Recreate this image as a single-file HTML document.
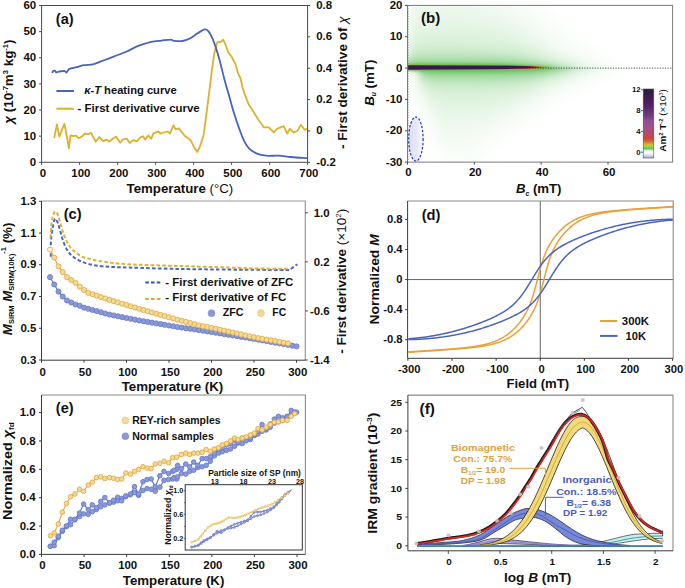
<!DOCTYPE html>
<html><head><meta charset="utf-8"><style>
html,body{margin:0;padding:0;background:#fff;overflow:hidden;}
svg{display:block;font-family:"Liberation Sans", sans-serif;}
</style></head><body>
<svg width="685" height="588" viewBox="0 0 685 588">
<rect width="685" height="588" fill="#fff"/>
<path d="M54.20,138.20 L56.90,124.30 L59.30,136.60 L64.40,123.90 L66.50,134.50 L68.90,148.40 L70.50,135.50 L73.60,136.20 L75.70,135.50 L78.70,138.20 L81.80,136.60 L84.90,133.50 L87.90,134.10 L91.00,132.90 L93.00,136.60 L95.70,141.70 L99.20,137.00 L103.20,141.10 L106.30,139.60 L109.40,141.70 L112.40,139.00 L116.10,136.60 L120.20,142.70 L122.70,139.60 L126.70,138.60 L129.80,143.10 L132.90,140.20 L137.00,141.30 L140.00,137.60 L143.10,136.20 L145.10,139.60 L148.20,135.50 L151.30,138.60 L153.30,133.50 L156.40,132.10 L158.40,131.50 L160.50,133.50 L163.50,132.50 L167.60,131.50 L170.10,133.50 L173.30,125.30 L175.80,129.40 L178.90,128.40 L184.90,136.00 L188.60,138.50 L191.00,140.90 L194.70,148.30 L197.20,152.00 L199.70,147.10 L203.40,136.00 L205.80,118.70 L209.60,89.10 L212.00,69.40 L214.50,52.10 L217.40,42.20 L220.70,42.20 L223.10,39.70 L225.60,44.70 L228.10,52.10 L231.80,57.00 L235.50,64.40 L238.00,73.10 L240.40,78.00 L242.90,89.10 L246.60,99.00 L249.00,105.10 L254.00,112.50 L257.70,118.70 L261.40,123.70 L263.80,127.40 L268.80,127.40 L273.70,132.30 L277.40,128.60 L283.60,126.10 L287.30,133.50 L289.80,128.60 L293.50,132.30 L297.20,131.10 L300.90,124.90 L304.60,129.80 L307.60,128.60" fill="none" stroke="#ddb02e" stroke-width="1.8" stroke-linejoin="round"/>
<path d="M52.20,72.90 L53.20,70.90 L54.80,70.50 L56.20,72.50 L59.30,71.50 L64.40,70.90 L66.50,72.50 L69.10,68.80 L69.10,68.80 C70.20,68.57 73.25,68.00 75.70,67.40 C78.15,66.80 80.92,65.72 83.80,65.20 C86.68,64.68 90.27,64.88 93.00,64.30 C95.73,63.72 97.63,62.65 100.20,61.70 C102.77,60.75 105.68,59.63 108.40,58.60 C111.12,57.57 113.45,56.68 116.50,55.50 C119.55,54.32 123.63,52.85 126.70,51.50 C129.77,50.15 132.50,48.50 134.90,47.40 C137.30,46.30 138.37,45.82 141.10,44.90 C143.83,43.98 147.90,42.62 151.30,41.90 C154.70,41.18 158.27,40.98 161.50,40.60 C164.73,40.22 168.65,39.57 170.70,39.60 C172.75,39.63 171.85,40.57 173.80,40.80 C175.75,41.03 179.73,41.38 182.40,41.00 C185.07,40.62 187.33,39.73 189.80,38.50 C192.27,37.27 194.73,35.12 197.20,33.60 C199.67,32.08 202.75,29.82 204.60,29.40 C206.45,28.98 207.07,29.78 208.30,31.10 C209.53,32.42 210.77,34.63 212.00,37.30 C213.23,39.97 214.47,43.40 215.70,47.10 C216.93,50.80 217.95,54.15 219.40,59.50 C220.85,64.85 222.75,73.03 224.40,79.20 C226.05,85.37 227.67,90.73 229.30,96.50 C230.93,102.27 232.55,108.45 234.20,113.80 C235.85,119.15 237.55,124.08 239.20,128.60 C240.85,133.12 242.47,137.62 244.10,140.90 C245.73,144.18 246.95,146.23 249.00,148.30 C251.05,150.37 253.52,152.07 256.40,153.30 C259.28,154.53 262.58,155.30 266.30,155.70 C270.02,156.10 274.58,155.48 278.70,155.70 C282.82,155.92 286.28,156.58 291.00,157.00 C295.72,157.42 304.33,158.00 307.00,158.20" fill="none" stroke="#4863bb" stroke-width="1.8" stroke-linejoin="round"/>
<rect x="41.6" y="5.5" width="266.00" height="156.80" fill="none" stroke="#4a4a4a" stroke-width="1.0"/>
<line x1="41.60" y1="162.3" x2="41.60" y2="164.8" stroke="#4a4a4a" stroke-width="1"/>
<text transform="translate(42.90,176.90) scale(1.1000,1)" x="0" y="0" font-size="10.4" text-anchor="middle" font-weight="bold" fill="#111">0</text>
<line x1="79.60" y1="162.3" x2="79.60" y2="164.8" stroke="#4a4a4a" stroke-width="1"/>
<text transform="translate(80.90,176.90) scale(1.1000,1)" x="0" y="0" font-size="10.4" text-anchor="middle" font-weight="bold" fill="#111">100</text>
<line x1="117.60" y1="162.3" x2="117.60" y2="164.8" stroke="#4a4a4a" stroke-width="1"/>
<text transform="translate(118.90,176.90) scale(1.1000,1)" x="0" y="0" font-size="10.4" text-anchor="middle" font-weight="bold" fill="#111">200</text>
<line x1="155.60" y1="162.3" x2="155.60" y2="164.8" stroke="#4a4a4a" stroke-width="1"/>
<text transform="translate(156.90,176.90) scale(1.1000,1)" x="0" y="0" font-size="10.4" text-anchor="middle" font-weight="bold" fill="#111">300</text>
<line x1="193.60" y1="162.3" x2="193.60" y2="164.8" stroke="#4a4a4a" stroke-width="1"/>
<text transform="translate(194.90,176.90) scale(1.1000,1)" x="0" y="0" font-size="10.4" text-anchor="middle" font-weight="bold" fill="#111">400</text>
<line x1="231.60" y1="162.3" x2="231.60" y2="164.8" stroke="#4a4a4a" stroke-width="1"/>
<text transform="translate(232.90,176.90) scale(1.1000,1)" x="0" y="0" font-size="10.4" text-anchor="middle" font-weight="bold" fill="#111">500</text>
<line x1="269.60" y1="162.3" x2="269.60" y2="164.8" stroke="#4a4a4a" stroke-width="1"/>
<text transform="translate(270.90,176.90) scale(1.1000,1)" x="0" y="0" font-size="10.4" text-anchor="middle" font-weight="bold" fill="#111">600</text>
<line x1="307.60" y1="162.3" x2="307.60" y2="164.8" stroke="#4a4a4a" stroke-width="1"/>
<text transform="translate(308.90,176.90) scale(1.1000,1)" x="0" y="0" font-size="10.4" text-anchor="middle" font-weight="bold" fill="#111">700</text>
<line x1="41.6" y1="162.30" x2="39.1" y2="162.30" stroke="#4a4a4a" stroke-width="1"/>
<text transform="translate(36.20,165.90) scale(1.1000,1)" x="0" y="0" font-size="10.4" text-anchor="end" font-weight="bold" fill="#111">0</text>
<line x1="41.6" y1="136.17" x2="39.1" y2="136.17" stroke="#4a4a4a" stroke-width="1"/>
<text transform="translate(36.20,139.77) scale(1.1000,1)" x="0" y="0" font-size="10.4" text-anchor="end" font-weight="bold" fill="#111">10</text>
<line x1="41.6" y1="110.03" x2="39.1" y2="110.03" stroke="#4a4a4a" stroke-width="1"/>
<text transform="translate(36.20,113.63) scale(1.1000,1)" x="0" y="0" font-size="10.4" text-anchor="end" font-weight="bold" fill="#111">20</text>
<line x1="41.6" y1="83.90" x2="39.1" y2="83.90" stroke="#4a4a4a" stroke-width="1"/>
<text transform="translate(36.20,87.50) scale(1.1000,1)" x="0" y="0" font-size="10.4" text-anchor="end" font-weight="bold" fill="#111">30</text>
<line x1="41.6" y1="57.77" x2="39.1" y2="57.77" stroke="#4a4a4a" stroke-width="1"/>
<text transform="translate(36.20,61.37) scale(1.1000,1)" x="0" y="0" font-size="10.4" text-anchor="end" font-weight="bold" fill="#111">40</text>
<line x1="41.6" y1="31.63" x2="39.1" y2="31.63" stroke="#4a4a4a" stroke-width="1"/>
<text transform="translate(36.20,35.23) scale(1.1000,1)" x="0" y="0" font-size="10.4" text-anchor="end" font-weight="bold" fill="#111">50</text>
<line x1="41.6" y1="5.50" x2="39.1" y2="5.50" stroke="#4a4a4a" stroke-width="1"/>
<text transform="translate(36.20,9.10) scale(1.1000,1)" x="0" y="0" font-size="10.4" text-anchor="end" font-weight="bold" fill="#111">60</text>
<line x1="307.6" y1="162.30" x2="310.1" y2="162.30" stroke="#4a4a4a" stroke-width="1"/>
<text transform="translate(316.20,165.70) scale(1.1000,1)" x="0" y="0" font-size="10.4" text-anchor="start" font-weight="bold" fill="#111">-0.2</text>
<line x1="307.6" y1="130.94" x2="310.1" y2="130.94" stroke="#4a4a4a" stroke-width="1"/>
<text transform="translate(316.20,134.34) scale(1.1000,1)" x="0" y="0" font-size="10.4" text-anchor="start" font-weight="bold" fill="#111">0</text>
<line x1="307.6" y1="99.58" x2="310.1" y2="99.58" stroke="#4a4a4a" stroke-width="1"/>
<text transform="translate(316.20,102.98) scale(1.1000,1)" x="0" y="0" font-size="10.4" text-anchor="start" font-weight="bold" fill="#111">0.2</text>
<line x1="307.6" y1="68.22" x2="310.1" y2="68.22" stroke="#4a4a4a" stroke-width="1"/>
<text transform="translate(316.20,71.62) scale(1.1000,1)" x="0" y="0" font-size="10.4" text-anchor="start" font-weight="bold" fill="#111">0.4</text>
<line x1="307.6" y1="36.86" x2="310.1" y2="36.86" stroke="#4a4a4a" stroke-width="1"/>
<text transform="translate(316.20,40.26) scale(1.1000,1)" x="0" y="0" font-size="10.4" text-anchor="start" font-weight="bold" fill="#111">0.6</text>
<line x1="307.6" y1="5.50" x2="310.1" y2="5.50" stroke="#4a4a4a" stroke-width="1"/>
<text transform="translate(316.20,8.90) scale(1.1000,1)" x="0" y="0" font-size="10.4" text-anchor="start" font-weight="bold" fill="#111">0.8</text>
<text transform="translate(126.70,193.10) scale(1.0783,1)" x="-0.12" y="0" font-size="12.3" font-weight="bold" fill="#111">Temperature <tspan font-weight="normal">(°C)</tspan></text>
<text transform="translate(56.50,24.00) scale(1.0267,1)" x="-0.64" y="0" font-size="14.2" font-weight="bold" fill="#111">(a)</text>
<line x1="56.4" y1="91" x2="73.9" y2="91" stroke="#4863bb" stroke-width="2"/>
<line x1="56.4" y1="108.7" x2="73.9" y2="108.7" stroke="#ddb02e" stroke-width="2"/>
<text transform="translate(84.90,94.10) scale(1.0443,1)" x="-0.70" y="0" font-size="10.7" font-weight="bold" fill="#111"><tspan font-style="italic">κ-T</tspan> heating curve</text>
<text transform="translate(77.90,111.80) scale(1.0619,1)" x="-0.38" y="0" font-size="10.8" font-weight="bold" fill="#111">- First derivative curve</text>
<text transform="translate(13.20,123.60) rotate(-90) scale(1.0879,1)" x="-0.06" y="0" font-size="12.3" font-weight="bold" fill="#111"><tspan font-style="italic">χ</tspan> (10<tspan font-size="7" dy="-5.2">-7</tspan><tspan dy="5.2">m</tspan><tspan font-size="7" dy="-5.2">3</tspan><tspan dy="5.2"> kg</tspan><tspan font-size="7" dy="-5.2">-1</tspan><tspan dy="5.2">)</tspan></text>
<text transform="translate(346.80,148.60) rotate(-90) scale(1.0314,1)" x="-0.46" y="0" font-size="13.2" font-weight="bold" fill="#111">- First derivative of <tspan font-style="italic" font-weight="normal">χ</tspan></text>
<defs><clipPath id="cb"><rect x="407.5" y="5.4" width="265.1" height="156.7"/></clipPath>
<filter id="bl1" x="-50%" y="-50%" width="200%" height="200%"><feGaussianBlur stdDeviation="1"/></filter>
<filter id="bl2" x="-50%" y="-50%" width="200%" height="200%"><feGaussianBlur stdDeviation="2"/></filter>
<filter id="bl3" x="-50%" y="-50%" width="200%" height="200%"><feGaussianBlur stdDeviation="3"/></filter>
<filter id="bl5" x="-50%" y="-50%" width="200%" height="200%"><feGaussianBlur stdDeviation="5"/></filter>
<filter id="bl8" x="-50%" y="-50%" width="200%" height="200%"><feGaussianBlur stdDeviation="8"/></filter>
</defs><g clip-path="url(#cb)">
<defs><linearGradient id="h0" gradientUnits="userSpaceOnUse" x1="407.5" y1="0" x2="672.6" y2="0"><stop offset="0.000" stop-color="#f6fcf6"/><stop offset="0.030" stop-color="#eff9ef"/><stop offset="0.060" stop-color="#eef8ee"/><stop offset="0.091" stop-color="#edf8ed"/><stop offset="0.121" stop-color="#edf8ed"/><stop offset="0.151" stop-color="#eef8ee"/><stop offset="0.181" stop-color="#eef8ee"/><stop offset="0.211" stop-color="#eef8ee"/><stop offset="0.241" stop-color="#eff8ef"/><stop offset="0.272" stop-color="#eff9ef"/><stop offset="0.302" stop-color="#f0f9f0"/><stop offset="0.332" stop-color="#f1faf1"/><stop offset="0.362" stop-color="#f3faf3"/><stop offset="0.392" stop-color="#f5fbf5"/><stop offset="0.422" stop-color="#f7fcf7"/><stop offset="0.453" stop-color="#f9fcf9"/><stop offset="0.483" stop-color="#fafdfa"/><stop offset="0.513" stop-color="#fcfefc"/><stop offset="0.543" stop-color="#fdfefd"/><stop offset="0.544" stop-color="#ffffff"/></linearGradient><linearGradient id="h1" gradientUnits="userSpaceOnUse" x1="407.5" y1="0" x2="672.6" y2="0"><stop offset="0.000" stop-color="#f6fbf6"/><stop offset="0.030" stop-color="#eef8ee"/><stop offset="0.060" stop-color="#edf8ed"/><stop offset="0.091" stop-color="#edf8ed"/><stop offset="0.121" stop-color="#edf8ed"/><stop offset="0.151" stop-color="#edf8ed"/><stop offset="0.181" stop-color="#edf8ed"/><stop offset="0.211" stop-color="#edf8ed"/><stop offset="0.241" stop-color="#eef8ee"/><stop offset="0.272" stop-color="#eff8ef"/><stop offset="0.302" stop-color="#f0f9f0"/><stop offset="0.332" stop-color="#f1f9f1"/><stop offset="0.362" stop-color="#f2faf2"/><stop offset="0.392" stop-color="#f4fbf4"/><stop offset="0.422" stop-color="#f6fcf6"/><stop offset="0.453" stop-color="#f8fcf8"/><stop offset="0.483" stop-color="#fafdfa"/><stop offset="0.513" stop-color="#fcfefc"/><stop offset="0.543" stop-color="#fdfefd"/><stop offset="0.544" stop-color="#ffffff"/></linearGradient><linearGradient id="h2" gradientUnits="userSpaceOnUse" x1="407.5" y1="0" x2="672.6" y2="0"><stop offset="0.000" stop-color="#f6fbf6"/><stop offset="0.030" stop-color="#eef8ee"/><stop offset="0.060" stop-color="#ecf8ec"/><stop offset="0.091" stop-color="#ecf8ec"/><stop offset="0.121" stop-color="#ecf8ec"/><stop offset="0.151" stop-color="#ecf8ec"/><stop offset="0.181" stop-color="#edf8ed"/><stop offset="0.211" stop-color="#edf8ed"/><stop offset="0.241" stop-color="#edf8ed"/><stop offset="0.272" stop-color="#eef8ee"/><stop offset="0.302" stop-color="#eff9ef"/><stop offset="0.332" stop-color="#f0f9f0"/><stop offset="0.362" stop-color="#f2faf2"/><stop offset="0.392" stop-color="#f4faf4"/><stop offset="0.422" stop-color="#f6fbf6"/><stop offset="0.453" stop-color="#f8fcf8"/><stop offset="0.483" stop-color="#fafdfa"/><stop offset="0.513" stop-color="#fbfefb"/><stop offset="0.543" stop-color="#fdfefd"/><stop offset="0.544" stop-color="#ffffff"/></linearGradient><linearGradient id="h3" gradientUnits="userSpaceOnUse" x1="407.5" y1="0" x2="672.6" y2="0"><stop offset="0.000" stop-color="#f6fbf6"/><stop offset="0.030" stop-color="#edf8ed"/><stop offset="0.060" stop-color="#ecf7ec"/><stop offset="0.091" stop-color="#ecf7ec"/><stop offset="0.121" stop-color="#ecf7ec"/><stop offset="0.151" stop-color="#ecf7ec"/><stop offset="0.181" stop-color="#ecf7ec"/><stop offset="0.211" stop-color="#ecf7ec"/><stop offset="0.241" stop-color="#edf8ed"/><stop offset="0.272" stop-color="#edf8ed"/><stop offset="0.302" stop-color="#eef8ee"/><stop offset="0.332" stop-color="#f0f9f0"/><stop offset="0.362" stop-color="#f1f9f1"/><stop offset="0.392" stop-color="#f3faf3"/><stop offset="0.422" stop-color="#f5fbf5"/><stop offset="0.453" stop-color="#f7fcf7"/><stop offset="0.483" stop-color="#fafdfa"/><stop offset="0.513" stop-color="#fbfdfb"/><stop offset="0.543" stop-color="#fcfefc"/><stop offset="0.573" stop-color="#fdfefd"/><stop offset="0.574" stop-color="#ffffff"/></linearGradient><linearGradient id="h4" gradientUnits="userSpaceOnUse" x1="407.5" y1="0" x2="672.6" y2="0"><stop offset="0.000" stop-color="#f5fbf5"/><stop offset="0.030" stop-color="#ecf8ec"/><stop offset="0.060" stop-color="#ebf7eb"/><stop offset="0.091" stop-color="#ebf7eb"/><stop offset="0.121" stop-color="#ebf7eb"/><stop offset="0.151" stop-color="#ebf7eb"/><stop offset="0.181" stop-color="#ebf7eb"/><stop offset="0.211" stop-color="#ebf7eb"/><stop offset="0.241" stop-color="#ecf7ec"/><stop offset="0.272" stop-color="#ecf8ec"/><stop offset="0.302" stop-color="#edf8ed"/><stop offset="0.332" stop-color="#eff9ef"/><stop offset="0.362" stop-color="#f1f9f1"/><stop offset="0.392" stop-color="#f3faf3"/><stop offset="0.422" stop-color="#f5fbf5"/><stop offset="0.453" stop-color="#f7fcf7"/><stop offset="0.483" stop-color="#f9fdf9"/><stop offset="0.513" stop-color="#fbfdfb"/><stop offset="0.543" stop-color="#fcfefc"/><stop offset="0.573" stop-color="#fdfefd"/><stop offset="0.574" stop-color="#ffffff"/></linearGradient><linearGradient id="h5" gradientUnits="userSpaceOnUse" x1="407.5" y1="0" x2="672.6" y2="0"><stop offset="0.000" stop-color="#f5fbf5"/><stop offset="0.030" stop-color="#ecf7ec"/><stop offset="0.060" stop-color="#eaf7ea"/><stop offset="0.091" stop-color="#eaf7ea"/><stop offset="0.121" stop-color="#eaf7ea"/><stop offset="0.151" stop-color="#eaf7ea"/><stop offset="0.181" stop-color="#eaf7ea"/><stop offset="0.211" stop-color="#ebf7eb"/><stop offset="0.241" stop-color="#ebf7eb"/><stop offset="0.272" stop-color="#ecf7ec"/><stop offset="0.302" stop-color="#edf8ed"/><stop offset="0.332" stop-color="#eef8ee"/><stop offset="0.362" stop-color="#f0f9f0"/><stop offset="0.392" stop-color="#f2faf2"/><stop offset="0.422" stop-color="#f4fbf4"/><stop offset="0.453" stop-color="#f7fcf7"/><stop offset="0.483" stop-color="#f9fcf9"/><stop offset="0.513" stop-color="#fbfdfb"/><stop offset="0.543" stop-color="#fcfefc"/><stop offset="0.573" stop-color="#fdfefd"/><stop offset="0.574" stop-color="#ffffff"/></linearGradient><linearGradient id="h6" gradientUnits="userSpaceOnUse" x1="407.5" y1="0" x2="672.6" y2="0"><stop offset="0.000" stop-color="#f5fbf5"/><stop offset="0.030" stop-color="#ebf7eb"/><stop offset="0.060" stop-color="#eaf6ea"/><stop offset="0.091" stop-color="#e9f6e9"/><stop offset="0.121" stop-color="#e9f6e9"/><stop offset="0.151" stop-color="#eaf6ea"/><stop offset="0.181" stop-color="#eaf7ea"/><stop offset="0.211" stop-color="#eaf7ea"/><stop offset="0.241" stop-color="#eaf7ea"/><stop offset="0.272" stop-color="#ebf7eb"/><stop offset="0.302" stop-color="#ecf7ec"/><stop offset="0.332" stop-color="#edf8ed"/><stop offset="0.362" stop-color="#eff9ef"/><stop offset="0.392" stop-color="#f1faf1"/><stop offset="0.422" stop-color="#f4faf4"/><stop offset="0.453" stop-color="#f6fbf6"/><stop offset="0.483" stop-color="#f8fcf8"/><stop offset="0.513" stop-color="#fafdfa"/><stop offset="0.543" stop-color="#fcfefc"/><stop offset="0.573" stop-color="#fdfefd"/><stop offset="0.574" stop-color="#ffffff"/></linearGradient><linearGradient id="h7" gradientUnits="userSpaceOnUse" x1="407.5" y1="0" x2="672.6" y2="0"><stop offset="0.000" stop-color="#f5fbf5"/><stop offset="0.030" stop-color="#eaf7ea"/><stop offset="0.060" stop-color="#e9f6e9"/><stop offset="0.091" stop-color="#e9f6e9"/><stop offset="0.121" stop-color="#e9f6e9"/><stop offset="0.151" stop-color="#e9f6e9"/><stop offset="0.181" stop-color="#e9f6e9"/><stop offset="0.211" stop-color="#e9f6e9"/><stop offset="0.241" stop-color="#eaf7ea"/><stop offset="0.272" stop-color="#eaf7ea"/><stop offset="0.302" stop-color="#ebf7eb"/><stop offset="0.332" stop-color="#edf8ed"/><stop offset="0.362" stop-color="#eef8ee"/><stop offset="0.392" stop-color="#f1f9f1"/><stop offset="0.422" stop-color="#f3faf3"/><stop offset="0.453" stop-color="#f5fbf5"/><stop offset="0.483" stop-color="#f8fcf8"/><stop offset="0.513" stop-color="#fafdfa"/><stop offset="0.543" stop-color="#fcfefc"/><stop offset="0.573" stop-color="#fdfefd"/><stop offset="0.574" stop-color="#ffffff"/></linearGradient><linearGradient id="h8" gradientUnits="userSpaceOnUse" x1="407.5" y1="0" x2="672.6" y2="0"><stop offset="0.000" stop-color="#f4fbf4"/><stop offset="0.030" stop-color="#eaf7ea"/><stop offset="0.060" stop-color="#e8f6e8"/><stop offset="0.091" stop-color="#e8f6e8"/><stop offset="0.121" stop-color="#e8f6e8"/><stop offset="0.151" stop-color="#e8f6e8"/><stop offset="0.181" stop-color="#e8f6e8"/><stop offset="0.211" stop-color="#e8f6e8"/><stop offset="0.241" stop-color="#e9f6e9"/><stop offset="0.272" stop-color="#e9f6e9"/><stop offset="0.302" stop-color="#eaf7ea"/><stop offset="0.332" stop-color="#ecf7ec"/><stop offset="0.362" stop-color="#eef8ee"/><stop offset="0.392" stop-color="#f0f9f0"/><stop offset="0.422" stop-color="#f2faf2"/><stop offset="0.453" stop-color="#f5fbf5"/><stop offset="0.483" stop-color="#f7fcf7"/><stop offset="0.513" stop-color="#fafdfa"/><stop offset="0.543" stop-color="#fbfefb"/><stop offset="0.573" stop-color="#fdfefd"/><stop offset="0.574" stop-color="#ffffff"/></linearGradient><linearGradient id="h9" gradientUnits="userSpaceOnUse" x1="407.5" y1="0" x2="672.6" y2="0"><stop offset="0.000" stop-color="#f4fbf4"/><stop offset="0.030" stop-color="#e9f6e9"/><stop offset="0.060" stop-color="#e7f6e7"/><stop offset="0.091" stop-color="#e7f6e7"/><stop offset="0.121" stop-color="#e7f6e7"/><stop offset="0.151" stop-color="#e7f6e7"/><stop offset="0.181" stop-color="#e7f6e7"/><stop offset="0.211" stop-color="#e8f6e8"/><stop offset="0.241" stop-color="#e8f6e8"/><stop offset="0.272" stop-color="#e9f6e9"/><stop offset="0.302" stop-color="#eaf6ea"/><stop offset="0.332" stop-color="#ebf7eb"/><stop offset="0.362" stop-color="#edf8ed"/><stop offset="0.392" stop-color="#eff9ef"/><stop offset="0.422" stop-color="#f2faf2"/><stop offset="0.453" stop-color="#f4fbf4"/><stop offset="0.483" stop-color="#f7fcf7"/><stop offset="0.513" stop-color="#f9fdf9"/><stop offset="0.543" stop-color="#fbfdfb"/><stop offset="0.573" stop-color="#fcfefc"/><stop offset="0.604" stop-color="#fdfefd"/><stop offset="0.605" stop-color="#ffffff"/></linearGradient><linearGradient id="h10" gradientUnits="userSpaceOnUse" x1="407.5" y1="0" x2="672.6" y2="0"><stop offset="0.000" stop-color="#f4faf4"/><stop offset="0.030" stop-color="#e8f6e8"/><stop offset="0.060" stop-color="#e7f5e7"/><stop offset="0.091" stop-color="#e6f5e6"/><stop offset="0.121" stop-color="#e6f5e6"/><stop offset="0.151" stop-color="#e7f5e7"/><stop offset="0.181" stop-color="#e7f5e7"/><stop offset="0.211" stop-color="#e7f5e7"/><stop offset="0.241" stop-color="#e7f6e7"/><stop offset="0.272" stop-color="#e8f6e8"/><stop offset="0.302" stop-color="#e9f6e9"/><stop offset="0.332" stop-color="#eaf7ea"/><stop offset="0.362" stop-color="#ecf7ec"/><stop offset="0.392" stop-color="#eef8ee"/><stop offset="0.422" stop-color="#f1f9f1"/><stop offset="0.453" stop-color="#f4faf4"/><stop offset="0.483" stop-color="#f6fcf6"/><stop offset="0.513" stop-color="#f9fdf9"/><stop offset="0.543" stop-color="#fbfdfb"/><stop offset="0.573" stop-color="#fcfefc"/><stop offset="0.604" stop-color="#fdfefd"/><stop offset="0.605" stop-color="#ffffff"/></linearGradient><linearGradient id="h11" gradientUnits="userSpaceOnUse" x1="407.5" y1="0" x2="672.6" y2="0"><stop offset="0.000" stop-color="#f3faf3"/><stop offset="0.030" stop-color="#e7f6e7"/><stop offset="0.060" stop-color="#e6f5e6"/><stop offset="0.091" stop-color="#e6f5e6"/><stop offset="0.121" stop-color="#e6f5e6"/><stop offset="0.151" stop-color="#e6f5e6"/><stop offset="0.181" stop-color="#e6f5e6"/><stop offset="0.211" stop-color="#e6f5e6"/><stop offset="0.241" stop-color="#e6f5e6"/><stop offset="0.272" stop-color="#e7f5e7"/><stop offset="0.302" stop-color="#e8f6e8"/><stop offset="0.332" stop-color="#e9f6e9"/><stop offset="0.362" stop-color="#ebf7eb"/><stop offset="0.392" stop-color="#edf8ed"/><stop offset="0.422" stop-color="#f0f9f0"/><stop offset="0.453" stop-color="#f3faf3"/><stop offset="0.483" stop-color="#f6fbf6"/><stop offset="0.513" stop-color="#f8fcf8"/><stop offset="0.543" stop-color="#fafdfa"/><stop offset="0.573" stop-color="#fcfefc"/><stop offset="0.604" stop-color="#fdfefd"/><stop offset="0.605" stop-color="#ffffff"/></linearGradient><linearGradient id="h12" gradientUnits="userSpaceOnUse" x1="407.5" y1="0" x2="672.6" y2="0"><stop offset="0.000" stop-color="#f3faf3"/><stop offset="0.030" stop-color="#e7f5e7"/><stop offset="0.060" stop-color="#e5f5e5"/><stop offset="0.091" stop-color="#e5f5e5"/><stop offset="0.121" stop-color="#e5f5e5"/><stop offset="0.151" stop-color="#e5f5e5"/><stop offset="0.181" stop-color="#e5f5e5"/><stop offset="0.211" stop-color="#e5f5e5"/><stop offset="0.241" stop-color="#e6f5e6"/><stop offset="0.272" stop-color="#e6f5e6"/><stop offset="0.302" stop-color="#e7f5e7"/><stop offset="0.332" stop-color="#e8f6e8"/><stop offset="0.362" stop-color="#eaf7ea"/><stop offset="0.392" stop-color="#ecf8ec"/><stop offset="0.422" stop-color="#f0f9f0"/><stop offset="0.453" stop-color="#f2faf2"/><stop offset="0.483" stop-color="#f5fbf5"/><stop offset="0.513" stop-color="#f8fcf8"/><stop offset="0.543" stop-color="#fafdfa"/><stop offset="0.573" stop-color="#fcfefc"/><stop offset="0.604" stop-color="#fdfefd"/><stop offset="0.605" stop-color="#ffffff"/></linearGradient><linearGradient id="h13" gradientUnits="userSpaceOnUse" x1="407.5" y1="0" x2="672.6" y2="0"><stop offset="0.000" stop-color="#f3faf3"/><stop offset="0.030" stop-color="#e6f5e6"/><stop offset="0.060" stop-color="#e4f4e4"/><stop offset="0.091" stop-color="#e4f4e4"/><stop offset="0.121" stop-color="#e4f4e4"/><stop offset="0.151" stop-color="#e4f4e4"/><stop offset="0.181" stop-color="#e4f4e4"/><stop offset="0.211" stop-color="#e4f4e4"/><stop offset="0.241" stop-color="#e5f5e5"/><stop offset="0.272" stop-color="#e5f5e5"/><stop offset="0.302" stop-color="#e6f5e6"/><stop offset="0.332" stop-color="#e7f6e7"/><stop offset="0.362" stop-color="#e9f6e9"/><stop offset="0.392" stop-color="#ebf7eb"/><stop offset="0.422" stop-color="#eff8ef"/><stop offset="0.453" stop-color="#f2faf2"/><stop offset="0.483" stop-color="#f5fbf5"/><stop offset="0.513" stop-color="#f7fcf7"/><stop offset="0.543" stop-color="#fafdfa"/><stop offset="0.573" stop-color="#fbfefb"/><stop offset="0.604" stop-color="#fdfefd"/><stop offset="0.605" stop-color="#ffffff"/></linearGradient><linearGradient id="h14" gradientUnits="userSpaceOnUse" x1="407.5" y1="0" x2="672.6" y2="0"><stop offset="0.000" stop-color="#f2faf2"/><stop offset="0.030" stop-color="#e5f5e5"/><stop offset="0.060" stop-color="#e3f4e3"/><stop offset="0.091" stop-color="#e3f4e3"/><stop offset="0.121" stop-color="#e3f4e3"/><stop offset="0.151" stop-color="#e3f4e3"/><stop offset="0.181" stop-color="#e3f4e3"/><stop offset="0.211" stop-color="#e3f4e3"/><stop offset="0.241" stop-color="#e4f4e4"/><stop offset="0.272" stop-color="#e4f4e4"/><stop offset="0.302" stop-color="#e5f5e5"/><stop offset="0.332" stop-color="#e6f5e6"/><stop offset="0.362" stop-color="#e8f6e8"/><stop offset="0.392" stop-color="#eaf7ea"/><stop offset="0.422" stop-color="#eef8ee"/><stop offset="0.453" stop-color="#f1f9f1"/><stop offset="0.483" stop-color="#f4fbf4"/><stop offset="0.513" stop-color="#f7fcf7"/><stop offset="0.543" stop-color="#f9fdf9"/><stop offset="0.573" stop-color="#fbfdfb"/><stop offset="0.604" stop-color="#fcfefc"/><stop offset="0.634" stop-color="#fdfefd"/><stop offset="0.635" stop-color="#ffffff"/></linearGradient><linearGradient id="h15" gradientUnits="userSpaceOnUse" x1="407.5" y1="0" x2="672.6" y2="0"><stop offset="0.000" stop-color="#f2faf2"/><stop offset="0.030" stop-color="#e4f4e4"/><stop offset="0.060" stop-color="#e2f4e2"/><stop offset="0.091" stop-color="#e2f3e2"/><stop offset="0.121" stop-color="#e2f3e2"/><stop offset="0.151" stop-color="#e2f4e2"/><stop offset="0.181" stop-color="#e2f4e2"/><stop offset="0.211" stop-color="#e2f4e2"/><stop offset="0.241" stop-color="#e3f4e3"/><stop offset="0.272" stop-color="#e3f4e3"/><stop offset="0.302" stop-color="#e4f4e4"/><stop offset="0.332" stop-color="#e5f5e5"/><stop offset="0.362" stop-color="#e7f5e7"/><stop offset="0.392" stop-color="#e9f6e9"/><stop offset="0.422" stop-color="#edf8ed"/><stop offset="0.453" stop-color="#f0f9f0"/><stop offset="0.483" stop-color="#f3faf3"/><stop offset="0.513" stop-color="#f6fcf6"/><stop offset="0.543" stop-color="#f9fdf9"/><stop offset="0.573" stop-color="#fbfdfb"/><stop offset="0.604" stop-color="#fcfefc"/><stop offset="0.634" stop-color="#fdfefd"/><stop offset="0.635" stop-color="#ffffff"/></linearGradient><linearGradient id="h16" gradientUnits="userSpaceOnUse" x1="407.5" y1="0" x2="672.6" y2="0"><stop offset="0.000" stop-color="#f1faf1"/><stop offset="0.030" stop-color="#e3f4e3"/><stop offset="0.060" stop-color="#e1f3e1"/><stop offset="0.091" stop-color="#e1f3e1"/><stop offset="0.121" stop-color="#e1f3e1"/><stop offset="0.151" stop-color="#e1f3e1"/><stop offset="0.181" stop-color="#e1f3e1"/><stop offset="0.211" stop-color="#e1f3e1"/><stop offset="0.241" stop-color="#e2f3e2"/><stop offset="0.272" stop-color="#e2f4e2"/><stop offset="0.302" stop-color="#e3f4e3"/><stop offset="0.332" stop-color="#e4f4e4"/><stop offset="0.362" stop-color="#e6f5e6"/><stop offset="0.392" stop-color="#e8f6e8"/><stop offset="0.422" stop-color="#ecf7ec"/><stop offset="0.453" stop-color="#eff9ef"/><stop offset="0.483" stop-color="#f3faf3"/><stop offset="0.513" stop-color="#f6fbf6"/><stop offset="0.543" stop-color="#f8fcf8"/><stop offset="0.573" stop-color="#fafdfa"/><stop offset="0.604" stop-color="#fcfefc"/><stop offset="0.634" stop-color="#fdfefd"/><stop offset="0.635" stop-color="#ffffff"/></linearGradient><linearGradient id="h17" gradientUnits="userSpaceOnUse" x1="407.5" y1="0" x2="672.6" y2="0"><stop offset="0.000" stop-color="#f1f9f1"/><stop offset="0.030" stop-color="#e2f4e2"/><stop offset="0.060" stop-color="#e0f3e0"/><stop offset="0.091" stop-color="#e0f3e0"/><stop offset="0.121" stop-color="#e0f3e0"/><stop offset="0.151" stop-color="#e0f3e0"/><stop offset="0.181" stop-color="#e0f3e0"/><stop offset="0.211" stop-color="#e0f3e0"/><stop offset="0.241" stop-color="#e1f3e1"/><stop offset="0.272" stop-color="#e1f3e1"/><stop offset="0.302" stop-color="#e2f3e2"/><stop offset="0.332" stop-color="#e3f4e3"/><stop offset="0.362" stop-color="#e5f5e5"/><stop offset="0.392" stop-color="#e7f6e7"/><stop offset="0.422" stop-color="#eaf7ea"/><stop offset="0.453" stop-color="#eef8ee"/><stop offset="0.483" stop-color="#f2faf2"/><stop offset="0.513" stop-color="#f5fbf5"/><stop offset="0.543" stop-color="#f8fcf8"/><stop offset="0.573" stop-color="#fafdfa"/><stop offset="0.604" stop-color="#fcfefc"/><stop offset="0.634" stop-color="#fdfefd"/><stop offset="0.635" stop-color="#ffffff"/></linearGradient><linearGradient id="h18" gradientUnits="userSpaceOnUse" x1="407.5" y1="0" x2="672.6" y2="0"><stop offset="0.000" stop-color="#f1f9f1"/><stop offset="0.030" stop-color="#e1f3e1"/><stop offset="0.060" stop-color="#dff2df"/><stop offset="0.091" stop-color="#dff2df"/><stop offset="0.121" stop-color="#dff2df"/><stop offset="0.151" stop-color="#dff2df"/><stop offset="0.181" stop-color="#dff2df"/><stop offset="0.211" stop-color="#dff2df"/><stop offset="0.241" stop-color="#e0f3e0"/><stop offset="0.272" stop-color="#e0f3e0"/><stop offset="0.302" stop-color="#e1f3e1"/><stop offset="0.332" stop-color="#e2f3e2"/><stop offset="0.362" stop-color="#e4f4e4"/><stop offset="0.392" stop-color="#e6f5e6"/><stop offset="0.422" stop-color="#e9f6e9"/><stop offset="0.453" stop-color="#edf8ed"/><stop offset="0.483" stop-color="#f1f9f1"/><stop offset="0.513" stop-color="#f4fbf4"/><stop offset="0.543" stop-color="#f7fcf7"/><stop offset="0.573" stop-color="#fafdfa"/><stop offset="0.604" stop-color="#fbfefb"/><stop offset="0.634" stop-color="#fdfefd"/><stop offset="0.635" stop-color="#ffffff"/></linearGradient><linearGradient id="h19" gradientUnits="userSpaceOnUse" x1="407.5" y1="0" x2="672.6" y2="0"><stop offset="0.000" stop-color="#f0f9f0"/><stop offset="0.030" stop-color="#e0f3e0"/><stop offset="0.060" stop-color="#def2de"/><stop offset="0.091" stop-color="#def2de"/><stop offset="0.121" stop-color="#def2de"/><stop offset="0.151" stop-color="#def2de"/><stop offset="0.181" stop-color="#def2de"/><stop offset="0.211" stop-color="#def2de"/><stop offset="0.241" stop-color="#def2de"/><stop offset="0.272" stop-color="#dff2df"/><stop offset="0.302" stop-color="#e0f3e0"/><stop offset="0.332" stop-color="#e1f3e1"/><stop offset="0.362" stop-color="#e2f4e2"/><stop offset="0.392" stop-color="#e5f5e5"/><stop offset="0.422" stop-color="#e8f6e8"/><stop offset="0.453" stop-color="#ecf7ec"/><stop offset="0.483" stop-color="#f0f9f0"/><stop offset="0.513" stop-color="#f4faf4"/><stop offset="0.543" stop-color="#f7fcf7"/><stop offset="0.573" stop-color="#f9fdf9"/><stop offset="0.604" stop-color="#fbfdfb"/><stop offset="0.634" stop-color="#fcfefc"/><stop offset="0.664" stop-color="#fdfefd"/><stop offset="0.665" stop-color="#ffffff"/></linearGradient><linearGradient id="h20" gradientUnits="userSpaceOnUse" x1="407.5" y1="0" x2="672.6" y2="0"><stop offset="0.000" stop-color="#f0f9f0"/><stop offset="0.030" stop-color="#dff2df"/><stop offset="0.060" stop-color="#ddf1dd"/><stop offset="0.091" stop-color="#ddf1dd"/><stop offset="0.121" stop-color="#ddf1dd"/><stop offset="0.151" stop-color="#ddf1dd"/><stop offset="0.181" stop-color="#ddf1dd"/><stop offset="0.211" stop-color="#ddf2dd"/><stop offset="0.241" stop-color="#ddf2dd"/><stop offset="0.272" stop-color="#def2de"/><stop offset="0.302" stop-color="#def2de"/><stop offset="0.332" stop-color="#e0f3e0"/><stop offset="0.362" stop-color="#e1f3e1"/><stop offset="0.392" stop-color="#e4f4e4"/><stop offset="0.422" stop-color="#e7f5e7"/><stop offset="0.453" stop-color="#ebf7eb"/><stop offset="0.483" stop-color="#eff9ef"/><stop offset="0.513" stop-color="#f3faf3"/><stop offset="0.543" stop-color="#f6fbf6"/><stop offset="0.573" stop-color="#f9fcf9"/><stop offset="0.604" stop-color="#fbfdfb"/><stop offset="0.634" stop-color="#fcfefc"/><stop offset="0.664" stop-color="#fdfefd"/><stop offset="0.665" stop-color="#ffffff"/></linearGradient><linearGradient id="h21" gradientUnits="userSpaceOnUse" x1="407.5" y1="0" x2="672.6" y2="0"><stop offset="0.000" stop-color="#eff9ef"/><stop offset="0.030" stop-color="#def2de"/><stop offset="0.060" stop-color="#dcf1dc"/><stop offset="0.091" stop-color="#dbf1db"/><stop offset="0.121" stop-color="#dbf1db"/><stop offset="0.151" stop-color="#dbf1db"/><stop offset="0.181" stop-color="#dcf1dc"/><stop offset="0.211" stop-color="#dcf1dc"/><stop offset="0.241" stop-color="#dcf1dc"/><stop offset="0.272" stop-color="#dcf1dc"/><stop offset="0.302" stop-color="#ddf2dd"/><stop offset="0.332" stop-color="#def2de"/><stop offset="0.362" stop-color="#e0f3e0"/><stop offset="0.392" stop-color="#e2f4e2"/><stop offset="0.422" stop-color="#e5f5e5"/><stop offset="0.453" stop-color="#e9f6e9"/><stop offset="0.483" stop-color="#eef8ee"/><stop offset="0.513" stop-color="#f2faf2"/><stop offset="0.543" stop-color="#f5fbf5"/><stop offset="0.573" stop-color="#f8fcf8"/><stop offset="0.604" stop-color="#fafdfa"/><stop offset="0.634" stop-color="#fcfefc"/><stop offset="0.664" stop-color="#fdfefd"/><stop offset="0.665" stop-color="#ffffff"/></linearGradient><linearGradient id="h22" gradientUnits="userSpaceOnUse" x1="407.5" y1="0" x2="672.6" y2="0"><stop offset="0.000" stop-color="#eef8ee"/><stop offset="0.030" stop-color="#ddf1dd"/><stop offset="0.060" stop-color="#daf1da"/><stop offset="0.091" stop-color="#daf0da"/><stop offset="0.121" stop-color="#daf0da"/><stop offset="0.151" stop-color="#daf0da"/><stop offset="0.181" stop-color="#daf0da"/><stop offset="0.211" stop-color="#daf1da"/><stop offset="0.241" stop-color="#dbf1db"/><stop offset="0.272" stop-color="#dbf1db"/><stop offset="0.302" stop-color="#dcf1dc"/><stop offset="0.332" stop-color="#ddf2dd"/><stop offset="0.362" stop-color="#dff2df"/><stop offset="0.392" stop-color="#e1f3e1"/><stop offset="0.422" stop-color="#e4f4e4"/><stop offset="0.453" stop-color="#e8f6e8"/><stop offset="0.483" stop-color="#edf8ed"/><stop offset="0.513" stop-color="#f1f9f1"/><stop offset="0.543" stop-color="#f5fbf5"/><stop offset="0.573" stop-color="#f8fcf8"/><stop offset="0.604" stop-color="#fafdfa"/><stop offset="0.634" stop-color="#fcfefc"/><stop offset="0.664" stop-color="#fdfefd"/><stop offset="0.665" stop-color="#ffffff"/></linearGradient><linearGradient id="h23" gradientUnits="userSpaceOnUse" x1="407.5" y1="0" x2="672.6" y2="0"><stop offset="0.000" stop-color="#eef8ee"/><stop offset="0.030" stop-color="#dbf1db"/><stop offset="0.060" stop-color="#d9f0d9"/><stop offset="0.091" stop-color="#d9f0d9"/><stop offset="0.121" stop-color="#d9f0d9"/><stop offset="0.151" stop-color="#d9f0d9"/><stop offset="0.181" stop-color="#d9f0d9"/><stop offset="0.211" stop-color="#d9f0d9"/><stop offset="0.241" stop-color="#d9f0d9"/><stop offset="0.272" stop-color="#daf0da"/><stop offset="0.302" stop-color="#daf1da"/><stop offset="0.332" stop-color="#dbf1db"/><stop offset="0.362" stop-color="#ddf2dd"/><stop offset="0.392" stop-color="#dff2df"/><stop offset="0.422" stop-color="#e3f4e3"/><stop offset="0.453" stop-color="#e7f5e7"/><stop offset="0.483" stop-color="#ebf7eb"/><stop offset="0.513" stop-color="#f0f9f0"/><stop offset="0.543" stop-color="#f4fbf4"/><stop offset="0.573" stop-color="#f7fcf7"/><stop offset="0.604" stop-color="#f9fdf9"/><stop offset="0.634" stop-color="#fbfdfb"/><stop offset="0.664" stop-color="#fcfefc"/><stop offset="0.694" stop-color="#fdfefd"/><stop offset="0.695" stop-color="#ffffff"/></linearGradient><linearGradient id="h24" gradientUnits="userSpaceOnUse" x1="407.5" y1="0" x2="672.6" y2="0"><stop offset="0.000" stop-color="#edf8ed"/><stop offset="0.030" stop-color="#daf0da"/><stop offset="0.060" stop-color="#d8efd8"/><stop offset="0.091" stop-color="#d7efd7"/><stop offset="0.121" stop-color="#d7efd7"/><stop offset="0.151" stop-color="#d7efd7"/><stop offset="0.181" stop-color="#d7efd7"/><stop offset="0.211" stop-color="#d8efd8"/><stop offset="0.241" stop-color="#d8f0d8"/><stop offset="0.272" stop-color="#d8f0d8"/><stop offset="0.302" stop-color="#d9f0d9"/><stop offset="0.332" stop-color="#daf0da"/><stop offset="0.362" stop-color="#dcf1dc"/><stop offset="0.392" stop-color="#def2de"/><stop offset="0.422" stop-color="#e1f3e1"/><stop offset="0.453" stop-color="#e5f5e5"/><stop offset="0.483" stop-color="#eaf7ea"/><stop offset="0.513" stop-color="#eff9ef"/><stop offset="0.543" stop-color="#f3faf3"/><stop offset="0.573" stop-color="#f6fbf6"/><stop offset="0.604" stop-color="#f9fdf9"/><stop offset="0.634" stop-color="#fbfdfb"/><stop offset="0.664" stop-color="#fcfefc"/><stop offset="0.694" stop-color="#fdfefd"/><stop offset="0.695" stop-color="#ffffff"/></linearGradient><linearGradient id="h25" gradientUnits="userSpaceOnUse" x1="407.5" y1="0" x2="672.6" y2="0"><stop offset="0.000" stop-color="#ecf7ec"/><stop offset="0.030" stop-color="#d9f0d9"/><stop offset="0.060" stop-color="#d6efd6"/><stop offset="0.091" stop-color="#d6efd6"/><stop offset="0.121" stop-color="#d6efd6"/><stop offset="0.151" stop-color="#d6efd6"/><stop offset="0.181" stop-color="#d6efd6"/><stop offset="0.211" stop-color="#d6efd6"/><stop offset="0.241" stop-color="#d6efd6"/><stop offset="0.272" stop-color="#d7efd7"/><stop offset="0.302" stop-color="#d7efd7"/><stop offset="0.332" stop-color="#d8f0d8"/><stop offset="0.362" stop-color="#daf0da"/><stop offset="0.392" stop-color="#dcf1dc"/><stop offset="0.422" stop-color="#dff2df"/><stop offset="0.453" stop-color="#e3f4e3"/><stop offset="0.483" stop-color="#e8f6e8"/><stop offset="0.513" stop-color="#edf8ed"/><stop offset="0.543" stop-color="#f2faf2"/><stop offset="0.573" stop-color="#f5fbf5"/><stop offset="0.604" stop-color="#f8fcf8"/><stop offset="0.634" stop-color="#fafdfa"/><stop offset="0.664" stop-color="#fcfefc"/><stop offset="0.694" stop-color="#fdfefd"/><stop offset="0.695" stop-color="#ffffff"/></linearGradient><linearGradient id="h26" gradientUnits="userSpaceOnUse" x1="407.5" y1="0" x2="672.6" y2="0"><stop offset="0.000" stop-color="#ebf7eb"/><stop offset="0.030" stop-color="#d7efd7"/><stop offset="0.060" stop-color="#d4eed4"/><stop offset="0.091" stop-color="#d4eed4"/><stop offset="0.121" stop-color="#d4eed4"/><stop offset="0.151" stop-color="#d4eed4"/><stop offset="0.181" stop-color="#d4eed4"/><stop offset="0.211" stop-color="#d4eed4"/><stop offset="0.241" stop-color="#d5eed5"/><stop offset="0.272" stop-color="#d5eed5"/><stop offset="0.302" stop-color="#d6efd6"/><stop offset="0.332" stop-color="#d7efd7"/><stop offset="0.362" stop-color="#d8f0d8"/><stop offset="0.392" stop-color="#daf0da"/><stop offset="0.422" stop-color="#ddf2dd"/><stop offset="0.453" stop-color="#e2f3e2"/><stop offset="0.483" stop-color="#e6f5e6"/><stop offset="0.513" stop-color="#ecf7ec"/><stop offset="0.543" stop-color="#f1f9f1"/><stop offset="0.573" stop-color="#f5fbf5"/><stop offset="0.604" stop-color="#f8fcf8"/><stop offset="0.634" stop-color="#fafdfa"/><stop offset="0.664" stop-color="#fcfefc"/><stop offset="0.694" stop-color="#fdfefd"/><stop offset="0.695" stop-color="#ffffff"/></linearGradient><linearGradient id="h27" gradientUnits="userSpaceOnUse" x1="407.5" y1="0" x2="672.6" y2="0"><stop offset="0.000" stop-color="#eaf7ea"/><stop offset="0.030" stop-color="#d5efd5"/><stop offset="0.060" stop-color="#d2edd2"/><stop offset="0.091" stop-color="#d1edd1"/><stop offset="0.121" stop-color="#d1edd1"/><stop offset="0.151" stop-color="#d1edd1"/><stop offset="0.181" stop-color="#d1edd1"/><stop offset="0.211" stop-color="#d2edd2"/><stop offset="0.241" stop-color="#d2edd2"/><stop offset="0.272" stop-color="#d3edd3"/><stop offset="0.302" stop-color="#d4eed4"/><stop offset="0.332" stop-color="#d5eed5"/><stop offset="0.362" stop-color="#d6efd6"/><stop offset="0.392" stop-color="#d8f0d8"/><stop offset="0.422" stop-color="#dcf1dc"/><stop offset="0.453" stop-color="#e0f3e0"/><stop offset="0.483" stop-color="#e5f5e5"/><stop offset="0.513" stop-color="#eaf7ea"/><stop offset="0.543" stop-color="#f0f9f0"/><stop offset="0.573" stop-color="#f4faf4"/><stop offset="0.604" stop-color="#f7fcf7"/><stop offset="0.634" stop-color="#f9fdf9"/><stop offset="0.664" stop-color="#fbfdfb"/><stop offset="0.694" stop-color="#fcfefc"/><stop offset="0.724" stop-color="#fdfefd"/><stop offset="0.725" stop-color="#ffffff"/></linearGradient><linearGradient id="h28" gradientUnits="userSpaceOnUse" x1="407.5" y1="0" x2="672.6" y2="0"><stop offset="0.000" stop-color="#e9f6e9"/><stop offset="0.030" stop-color="#d3eed3"/><stop offset="0.060" stop-color="#cfeccf"/><stop offset="0.091" stop-color="#ceecce"/><stop offset="0.121" stop-color="#ceecce"/><stop offset="0.151" stop-color="#ceecce"/><stop offset="0.181" stop-color="#ceecce"/><stop offset="0.211" stop-color="#cfeccf"/><stop offset="0.241" stop-color="#cfeccf"/><stop offset="0.272" stop-color="#d0ecd0"/><stop offset="0.302" stop-color="#d1edd1"/><stop offset="0.332" stop-color="#d2edd2"/><stop offset="0.362" stop-color="#d4eed4"/><stop offset="0.392" stop-color="#d6efd6"/><stop offset="0.422" stop-color="#d9f0d9"/><stop offset="0.453" stop-color="#ddf2dd"/><stop offset="0.483" stop-color="#e3f4e3"/><stop offset="0.513" stop-color="#e8f6e8"/><stop offset="0.543" stop-color="#eef8ee"/><stop offset="0.573" stop-color="#f2faf2"/><stop offset="0.604" stop-color="#f6fbf6"/><stop offset="0.634" stop-color="#f9fcf9"/><stop offset="0.664" stop-color="#fbfdfb"/><stop offset="0.694" stop-color="#fcfefc"/><stop offset="0.724" stop-color="#fdfefd"/><stop offset="0.725" stop-color="#ffffff"/></linearGradient><linearGradient id="h29" gradientUnits="userSpaceOnUse" x1="407.5" y1="0" x2="672.6" y2="0"><stop offset="0.000" stop-color="#e8f6e8"/><stop offset="0.030" stop-color="#d0ecd0"/><stop offset="0.060" stop-color="#ccebcc"/><stop offset="0.091" stop-color="#cbeacb"/><stop offset="0.121" stop-color="#cbeacb"/><stop offset="0.151" stop-color="#cbeacb"/><stop offset="0.181" stop-color="#cbeacb"/><stop offset="0.211" stop-color="#cbeacb"/><stop offset="0.241" stop-color="#ccebcc"/><stop offset="0.272" stop-color="#ccebcc"/><stop offset="0.302" stop-color="#cdebcd"/><stop offset="0.332" stop-color="#cfeccf"/><stop offset="0.362" stop-color="#d1edd1"/><stop offset="0.392" stop-color="#d4eed4"/><stop offset="0.422" stop-color="#d7efd7"/><stop offset="0.453" stop-color="#dbf1db"/><stop offset="0.483" stop-color="#e0f3e0"/><stop offset="0.513" stop-color="#e6f5e6"/><stop offset="0.543" stop-color="#ecf7ec"/><stop offset="0.573" stop-color="#f1f9f1"/><stop offset="0.604" stop-color="#f5fbf5"/><stop offset="0.634" stop-color="#f8fcf8"/><stop offset="0.664" stop-color="#fafdfa"/><stop offset="0.694" stop-color="#fcfefc"/><stop offset="0.724" stop-color="#fdfefd"/><stop offset="0.725" stop-color="#ffffff"/></linearGradient><linearGradient id="h30" gradientUnits="userSpaceOnUse" x1="407.5" y1="0" x2="672.6" y2="0"><stop offset="0.000" stop-color="#e4f4e4"/><stop offset="0.030" stop-color="#ccebcc"/><stop offset="0.060" stop-color="#c8e9c8"/><stop offset="0.091" stop-color="#c7e9c7"/><stop offset="0.121" stop-color="#c7e9c7"/><stop offset="0.151" stop-color="#c7e9c7"/><stop offset="0.181" stop-color="#c7e9c7"/><stop offset="0.211" stop-color="#c8e9c8"/><stop offset="0.241" stop-color="#c8e9c8"/><stop offset="0.272" stop-color="#c9e9c9"/><stop offset="0.302" stop-color="#c9eac9"/><stop offset="0.332" stop-color="#cbeacb"/><stop offset="0.362" stop-color="#cdebcd"/><stop offset="0.392" stop-color="#d0ecd0"/><stop offset="0.422" stop-color="#d4eed4"/><stop offset="0.453" stop-color="#d9f0d9"/><stop offset="0.483" stop-color="#def2de"/><stop offset="0.513" stop-color="#e4f4e4"/><stop offset="0.543" stop-color="#eaf7ea"/><stop offset="0.573" stop-color="#f0f9f0"/><stop offset="0.604" stop-color="#f4faf4"/><stop offset="0.634" stop-color="#f7fcf7"/><stop offset="0.664" stop-color="#f9fdf9"/><stop offset="0.694" stop-color="#fbfefb"/><stop offset="0.724" stop-color="#fdfefd"/><stop offset="0.725" stop-color="#ffffff"/></linearGradient><linearGradient id="h31" gradientUnits="userSpaceOnUse" x1="407.5" y1="0" x2="672.6" y2="0"><stop offset="0.000" stop-color="#e0f3e0"/><stop offset="0.030" stop-color="#c8e9c8"/><stop offset="0.060" stop-color="#c4e7c4"/><stop offset="0.091" stop-color="#c3e7c3"/><stop offset="0.121" stop-color="#c3e7c3"/><stop offset="0.151" stop-color="#c3e7c3"/><stop offset="0.181" stop-color="#c3e7c3"/><stop offset="0.211" stop-color="#c4e7c4"/><stop offset="0.241" stop-color="#c4e7c4"/><stop offset="0.272" stop-color="#c4e8c4"/><stop offset="0.302" stop-color="#c5e8c5"/><stop offset="0.332" stop-color="#c7e8c7"/><stop offset="0.362" stop-color="#c9e9c9"/><stop offset="0.392" stop-color="#ccebcc"/><stop offset="0.422" stop-color="#d0ecd0"/><stop offset="0.453" stop-color="#d6efd6"/><stop offset="0.483" stop-color="#dbf1db"/><stop offset="0.513" stop-color="#e1f3e1"/><stop offset="0.543" stop-color="#e7f6e7"/><stop offset="0.573" stop-color="#edf8ed"/><stop offset="0.604" stop-color="#f2faf2"/><stop offset="0.634" stop-color="#f6fbf6"/><stop offset="0.664" stop-color="#f9fcf9"/><stop offset="0.694" stop-color="#fbfdfb"/><stop offset="0.724" stop-color="#fcfefc"/><stop offset="0.754" stop-color="#fdfefd"/><stop offset="0.755" stop-color="#ffffff"/></linearGradient><linearGradient id="h32" gradientUnits="userSpaceOnUse" x1="407.5" y1="0" x2="672.6" y2="0"><stop offset="0.000" stop-color="#dcf1dc"/><stop offset="0.030" stop-color="#c3e7c3"/><stop offset="0.060" stop-color="#bfe5bf"/><stop offset="0.091" stop-color="#bee5be"/><stop offset="0.121" stop-color="#bee5be"/><stop offset="0.151" stop-color="#bfe5bf"/><stop offset="0.181" stop-color="#bfe5bf"/><stop offset="0.211" stop-color="#bfe5bf"/><stop offset="0.241" stop-color="#bfe5bf"/><stop offset="0.272" stop-color="#c0e6c0"/><stop offset="0.302" stop-color="#c1e6c1"/><stop offset="0.332" stop-color="#c2e7c2"/><stop offset="0.362" stop-color="#c4e7c4"/><stop offset="0.392" stop-color="#c7e9c7"/><stop offset="0.422" stop-color="#cbeacb"/><stop offset="0.453" stop-color="#d2edd2"/><stop offset="0.483" stop-color="#d8efd8"/><stop offset="0.513" stop-color="#def2de"/><stop offset="0.543" stop-color="#e5f5e5"/><stop offset="0.573" stop-color="#ebf7eb"/><stop offset="0.604" stop-color="#f1f9f1"/><stop offset="0.634" stop-color="#f4fbf4"/><stop offset="0.664" stop-color="#f8fcf8"/><stop offset="0.694" stop-color="#fafdfa"/><stop offset="0.724" stop-color="#fcfefc"/><stop offset="0.754" stop-color="#fdfefd"/><stop offset="0.755" stop-color="#ffffff"/></linearGradient><linearGradient id="h33" gradientUnits="userSpaceOnUse" x1="407.5" y1="0" x2="672.6" y2="0"><stop offset="0.000" stop-color="#d7efd7"/><stop offset="0.030" stop-color="#bde5bd"/><stop offset="0.060" stop-color="#bae3ba"/><stop offset="0.091" stop-color="#b9e3b9"/><stop offset="0.121" stop-color="#b9e3b9"/><stop offset="0.151" stop-color="#b9e3b9"/><stop offset="0.181" stop-color="#b9e3b9"/><stop offset="0.211" stop-color="#bae3ba"/><stop offset="0.241" stop-color="#bae3ba"/><stop offset="0.272" stop-color="#bae3ba"/><stop offset="0.302" stop-color="#bbe4bb"/><stop offset="0.332" stop-color="#bce4bc"/><stop offset="0.362" stop-color="#bee5be"/><stop offset="0.392" stop-color="#c2e6c2"/><stop offset="0.422" stop-color="#c6e8c6"/><stop offset="0.453" stop-color="#ccebcc"/><stop offset="0.483" stop-color="#d4eed4"/><stop offset="0.513" stop-color="#daf1da"/><stop offset="0.543" stop-color="#e1f3e1"/><stop offset="0.573" stop-color="#e8f6e8"/><stop offset="0.604" stop-color="#eef8ee"/><stop offset="0.634" stop-color="#f3faf3"/><stop offset="0.664" stop-color="#f7fcf7"/><stop offset="0.694" stop-color="#f9fdf9"/><stop offset="0.724" stop-color="#fbfefb"/><stop offset="0.754" stop-color="#fdfefd"/><stop offset="0.755" stop-color="#ffffff"/></linearGradient><linearGradient id="h34" gradientUnits="userSpaceOnUse" x1="407.5" y1="0" x2="672.6" y2="0"><stop offset="0.000" stop-color="#d1edd1"/><stop offset="0.030" stop-color="#b7e2b7"/><stop offset="0.060" stop-color="#b3e1b3"/><stop offset="0.091" stop-color="#b3e0b3"/><stop offset="0.121" stop-color="#b3e0b3"/><stop offset="0.151" stop-color="#b3e0b3"/><stop offset="0.181" stop-color="#b3e0b3"/><stop offset="0.211" stop-color="#b3e1b3"/><stop offset="0.241" stop-color="#b4e1b4"/><stop offset="0.272" stop-color="#b4e1b4"/><stop offset="0.302" stop-color="#b5e1b5"/><stop offset="0.332" stop-color="#b6e2b6"/><stop offset="0.362" stop-color="#b8e3b8"/><stop offset="0.392" stop-color="#bbe4bb"/><stop offset="0.422" stop-color="#c0e6c0"/><stop offset="0.453" stop-color="#c6e8c6"/><stop offset="0.483" stop-color="#ceebce"/><stop offset="0.513" stop-color="#d6efd6"/><stop offset="0.543" stop-color="#def2de"/><stop offset="0.573" stop-color="#e5f5e5"/><stop offset="0.604" stop-color="#ecf7ec"/><stop offset="0.634" stop-color="#f1f9f1"/><stop offset="0.664" stop-color="#f5fbf5"/><stop offset="0.694" stop-color="#f8fcf8"/><stop offset="0.724" stop-color="#fbfdfb"/><stop offset="0.754" stop-color="#fcfefc"/><stop offset="0.785" stop-color="#fdfefd"/><stop offset="0.786" stop-color="#ffffff"/></linearGradient><linearGradient id="h35" gradientUnits="userSpaceOnUse" x1="407.5" y1="0" x2="672.6" y2="0"><stop offset="0.000" stop-color="#c7e9c7"/><stop offset="0.030" stop-color="#afdfaf"/><stop offset="0.060" stop-color="#acdeac"/><stop offset="0.091" stop-color="#acddac"/><stop offset="0.121" stop-color="#acddac"/><stop offset="0.151" stop-color="#acddac"/><stop offset="0.181" stop-color="#acddac"/><stop offset="0.211" stop-color="#acdeac"/><stop offset="0.241" stop-color="#acdeac"/><stop offset="0.272" stop-color="#addead"/><stop offset="0.302" stop-color="#aedeae"/><stop offset="0.332" stop-color="#afdfaf"/><stop offset="0.362" stop-color="#b1e0b1"/><stop offset="0.392" stop-color="#b4e1b4"/><stop offset="0.422" stop-color="#b8e3b8"/><stop offset="0.453" stop-color="#bee5be"/><stop offset="0.483" stop-color="#c7e8c7"/><stop offset="0.513" stop-color="#d1edd1"/><stop offset="0.543" stop-color="#d9f0d9"/><stop offset="0.573" stop-color="#e1f3e1"/><stop offset="0.604" stop-color="#e8f6e8"/><stop offset="0.634" stop-color="#eff9ef"/><stop offset="0.664" stop-color="#f4faf4"/><stop offset="0.694" stop-color="#f7fcf7"/><stop offset="0.724" stop-color="#fafdfa"/><stop offset="0.754" stop-color="#fcfefc"/><stop offset="0.785" stop-color="#fdfefd"/><stop offset="0.786" stop-color="#ffffff"/></linearGradient><linearGradient id="h36" gradientUnits="userSpaceOnUse" x1="407.5" y1="0" x2="672.6" y2="0"><stop offset="0.000" stop-color="#bce4bc"/><stop offset="0.030" stop-color="#a7dba7"/><stop offset="0.060" stop-color="#a3daa3"/><stop offset="0.091" stop-color="#a3daa2"/><stop offset="0.121" stop-color="#a3daa2"/><stop offset="0.151" stop-color="#a3daa2"/><stop offset="0.181" stop-color="#a3daa2"/><stop offset="0.211" stop-color="#a3daa3"/><stop offset="0.241" stop-color="#a4daa3"/><stop offset="0.272" stop-color="#a4daa4"/><stop offset="0.302" stop-color="#a5dba5"/><stop offset="0.332" stop-color="#a7dba7"/><stop offset="0.362" stop-color="#a8dca8"/><stop offset="0.392" stop-color="#abddab"/><stop offset="0.422" stop-color="#b0dfb0"/><stop offset="0.453" stop-color="#b6e2b6"/><stop offset="0.483" stop-color="#bee5be"/><stop offset="0.513" stop-color="#c8e9c8"/><stop offset="0.543" stop-color="#d4eed4"/><stop offset="0.573" stop-color="#dcf1dc"/><stop offset="0.604" stop-color="#e4f4e4"/><stop offset="0.634" stop-color="#ecf7ec"/><stop offset="0.664" stop-color="#f2faf2"/><stop offset="0.694" stop-color="#f6fbf6"/><stop offset="0.724" stop-color="#f9fdf9"/><stop offset="0.754" stop-color="#fbfefb"/><stop offset="0.785" stop-color="#fdfefd"/><stop offset="0.786" stop-color="#ffffff"/></linearGradient><linearGradient id="h37" gradientUnits="userSpaceOnUse" x1="407.5" y1="0" x2="672.6" y2="0"><stop offset="0.000" stop-color="#afdfaf"/><stop offset="0.030" stop-color="#9ad698"/><stop offset="0.060" stop-color="#97d594"/><stop offset="0.091" stop-color="#97d594"/><stop offset="0.121" stop-color="#97d594"/><stop offset="0.151" stop-color="#97d594"/><stop offset="0.181" stop-color="#97d594"/><stop offset="0.211" stop-color="#97d594"/><stop offset="0.241" stop-color="#97d595"/><stop offset="0.272" stop-color="#98d595"/><stop offset="0.302" stop-color="#99d696"/><stop offset="0.332" stop-color="#9ad698"/><stop offset="0.362" stop-color="#9dd79b"/><stop offset="0.392" stop-color="#a0d99f"/><stop offset="0.422" stop-color="#a6dba6"/><stop offset="0.453" stop-color="#acddac"/><stop offset="0.483" stop-color="#b4e1b4"/><stop offset="0.513" stop-color="#bfe5bf"/><stop offset="0.543" stop-color="#cbeacb"/><stop offset="0.573" stop-color="#d7efd7"/><stop offset="0.604" stop-color="#dff3df"/><stop offset="0.634" stop-color="#e8f6e8"/><stop offset="0.664" stop-color="#eff9ef"/><stop offset="0.694" stop-color="#f5fbf5"/><stop offset="0.724" stop-color="#f8fcf8"/><stop offset="0.754" stop-color="#fbfdfb"/><stop offset="0.785" stop-color="#fdfefd"/><stop offset="0.786" stop-color="#ffffff"/></linearGradient><linearGradient id="h38" gradientUnits="userSpaceOnUse" x1="407.5" y1="0" x2="672.6" y2="0"><stop offset="0.000" stop-color="#9ed89d"/><stop offset="0.030" stop-color="#8bd086"/><stop offset="0.060" stop-color="#88cf83"/><stop offset="0.091" stop-color="#88cf82"/><stop offset="0.121" stop-color="#88cf82"/><stop offset="0.151" stop-color="#88cf83"/><stop offset="0.181" stop-color="#88cf83"/><stop offset="0.211" stop-color="#88cf83"/><stop offset="0.241" stop-color="#89cf83"/><stop offset="0.272" stop-color="#89d084"/><stop offset="0.302" stop-color="#8ad085"/><stop offset="0.332" stop-color="#8cd187"/><stop offset="0.362" stop-color="#8ed28a"/><stop offset="0.392" stop-color="#92d38e"/><stop offset="0.422" stop-color="#97d594"/><stop offset="0.453" stop-color="#9fd89d"/><stop offset="0.483" stop-color="#a8dca8"/><stop offset="0.513" stop-color="#b3e0b3"/><stop offset="0.543" stop-color="#c0e6c0"/><stop offset="0.573" stop-color="#ceecce"/><stop offset="0.604" stop-color="#daf0da"/><stop offset="0.634" stop-color="#e3f4e3"/><stop offset="0.664" stop-color="#ecf7ec"/><stop offset="0.694" stop-color="#f3faf3"/><stop offset="0.724" stop-color="#f7fcf7"/><stop offset="0.754" stop-color="#fafdfa"/><stop offset="0.785" stop-color="#fcfefc"/><stop offset="0.815" stop-color="#fdfefd"/><stop offset="0.816" stop-color="#ffffff"/></linearGradient><linearGradient id="h39" gradientUnits="userSpaceOnUse" x1="407.5" y1="0" x2="672.6" y2="0"><stop offset="0.000" stop-color="#88cf82"/><stop offset="0.030" stop-color="#79c970"/><stop offset="0.060" stop-color="#77c86e"/><stop offset="0.091" stop-color="#76c86e"/><stop offset="0.121" stop-color="#77c86e"/><stop offset="0.151" stop-color="#77c86e"/><stop offset="0.181" stop-color="#77c86e"/><stop offset="0.211" stop-color="#77c86e"/><stop offset="0.241" stop-color="#77c96f"/><stop offset="0.272" stop-color="#78c96f"/><stop offset="0.302" stop-color="#79c970"/><stop offset="0.332" stop-color="#7aca72"/><stop offset="0.362" stop-color="#7ccb75"/><stop offset="0.392" stop-color="#80cc79"/><stop offset="0.422" stop-color="#85ce7f"/><stop offset="0.453" stop-color="#8dd188"/><stop offset="0.483" stop-color="#98d595"/><stop offset="0.513" stop-color="#a6dba5"/><stop offset="0.543" stop-color="#b3e0b3"/><stop offset="0.573" stop-color="#c2e7c2"/><stop offset="0.604" stop-color="#d2edd2"/><stop offset="0.634" stop-color="#def2de"/><stop offset="0.664" stop-color="#e8f6e8"/><stop offset="0.694" stop-color="#f0f9f0"/><stop offset="0.724" stop-color="#f6fbf6"/><stop offset="0.754" stop-color="#f9fdf9"/><stop offset="0.785" stop-color="#fcfefc"/><stop offset="0.815" stop-color="#fdfefd"/><stop offset="0.816" stop-color="#ffffff"/></linearGradient><linearGradient id="h40" gradientUnits="userSpaceOnUse" x1="407.5" y1="0" x2="672.6" y2="0"><stop offset="0.000" stop-color="#6cc462"/><stop offset="0.030" stop-color="#63c157"/><stop offset="0.060" stop-color="#62c055"/><stop offset="0.091" stop-color="#61c055"/><stop offset="0.121" stop-color="#62c055"/><stop offset="0.151" stop-color="#62c055"/><stop offset="0.181" stop-color="#62c055"/><stop offset="0.211" stop-color="#62c055"/><stop offset="0.241" stop-color="#62c056"/><stop offset="0.272" stop-color="#63c157"/><stop offset="0.302" stop-color="#64c158"/><stop offset="0.332" stop-color="#65c159"/><stop offset="0.362" stop-color="#67c25c"/><stop offset="0.392" stop-color="#6bc460"/><stop offset="0.422" stop-color="#70c666"/><stop offset="0.453" stop-color="#78c970"/><stop offset="0.483" stop-color="#83cd7d"/><stop offset="0.513" stop-color="#91d38e"/><stop offset="0.543" stop-color="#a3daa2"/><stop offset="0.573" stop-color="#b4e1b4"/><stop offset="0.604" stop-color="#c6e8c6"/><stop offset="0.634" stop-color="#d7efd7"/><stop offset="0.664" stop-color="#e3f4e3"/><stop offset="0.694" stop-color="#edf8ed"/><stop offset="0.724" stop-color="#f4fbf4"/><stop offset="0.754" stop-color="#f8fcf8"/><stop offset="0.785" stop-color="#fbfdfb"/><stop offset="0.815" stop-color="#fdfefd"/><stop offset="0.816" stop-color="#ffffff"/></linearGradient><linearGradient id="h41" gradientUnits="userSpaceOnUse" x1="407.5" y1="0" x2="672.6" y2="0"><stop offset="0.000" stop-color="#73c14c"/><stop offset="0.030" stop-color="#76c14b"/><stop offset="0.060" stop-color="#76c14b"/><stop offset="0.091" stop-color="#76c14b"/><stop offset="0.121" stop-color="#76c14b"/><stop offset="0.151" stop-color="#76c14b"/><stop offset="0.181" stop-color="#76c14b"/><stop offset="0.211" stop-color="#75c14b"/><stop offset="0.241" stop-color="#75c14b"/><stop offset="0.272" stop-color="#75c14b"/><stop offset="0.302" stop-color="#74c14c"/><stop offset="0.332" stop-color="#72c14c"/><stop offset="0.362" stop-color="#70c14d"/><stop offset="0.392" stop-color="#6cc04e"/><stop offset="0.422" stop-color="#67c050"/><stop offset="0.453" stop-color="#5fbf52"/><stop offset="0.483" stop-color="#6ac35f"/><stop offset="0.513" stop-color="#79c971"/><stop offset="0.543" stop-color="#8cd187"/><stop offset="0.573" stop-color="#a2d9a1"/><stop offset="0.604" stop-color="#b7e2b7"/><stop offset="0.634" stop-color="#ccebcc"/><stop offset="0.664" stop-color="#dcf1dc"/><stop offset="0.694" stop-color="#e9f6e9"/><stop offset="0.724" stop-color="#f2faf2"/><stop offset="0.754" stop-color="#f7fcf7"/><stop offset="0.785" stop-color="#fafdfa"/><stop offset="0.815" stop-color="#fcfefc"/><stop offset="0.845" stop-color="#fdfefd"/><stop offset="0.846" stop-color="#ffffff"/></linearGradient><linearGradient id="h42" gradientUnits="userSpaceOnUse" x1="407.5" y1="0" x2="672.6" y2="0"><stop offset="0.000" stop-color="#f1faf1"/><stop offset="0.030" stop-color="#8dd188"/><stop offset="0.060" stop-color="#60bf53"/><stop offset="0.091" stop-color="#6ac04f"/><stop offset="0.121" stop-color="#6cc04e"/><stop offset="0.151" stop-color="#6dc04e"/><stop offset="0.181" stop-color="#6dc04e"/><stop offset="0.211" stop-color="#6dc04e"/><stop offset="0.241" stop-color="#6dc04e"/><stop offset="0.272" stop-color="#6dc04e"/><stop offset="0.302" stop-color="#6cc04e"/><stop offset="0.332" stop-color="#6cc04e"/><stop offset="0.362" stop-color="#6bc04e"/><stop offset="0.392" stop-color="#6ac04f"/><stop offset="0.422" stop-color="#67c04f"/><stop offset="0.453" stop-color="#63bf51"/><stop offset="0.483" stop-color="#62c055"/><stop offset="0.513" stop-color="#6dc563"/><stop offset="0.543" stop-color="#7fcc78"/><stop offset="0.573" stop-color="#97d594"/><stop offset="0.604" stop-color="#b1dfb1"/><stop offset="0.634" stop-color="#c9e9c9"/><stop offset="0.664" stop-color="#dcf1dc"/><stop offset="0.694" stop-color="#e9f6e9"/><stop offset="0.724" stop-color="#f2faf2"/><stop offset="0.754" stop-color="#f7fcf7"/><stop offset="0.785" stop-color="#fbfdfb"/><stop offset="0.815" stop-color="#fdfefd"/><stop offset="0.816" stop-color="#ffffff"/></linearGradient><linearGradient id="h43" gradientUnits="userSpaceOnUse" x1="407.5" y1="0" x2="672.6" y2="0"><stop offset="0.000" stop-color="#f3faf3"/><stop offset="0.030" stop-color="#a1d9a0"/><stop offset="0.060" stop-color="#76c86d"/><stop offset="0.091" stop-color="#6ac35f"/><stop offset="0.121" stop-color="#67c25b"/><stop offset="0.151" stop-color="#66c25b"/><stop offset="0.181" stop-color="#66c25b"/><stop offset="0.211" stop-color="#66c25b"/><stop offset="0.241" stop-color="#66c25b"/><stop offset="0.272" stop-color="#67c25b"/><stop offset="0.302" stop-color="#67c25b"/><stop offset="0.332" stop-color="#67c25c"/><stop offset="0.362" stop-color="#68c35d"/><stop offset="0.392" stop-color="#69c35e"/><stop offset="0.422" stop-color="#6cc461"/><stop offset="0.453" stop-color="#70c666"/><stop offset="0.483" stop-color="#78c96f"/><stop offset="0.513" stop-color="#83cd7d"/><stop offset="0.543" stop-color="#94d491"/><stop offset="0.573" stop-color="#aaddaa"/><stop offset="0.604" stop-color="#bfe5bf"/><stop offset="0.634" stop-color="#d5eed5"/><stop offset="0.664" stop-color="#e2f4e2"/><stop offset="0.694" stop-color="#edf8ed"/><stop offset="0.724" stop-color="#f4fbf4"/><stop offset="0.754" stop-color="#f9fcf9"/><stop offset="0.785" stop-color="#fbfefb"/><stop offset="0.815" stop-color="#fdfefd"/><stop offset="0.816" stop-color="#ffffff"/></linearGradient><linearGradient id="h44" gradientUnits="userSpaceOnUse" x1="407.5" y1="0" x2="672.6" y2="0"><stop offset="0.000" stop-color="#f8fcf8"/><stop offset="0.030" stop-color="#def2de"/><stop offset="0.060" stop-color="#8ad085"/><stop offset="0.091" stop-color="#7cca74"/><stop offset="0.121" stop-color="#79c971"/><stop offset="0.151" stop-color="#79c970"/><stop offset="0.181" stop-color="#79c970"/><stop offset="0.211" stop-color="#79c970"/><stop offset="0.241" stop-color="#79c970"/><stop offset="0.272" stop-color="#79c970"/><stop offset="0.302" stop-color="#79c971"/><stop offset="0.332" stop-color="#79c971"/><stop offset="0.362" stop-color="#7aca72"/><stop offset="0.392" stop-color="#7cca74"/><stop offset="0.422" stop-color="#7ecb77"/><stop offset="0.453" stop-color="#83cd7c"/><stop offset="0.483" stop-color="#8ad085"/><stop offset="0.513" stop-color="#96d593"/><stop offset="0.543" stop-color="#a7dba7"/><stop offset="0.573" stop-color="#b8e2b8"/><stop offset="0.604" stop-color="#ccebcc"/><stop offset="0.634" stop-color="#dbf1db"/><stop offset="0.664" stop-color="#e7f6e7"/><stop offset="0.694" stop-color="#f0f9f0"/><stop offset="0.724" stop-color="#f6fbf6"/><stop offset="0.754" stop-color="#fafdfa"/><stop offset="0.785" stop-color="#fcfefc"/><stop offset="0.815" stop-color="#fdfefd"/><stop offset="0.816" stop-color="#ffffff"/></linearGradient><linearGradient id="h45" gradientUnits="userSpaceOnUse" x1="407.5" y1="0" x2="672.6" y2="0"><stop offset="0.000" stop-color="#f8fcf8"/><stop offset="0.030" stop-color="#e4f4e4"/><stop offset="0.060" stop-color="#9ad698"/><stop offset="0.091" stop-color="#8cd187"/><stop offset="0.121" stop-color="#89cf83"/><stop offset="0.151" stop-color="#88cf83"/><stop offset="0.181" stop-color="#88cf83"/><stop offset="0.211" stop-color="#88cf83"/><stop offset="0.241" stop-color="#88cf83"/><stop offset="0.272" stop-color="#88cf83"/><stop offset="0.302" stop-color="#89cf83"/><stop offset="0.332" stop-color="#89d084"/><stop offset="0.362" stop-color="#8ad085"/><stop offset="0.392" stop-color="#8cd187"/><stop offset="0.422" stop-color="#8ed28a"/><stop offset="0.453" stop-color="#93d490"/><stop offset="0.483" stop-color="#9bd799"/><stop offset="0.513" stop-color="#a7dba7"/><stop offset="0.543" stop-color="#b4e1b4"/><stop offset="0.573" stop-color="#c5e8c5"/><stop offset="0.604" stop-color="#d6efd6"/><stop offset="0.634" stop-color="#e1f3e1"/><stop offset="0.664" stop-color="#ebf7eb"/><stop offset="0.694" stop-color="#f3faf3"/><stop offset="0.724" stop-color="#f7fcf7"/><stop offset="0.754" stop-color="#fbfdfb"/><stop offset="0.785" stop-color="#fcfefc"/><stop offset="0.815" stop-color="#fefefe"/><stop offset="0.816" stop-color="#ffffff"/></linearGradient><linearGradient id="h46" gradientUnits="userSpaceOnUse" x1="407.5" y1="0" x2="672.6" y2="0"><stop offset="0.000" stop-color="#f9fcf9"/><stop offset="0.030" stop-color="#e8f6e8"/><stop offset="0.060" stop-color="#a8dca8"/><stop offset="0.091" stop-color="#99d697"/><stop offset="0.121" stop-color="#96d593"/><stop offset="0.151" stop-color="#96d593"/><stop offset="0.181" stop-color="#96d593"/><stop offset="0.211" stop-color="#96d593"/><stop offset="0.241" stop-color="#96d593"/><stop offset="0.272" stop-color="#96d593"/><stop offset="0.302" stop-color="#96d593"/><stop offset="0.332" stop-color="#97d594"/><stop offset="0.362" stop-color="#98d595"/><stop offset="0.392" stop-color="#99d697"/><stop offset="0.422" stop-color="#9cd79a"/><stop offset="0.453" stop-color="#a1d9a0"/><stop offset="0.483" stop-color="#a9dca9"/><stop offset="0.513" stop-color="#b2e0b2"/><stop offset="0.543" stop-color="#c0e6c0"/><stop offset="0.573" stop-color="#cfeccf"/><stop offset="0.604" stop-color="#dcf1dc"/><stop offset="0.634" stop-color="#e6f5e6"/><stop offset="0.664" stop-color="#eff9ef"/><stop offset="0.694" stop-color="#f5fbf5"/><stop offset="0.724" stop-color="#f9fcf9"/><stop offset="0.754" stop-color="#fbfdfb"/><stop offset="0.785" stop-color="#fdfefd"/><stop offset="0.786" stop-color="#ffffff"/></linearGradient><linearGradient id="h47" gradientUnits="userSpaceOnUse" x1="407.5" y1="0" x2="672.6" y2="0"><stop offset="0.000" stop-color="#f9fdf9"/><stop offset="0.030" stop-color="#ecf7ec"/><stop offset="0.060" stop-color="#b3e0b3"/><stop offset="0.091" stop-color="#a5dba5"/><stop offset="0.121" stop-color="#a2d9a1"/><stop offset="0.151" stop-color="#a1d9a0"/><stop offset="0.181" stop-color="#a1d9a0"/><stop offset="0.211" stop-color="#a1d9a0"/><stop offset="0.241" stop-color="#a1d9a0"/><stop offset="0.272" stop-color="#a1d9a1"/><stop offset="0.302" stop-color="#a2d9a1"/><stop offset="0.332" stop-color="#a2daa2"/><stop offset="0.362" stop-color="#a3daa3"/><stop offset="0.392" stop-color="#a5dba5"/><stop offset="0.422" stop-color="#a8dca8"/><stop offset="0.453" stop-color="#acddac"/><stop offset="0.483" stop-color="#b3e0b3"/><stop offset="0.513" stop-color="#bde4bd"/><stop offset="0.543" stop-color="#caeaca"/><stop offset="0.573" stop-color="#d7efd7"/><stop offset="0.604" stop-color="#e1f3e1"/><stop offset="0.634" stop-color="#eaf7ea"/><stop offset="0.664" stop-color="#f2faf2"/><stop offset="0.694" stop-color="#f6fcf6"/><stop offset="0.724" stop-color="#fafdfa"/><stop offset="0.754" stop-color="#fcfefc"/><stop offset="0.785" stop-color="#fdfefd"/><stop offset="0.786" stop-color="#ffffff"/></linearGradient><linearGradient id="h48" gradientUnits="userSpaceOnUse" x1="407.5" y1="0" x2="672.6" y2="0"><stop offset="0.000" stop-color="#f9fdf9"/><stop offset="0.030" stop-color="#eff9ef"/><stop offset="0.060" stop-color="#bce4bc"/><stop offset="0.091" stop-color="#aedeae"/><stop offset="0.121" stop-color="#abddab"/><stop offset="0.151" stop-color="#aaddaa"/><stop offset="0.181" stop-color="#aaddaa"/><stop offset="0.211" stop-color="#aaddaa"/><stop offset="0.241" stop-color="#aaddaa"/><stop offset="0.272" stop-color="#abddab"/><stop offset="0.302" stop-color="#abddab"/><stop offset="0.332" stop-color="#abddab"/><stop offset="0.362" stop-color="#acdeac"/><stop offset="0.392" stop-color="#aedeae"/><stop offset="0.422" stop-color="#b0dfb0"/><stop offset="0.453" stop-color="#b5e1b5"/><stop offset="0.483" stop-color="#bce4bc"/><stop offset="0.513" stop-color="#c6e8c6"/><stop offset="0.543" stop-color="#d3edd3"/><stop offset="0.573" stop-color="#ddf1dd"/><stop offset="0.604" stop-color="#e6f5e6"/><stop offset="0.634" stop-color="#eef8ee"/><stop offset="0.664" stop-color="#f4faf4"/><stop offset="0.694" stop-color="#f8fcf8"/><stop offset="0.724" stop-color="#fafdfa"/><stop offset="0.754" stop-color="#fcfefc"/><stop offset="0.785" stop-color="#fdfefd"/><stop offset="0.786" stop-color="#ffffff"/></linearGradient><linearGradient id="h49" gradientUnits="userSpaceOnUse" x1="407.5" y1="0" x2="672.6" y2="0"><stop offset="0.000" stop-color="#fafdfa"/><stop offset="0.030" stop-color="#f1f9f1"/><stop offset="0.060" stop-color="#c4e7c4"/><stop offset="0.091" stop-color="#b5e1b5"/><stop offset="0.121" stop-color="#b2e0b2"/><stop offset="0.151" stop-color="#b2e0b2"/><stop offset="0.181" stop-color="#b1e0b1"/><stop offset="0.211" stop-color="#b1e0b1"/><stop offset="0.241" stop-color="#b2e0b2"/><stop offset="0.272" stop-color="#b2e0b2"/><stop offset="0.302" stop-color="#b2e0b2"/><stop offset="0.332" stop-color="#b3e0b3"/><stop offset="0.362" stop-color="#b3e1b3"/><stop offset="0.392" stop-color="#b5e1b5"/><stop offset="0.422" stop-color="#b8e2b8"/><stop offset="0.453" stop-color="#bde4bd"/><stop offset="0.483" stop-color="#c4e7c4"/><stop offset="0.513" stop-color="#ceecce"/><stop offset="0.543" stop-color="#d9f0d9"/><stop offset="0.573" stop-color="#e2f3e2"/><stop offset="0.604" stop-color="#eaf7ea"/><stop offset="0.634" stop-color="#f1f9f1"/><stop offset="0.664" stop-color="#f5fbf5"/><stop offset="0.694" stop-color="#f9fdf9"/><stop offset="0.724" stop-color="#fbfdfb"/><stop offset="0.754" stop-color="#fdfefd"/><stop offset="0.755" stop-color="#ffffff"/></linearGradient><linearGradient id="h50" gradientUnits="userSpaceOnUse" x1="407.5" y1="0" x2="672.6" y2="0"><stop offset="0.000" stop-color="#fafdfa"/><stop offset="0.030" stop-color="#f2faf2"/><stop offset="0.060" stop-color="#cbeacb"/><stop offset="0.091" stop-color="#bce4bc"/><stop offset="0.121" stop-color="#b9e3b9"/><stop offset="0.151" stop-color="#b8e2b8"/><stop offset="0.181" stop-color="#b8e2b8"/><stop offset="0.211" stop-color="#b8e2b8"/><stop offset="0.241" stop-color="#b8e2b8"/><stop offset="0.272" stop-color="#b8e2b8"/><stop offset="0.302" stop-color="#b8e3b8"/><stop offset="0.332" stop-color="#b9e3b9"/><stop offset="0.362" stop-color="#bae3ba"/><stop offset="0.392" stop-color="#bce4bc"/><stop offset="0.422" stop-color="#bfe5bf"/><stop offset="0.453" stop-color="#c4e7c4"/><stop offset="0.483" stop-color="#cbeacb"/><stop offset="0.513" stop-color="#d5eed5"/><stop offset="0.543" stop-color="#ddf2dd"/><stop offset="0.573" stop-color="#e6f5e6"/><stop offset="0.604" stop-color="#edf8ed"/><stop offset="0.634" stop-color="#f3faf3"/><stop offset="0.664" stop-color="#f7fcf7"/><stop offset="0.694" stop-color="#fafdfa"/><stop offset="0.724" stop-color="#fcfefc"/><stop offset="0.754" stop-color="#fdfefd"/><stop offset="0.755" stop-color="#ffffff"/></linearGradient><linearGradient id="h51" gradientUnits="userSpaceOnUse" x1="407.5" y1="0" x2="672.6" y2="0"><stop offset="0.000" stop-color="#fbfdfb"/><stop offset="0.030" stop-color="#f4faf4"/><stop offset="0.060" stop-color="#d2edd2"/><stop offset="0.091" stop-color="#c2e6c2"/><stop offset="0.121" stop-color="#bee5be"/><stop offset="0.151" stop-color="#bde5bd"/><stop offset="0.181" stop-color="#bde5bd"/><stop offset="0.211" stop-color="#bde5bd"/><stop offset="0.241" stop-color="#bde5bd"/><stop offset="0.272" stop-color="#bee5be"/><stop offset="0.302" stop-color="#bee5be"/><stop offset="0.332" stop-color="#bfe5bf"/><stop offset="0.362" stop-color="#c0e6c0"/><stop offset="0.392" stop-color="#c2e6c2"/><stop offset="0.422" stop-color="#c5e8c5"/><stop offset="0.453" stop-color="#caeaca"/><stop offset="0.483" stop-color="#d2edd2"/><stop offset="0.513" stop-color="#daf0da"/><stop offset="0.543" stop-color="#e2f3e2"/><stop offset="0.573" stop-color="#eaf6ea"/><stop offset="0.604" stop-color="#f0f9f0"/><stop offset="0.634" stop-color="#f5fbf5"/><stop offset="0.664" stop-color="#f8fcf8"/><stop offset="0.694" stop-color="#fbfdfb"/><stop offset="0.724" stop-color="#fcfefc"/><stop offset="0.754" stop-color="#fdfefd"/><stop offset="0.755" stop-color="#ffffff"/></linearGradient><linearGradient id="h52" gradientUnits="userSpaceOnUse" x1="407.5" y1="0" x2="672.6" y2="0"><stop offset="0.000" stop-color="#fbfdfb"/><stop offset="0.030" stop-color="#f5fbf5"/><stop offset="0.060" stop-color="#d7efd7"/><stop offset="0.091" stop-color="#c7e9c7"/><stop offset="0.121" stop-color="#c3e7c3"/><stop offset="0.151" stop-color="#c2e7c2"/><stop offset="0.181" stop-color="#c2e7c2"/><stop offset="0.211" stop-color="#c2e7c2"/><stop offset="0.241" stop-color="#c2e7c2"/><stop offset="0.272" stop-color="#c3e7c3"/><stop offset="0.302" stop-color="#c3e7c3"/><stop offset="0.332" stop-color="#c4e7c4"/><stop offset="0.362" stop-color="#c5e8c5"/><stop offset="0.392" stop-color="#c7e9c7"/><stop offset="0.422" stop-color="#caeaca"/><stop offset="0.453" stop-color="#d0ecd0"/><stop offset="0.483" stop-color="#d7efd7"/><stop offset="0.513" stop-color="#def2de"/><stop offset="0.543" stop-color="#e5f5e5"/><stop offset="0.573" stop-color="#edf8ed"/><stop offset="0.604" stop-color="#f2faf2"/><stop offset="0.634" stop-color="#f6fbf6"/><stop offset="0.664" stop-color="#f9fdf9"/><stop offset="0.694" stop-color="#fbfefb"/><stop offset="0.724" stop-color="#fdfefd"/><stop offset="0.725" stop-color="#ffffff"/></linearGradient><linearGradient id="h53" gradientUnits="userSpaceOnUse" x1="407.5" y1="0" x2="672.6" y2="0"><stop offset="0.000" stop-color="#fbfefb"/><stop offset="0.030" stop-color="#f5fbf5"/><stop offset="0.060" stop-color="#dbf1db"/><stop offset="0.091" stop-color="#ccebcc"/><stop offset="0.121" stop-color="#c8e9c8"/><stop offset="0.151" stop-color="#c7e9c7"/><stop offset="0.181" stop-color="#c7e9c7"/><stop offset="0.211" stop-color="#c7e9c7"/><stop offset="0.241" stop-color="#c7e9c7"/><stop offset="0.272" stop-color="#c7e9c7"/><stop offset="0.302" stop-color="#c8e9c8"/><stop offset="0.332" stop-color="#c8e9c8"/><stop offset="0.362" stop-color="#caeaca"/><stop offset="0.392" stop-color="#ccebcc"/><stop offset="0.422" stop-color="#cfeccf"/><stop offset="0.453" stop-color="#d5eed5"/><stop offset="0.483" stop-color="#daf1da"/><stop offset="0.513" stop-color="#e1f3e1"/><stop offset="0.543" stop-color="#e9f6e9"/><stop offset="0.573" stop-color="#f0f9f0"/><stop offset="0.604" stop-color="#f4fbf4"/><stop offset="0.634" stop-color="#f8fcf8"/><stop offset="0.664" stop-color="#fafdfa"/><stop offset="0.694" stop-color="#fcfefc"/><stop offset="0.724" stop-color="#fdfefd"/><stop offset="0.725" stop-color="#ffffff"/></linearGradient><linearGradient id="h54" gradientUnits="userSpaceOnUse" x1="407.5" y1="0" x2="672.6" y2="0"><stop offset="0.000" stop-color="#fcfefc"/><stop offset="0.030" stop-color="#f6fbf6"/><stop offset="0.060" stop-color="#def2de"/><stop offset="0.091" stop-color="#d0ecd0"/><stop offset="0.121" stop-color="#ccebcc"/><stop offset="0.151" stop-color="#cbeacb"/><stop offset="0.181" stop-color="#cbeacb"/><stop offset="0.211" stop-color="#cbeacb"/><stop offset="0.241" stop-color="#cbeacb"/><stop offset="0.272" stop-color="#cbeacb"/><stop offset="0.302" stop-color="#ccebcc"/><stop offset="0.332" stop-color="#ccebcc"/><stop offset="0.362" stop-color="#ceebce"/><stop offset="0.392" stop-color="#d0ecd0"/><stop offset="0.422" stop-color="#d4eed4"/><stop offset="0.453" stop-color="#d8f0d8"/><stop offset="0.483" stop-color="#def2de"/><stop offset="0.513" stop-color="#e5f5e5"/><stop offset="0.543" stop-color="#ecf7ec"/><stop offset="0.573" stop-color="#f2faf2"/><stop offset="0.604" stop-color="#f6fbf6"/><stop offset="0.634" stop-color="#f9fcf9"/><stop offset="0.664" stop-color="#fbfdfb"/><stop offset="0.694" stop-color="#fcfefc"/><stop offset="0.724" stop-color="#fdfefd"/><stop offset="0.725" stop-color="#ffffff"/></linearGradient><linearGradient id="h55" gradientUnits="userSpaceOnUse" x1="407.5" y1="0" x2="672.6" y2="0"><stop offset="0.000" stop-color="#fcfefc"/><stop offset="0.030" stop-color="#f7fcf7"/><stop offset="0.060" stop-color="#e1f3e1"/><stop offset="0.091" stop-color="#d4eed4"/><stop offset="0.121" stop-color="#cfeccf"/><stop offset="0.151" stop-color="#ceecce"/><stop offset="0.181" stop-color="#ceecce"/><stop offset="0.211" stop-color="#ceecce"/><stop offset="0.241" stop-color="#cfeccf"/><stop offset="0.272" stop-color="#cfeccf"/><stop offset="0.302" stop-color="#cfeccf"/><stop offset="0.332" stop-color="#d0ecd0"/><stop offset="0.362" stop-color="#d2edd2"/><stop offset="0.392" stop-color="#d4eed4"/><stop offset="0.422" stop-color="#d7efd7"/><stop offset="0.453" stop-color="#dbf1db"/><stop offset="0.483" stop-color="#e1f3e1"/><stop offset="0.513" stop-color="#e8f6e8"/><stop offset="0.543" stop-color="#eff8ef"/><stop offset="0.573" stop-color="#f3faf3"/><stop offset="0.604" stop-color="#f7fcf7"/><stop offset="0.634" stop-color="#fafdfa"/><stop offset="0.664" stop-color="#fbfefb"/><stop offset="0.694" stop-color="#fdfefd"/><stop offset="0.695" stop-color="#ffffff"/></linearGradient><linearGradient id="h56" gradientUnits="userSpaceOnUse" x1="407.5" y1="0" x2="672.6" y2="0"><stop offset="0.000" stop-color="#fcfefc"/><stop offset="0.030" stop-color="#f7fcf7"/><stop offset="0.060" stop-color="#e4f4e4"/><stop offset="0.091" stop-color="#d7efd7"/><stop offset="0.121" stop-color="#d3eed3"/><stop offset="0.151" stop-color="#d2edd2"/><stop offset="0.181" stop-color="#d2edd2"/><stop offset="0.211" stop-color="#d2edd2"/><stop offset="0.241" stop-color="#d2edd2"/><stop offset="0.272" stop-color="#d2edd2"/><stop offset="0.302" stop-color="#d3edd3"/><stop offset="0.332" stop-color="#d4eed4"/><stop offset="0.362" stop-color="#d5eed5"/><stop offset="0.392" stop-color="#d7efd7"/><stop offset="0.422" stop-color="#daf0da"/><stop offset="0.453" stop-color="#def2de"/><stop offset="0.483" stop-color="#e4f4e4"/><stop offset="0.513" stop-color="#ebf7eb"/><stop offset="0.543" stop-color="#f1f9f1"/><stop offset="0.573" stop-color="#f5fbf5"/><stop offset="0.604" stop-color="#f8fcf8"/><stop offset="0.634" stop-color="#fafdfa"/><stop offset="0.664" stop-color="#fcfefc"/><stop offset="0.694" stop-color="#fdfefd"/><stop offset="0.695" stop-color="#ffffff"/></linearGradient><linearGradient id="h57" gradientUnits="userSpaceOnUse" x1="407.5" y1="0" x2="672.6" y2="0"><stop offset="0.000" stop-color="#fdfefd"/><stop offset="0.030" stop-color="#f8fcf8"/><stop offset="0.060" stop-color="#e7f6e7"/><stop offset="0.091" stop-color="#d9f0d9"/><stop offset="0.121" stop-color="#d5efd5"/><stop offset="0.151" stop-color="#d5eed5"/><stop offset="0.181" stop-color="#d4eed4"/><stop offset="0.211" stop-color="#d4eed4"/><stop offset="0.241" stop-color="#d5eed5"/><stop offset="0.272" stop-color="#d5eed5"/><stop offset="0.302" stop-color="#d5eed5"/><stop offset="0.332" stop-color="#d6efd6"/><stop offset="0.362" stop-color="#d7efd7"/><stop offset="0.392" stop-color="#d9f0d9"/><stop offset="0.422" stop-color="#dcf1dc"/><stop offset="0.453" stop-color="#e1f3e1"/><stop offset="0.483" stop-color="#e7f5e7"/><stop offset="0.513" stop-color="#edf8ed"/><stop offset="0.543" stop-color="#f2faf2"/><stop offset="0.573" stop-color="#f6fcf6"/><stop offset="0.604" stop-color="#f9fdf9"/><stop offset="0.634" stop-color="#fbfdfb"/><stop offset="0.664" stop-color="#fcfefc"/><stop offset="0.694" stop-color="#fdfefd"/><stop offset="0.695" stop-color="#ffffff"/></linearGradient><linearGradient id="h58" gradientUnits="userSpaceOnUse" x1="407.5" y1="0" x2="672.6" y2="0"><stop offset="0.000" stop-color="#fdfefd"/><stop offset="0.030" stop-color="#f8fcf8"/><stop offset="0.060" stop-color="#eaf7ea"/><stop offset="0.091" stop-color="#dbf1db"/><stop offset="0.121" stop-color="#d7efd7"/><stop offset="0.151" stop-color="#d6efd6"/><stop offset="0.181" stop-color="#d6efd6"/><stop offset="0.211" stop-color="#d6efd6"/><stop offset="0.241" stop-color="#d6efd6"/><stop offset="0.272" stop-color="#d7efd7"/><stop offset="0.302" stop-color="#d7efd7"/><stop offset="0.332" stop-color="#d8f0d8"/><stop offset="0.362" stop-color="#d9f0d9"/><stop offset="0.392" stop-color="#dbf1db"/><stop offset="0.422" stop-color="#dff2df"/><stop offset="0.453" stop-color="#e3f4e3"/><stop offset="0.483" stop-color="#e9f6e9"/><stop offset="0.513" stop-color="#eff9ef"/><stop offset="0.543" stop-color="#f4fbf4"/><stop offset="0.573" stop-color="#f7fcf7"/><stop offset="0.604" stop-color="#fafdfa"/><stop offset="0.634" stop-color="#fcfefc"/><stop offset="0.664" stop-color="#fdfefd"/><stop offset="0.665" stop-color="#ffffff"/></linearGradient><linearGradient id="h59" gradientUnits="userSpaceOnUse" x1="407.5" y1="0" x2="672.6" y2="0"><stop offset="0.000" stop-color="#fdfefd"/><stop offset="0.030" stop-color="#f9fdf9"/><stop offset="0.060" stop-color="#ecf7ec"/><stop offset="0.091" stop-color="#ddf2dd"/><stop offset="0.121" stop-color="#d9f0d9"/><stop offset="0.151" stop-color="#d8f0d8"/><stop offset="0.181" stop-color="#d8f0d8"/><stop offset="0.211" stop-color="#d8f0d8"/><stop offset="0.241" stop-color="#d8f0d8"/><stop offset="0.272" stop-color="#d8f0d8"/><stop offset="0.302" stop-color="#d9f0d9"/><stop offset="0.332" stop-color="#daf0da"/><stop offset="0.362" stop-color="#dbf1db"/><stop offset="0.392" stop-color="#ddf2dd"/><stop offset="0.422" stop-color="#e1f3e1"/><stop offset="0.453" stop-color="#e6f5e6"/><stop offset="0.483" stop-color="#ecf7ec"/><stop offset="0.513" stop-color="#f1f9f1"/><stop offset="0.543" stop-color="#f5fbf5"/><stop offset="0.573" stop-color="#f9fcf9"/><stop offset="0.604" stop-color="#fbfdfb"/><stop offset="0.634" stop-color="#fcfefc"/><stop offset="0.664" stop-color="#fdfefd"/><stop offset="0.665" stop-color="#ffffff"/></linearGradient><linearGradient id="h60" gradientUnits="userSpaceOnUse" x1="407.5" y1="0" x2="672.6" y2="0"><stop offset="0.000" stop-color="#fdfefd"/><stop offset="0.030" stop-color="#f9fdf9"/><stop offset="0.060" stop-color="#eef8ee"/><stop offset="0.091" stop-color="#dff2df"/><stop offset="0.121" stop-color="#dbf1db"/><stop offset="0.151" stop-color="#daf0da"/><stop offset="0.181" stop-color="#daf0da"/><stop offset="0.211" stop-color="#daf0da"/><stop offset="0.241" stop-color="#daf0da"/><stop offset="0.272" stop-color="#daf0da"/><stop offset="0.302" stop-color="#dbf1db"/><stop offset="0.332" stop-color="#dcf1dc"/><stop offset="0.362" stop-color="#ddf2dd"/><stop offset="0.392" stop-color="#dff2df"/><stop offset="0.422" stop-color="#e3f4e3"/><stop offset="0.453" stop-color="#e8f6e8"/><stop offset="0.483" stop-color="#eef8ee"/><stop offset="0.513" stop-color="#f3faf3"/><stop offset="0.543" stop-color="#f7fcf7"/><stop offset="0.573" stop-color="#f9fdf9"/><stop offset="0.604" stop-color="#fbfefb"/><stop offset="0.634" stop-color="#fdfefd"/><stop offset="0.635" stop-color="#ffffff"/></linearGradient><linearGradient id="h61" gradientUnits="userSpaceOnUse" x1="407.5" y1="0" x2="672.6" y2="0"><stop offset="0.000" stop-color="#fefefe"/><stop offset="0.030" stop-color="#fafdfa"/><stop offset="0.060" stop-color="#f0f9f0"/><stop offset="0.091" stop-color="#e1f3e1"/><stop offset="0.121" stop-color="#dcf1dc"/><stop offset="0.151" stop-color="#dbf1db"/><stop offset="0.181" stop-color="#dbf1db"/><stop offset="0.211" stop-color="#dbf1db"/><stop offset="0.241" stop-color="#dbf1db"/><stop offset="0.272" stop-color="#dcf1dc"/><stop offset="0.302" stop-color="#dcf1dc"/><stop offset="0.332" stop-color="#ddf2dd"/><stop offset="0.362" stop-color="#dff2df"/><stop offset="0.392" stop-color="#e1f3e1"/><stop offset="0.422" stop-color="#e5f5e5"/><stop offset="0.453" stop-color="#eaf7ea"/><stop offset="0.483" stop-color="#f0f9f0"/><stop offset="0.513" stop-color="#f4fbf4"/><stop offset="0.543" stop-color="#f8fcf8"/><stop offset="0.573" stop-color="#fafdfa"/><stop offset="0.604" stop-color="#fcfefc"/><stop offset="0.634" stop-color="#fdfefd"/><stop offset="0.635" stop-color="#ffffff"/></linearGradient><linearGradient id="h62" gradientUnits="userSpaceOnUse" x1="407.5" y1="0" x2="672.6" y2="0"><stop offset="0.000" stop-color="#fefffe"/><stop offset="0.030" stop-color="#fafdfa"/><stop offset="0.060" stop-color="#f2faf2"/><stop offset="0.091" stop-color="#e3f4e3"/><stop offset="0.121" stop-color="#def2de"/><stop offset="0.151" stop-color="#ddf1dd"/><stop offset="0.181" stop-color="#ddf1dd"/><stop offset="0.211" stop-color="#ddf1dd"/><stop offset="0.241" stop-color="#ddf1dd"/><stop offset="0.272" stop-color="#ddf2dd"/><stop offset="0.302" stop-color="#def2de"/><stop offset="0.332" stop-color="#dff2df"/><stop offset="0.362" stop-color="#e0f3e0"/><stop offset="0.392" stop-color="#e3f4e3"/><stop offset="0.422" stop-color="#e7f6e7"/><stop offset="0.453" stop-color="#ecf8ec"/><stop offset="0.483" stop-color="#f1faf1"/><stop offset="0.513" stop-color="#f5fbf5"/><stop offset="0.543" stop-color="#f9fcf9"/><stop offset="0.573" stop-color="#fbfdfb"/><stop offset="0.604" stop-color="#fcfefc"/><stop offset="0.634" stop-color="#fdfefd"/><stop offset="0.635" stop-color="#ffffff"/></linearGradient><linearGradient id="h63" gradientUnits="userSpaceOnUse" x1="407.5" y1="0" x2="672.6" y2="0"><stop offset="0.000" stop-color="#fefffe"/><stop offset="0.030" stop-color="#fbfdfb"/><stop offset="0.060" stop-color="#f3faf3"/><stop offset="0.091" stop-color="#e4f4e4"/><stop offset="0.121" stop-color="#dff2df"/><stop offset="0.151" stop-color="#def2de"/><stop offset="0.181" stop-color="#def2de"/><stop offset="0.211" stop-color="#def2de"/><stop offset="0.241" stop-color="#def2de"/><stop offset="0.272" stop-color="#dff2df"/><stop offset="0.302" stop-color="#dff2df"/><stop offset="0.332" stop-color="#e0f3e0"/><stop offset="0.362" stop-color="#e2f4e2"/><stop offset="0.392" stop-color="#e5f5e5"/><stop offset="0.422" stop-color="#e9f6e9"/><stop offset="0.453" stop-color="#eef8ee"/><stop offset="0.483" stop-color="#f3faf3"/><stop offset="0.513" stop-color="#f7fcf7"/><stop offset="0.543" stop-color="#f9fdf9"/><stop offset="0.573" stop-color="#fbfefb"/><stop offset="0.604" stop-color="#fdfefd"/><stop offset="0.605" stop-color="#ffffff"/></linearGradient><linearGradient id="h64" gradientUnits="userSpaceOnUse" x1="407.5" y1="0" x2="672.6" y2="0"><stop offset="0.000" stop-color="#fefffe"/><stop offset="0.030" stop-color="#fbfdfb"/><stop offset="0.060" stop-color="#f4fbf4"/><stop offset="0.091" stop-color="#e6f5e6"/><stop offset="0.121" stop-color="#e1f3e1"/><stop offset="0.151" stop-color="#dff2df"/><stop offset="0.181" stop-color="#dff2df"/><stop offset="0.211" stop-color="#dff2df"/><stop offset="0.241" stop-color="#e0f3e0"/><stop offset="0.272" stop-color="#e0f3e0"/><stop offset="0.302" stop-color="#e1f3e1"/><stop offset="0.332" stop-color="#e2f3e2"/><stop offset="0.362" stop-color="#e4f4e4"/><stop offset="0.392" stop-color="#e7f5e7"/><stop offset="0.422" stop-color="#ebf7eb"/><stop offset="0.453" stop-color="#f0f9f0"/><stop offset="0.483" stop-color="#f4fbf4"/><stop offset="0.513" stop-color="#f8fcf8"/><stop offset="0.543" stop-color="#fafdfa"/><stop offset="0.573" stop-color="#fcfefc"/><stop offset="0.604" stop-color="#fdfefd"/><stop offset="0.605" stop-color="#ffffff"/></linearGradient><linearGradient id="h65" gradientUnits="userSpaceOnUse" x1="407.5" y1="0" x2="672.6" y2="0"><stop offset="0.000" stop-color="#fefffe"/><stop offset="0.030" stop-color="#fbfefb"/><stop offset="0.060" stop-color="#f5fbf5"/><stop offset="0.091" stop-color="#e8f6e8"/><stop offset="0.121" stop-color="#e2f4e2"/><stop offset="0.151" stop-color="#e1f3e1"/><stop offset="0.181" stop-color="#e0f3e0"/><stop offset="0.211" stop-color="#e1f3e1"/><stop offset="0.241" stop-color="#e1f3e1"/><stop offset="0.272" stop-color="#e1f3e1"/><stop offset="0.302" stop-color="#e2f3e2"/><stop offset="0.332" stop-color="#e3f4e3"/><stop offset="0.362" stop-color="#e5f5e5"/><stop offset="0.392" stop-color="#e8f6e8"/><stop offset="0.422" stop-color="#edf8ed"/><stop offset="0.453" stop-color="#f1faf1"/><stop offset="0.483" stop-color="#f5fbf5"/><stop offset="0.513" stop-color="#f8fcf8"/><stop offset="0.543" stop-color="#fbfdfb"/><stop offset="0.573" stop-color="#fcfefc"/><stop offset="0.604" stop-color="#fdfefd"/><stop offset="0.605" stop-color="#ffffff"/></linearGradient><linearGradient id="h66" gradientUnits="userSpaceOnUse" x1="407.5" y1="0" x2="672.6" y2="0"><stop offset="0.000" stop-color="#fefffe"/><stop offset="0.030" stop-color="#fcfefc"/><stop offset="0.060" stop-color="#f6fbf6"/><stop offset="0.091" stop-color="#e9f6e9"/><stop offset="0.121" stop-color="#e3f4e3"/><stop offset="0.151" stop-color="#e2f3e2"/><stop offset="0.181" stop-color="#e2f3e2"/><stop offset="0.211" stop-color="#e2f3e2"/><stop offset="0.241" stop-color="#e2f3e2"/><stop offset="0.272" stop-color="#e2f4e2"/><stop offset="0.302" stop-color="#e3f4e3"/><stop offset="0.332" stop-color="#e5f5e5"/><stop offset="0.362" stop-color="#e7f5e7"/><stop offset="0.392" stop-color="#eaf7ea"/><stop offset="0.422" stop-color="#eef8ee"/><stop offset="0.453" stop-color="#f3faf3"/><stop offset="0.483" stop-color="#f6fcf6"/><stop offset="0.513" stop-color="#f9fdf9"/><stop offset="0.543" stop-color="#fbfefb"/><stop offset="0.573" stop-color="#fdfefd"/><stop offset="0.574" stop-color="#ffffff"/></linearGradient><linearGradient id="h67" gradientUnits="userSpaceOnUse" x1="407.5" y1="0" x2="672.6" y2="0"><stop offset="0.000" stop-color="#fefffe"/><stop offset="0.030" stop-color="#fcfefc"/><stop offset="0.060" stop-color="#f7fcf7"/><stop offset="0.091" stop-color="#ebf7eb"/><stop offset="0.121" stop-color="#e5f4e5"/><stop offset="0.151" stop-color="#e3f4e3"/><stop offset="0.181" stop-color="#e3f4e3"/><stop offset="0.211" stop-color="#e3f4e3"/><stop offset="0.241" stop-color="#e3f4e3"/><stop offset="0.272" stop-color="#e4f4e4"/><stop offset="0.302" stop-color="#e4f4e4"/><stop offset="0.332" stop-color="#e6f5e6"/><stop offset="0.362" stop-color="#e8f6e8"/><stop offset="0.392" stop-color="#ecf7ec"/><stop offset="0.422" stop-color="#f0f9f0"/><stop offset="0.453" stop-color="#f4fbf4"/><stop offset="0.483" stop-color="#f7fcf7"/><stop offset="0.513" stop-color="#fafdfa"/><stop offset="0.543" stop-color="#fcfefc"/><stop offset="0.573" stop-color="#fdfefd"/><stop offset="0.574" stop-color="#ffffff"/></linearGradient><linearGradient id="h68" gradientUnits="userSpaceOnUse" x1="407.5" y1="0" x2="672.6" y2="0"><stop offset="0.000" stop-color="#fefffe"/><stop offset="0.030" stop-color="#fcfefc"/><stop offset="0.060" stop-color="#f8fcf8"/><stop offset="0.091" stop-color="#ecf7ec"/><stop offset="0.121" stop-color="#e6f5e6"/><stop offset="0.151" stop-color="#e4f4e4"/><stop offset="0.181" stop-color="#e4f4e4"/><stop offset="0.211" stop-color="#e4f4e4"/><stop offset="0.241" stop-color="#e4f4e4"/><stop offset="0.272" stop-color="#e5f5e5"/><stop offset="0.302" stop-color="#e6f5e6"/><stop offset="0.332" stop-color="#e7f6e7"/><stop offset="0.362" stop-color="#eaf7ea"/><stop offset="0.392" stop-color="#edf8ed"/><stop offset="0.422" stop-color="#f1f9f1"/><stop offset="0.453" stop-color="#f5fbf5"/><stop offset="0.483" stop-color="#f8fcf8"/><stop offset="0.513" stop-color="#fbfdfb"/><stop offset="0.543" stop-color="#fcfefc"/><stop offset="0.573" stop-color="#fdfefd"/><stop offset="0.574" stop-color="#ffffff"/></linearGradient><linearGradient id="h69" gradientUnits="userSpaceOnUse" x1="407.5" y1="0" x2="672.6" y2="0"><stop offset="0.000" stop-color="#ffffff"/><stop offset="0.030" stop-color="#fdfefd"/><stop offset="0.060" stop-color="#f9fcf9"/><stop offset="0.091" stop-color="#edf8ed"/><stop offset="0.121" stop-color="#e7f5e7"/><stop offset="0.151" stop-color="#e5f5e5"/><stop offset="0.181" stop-color="#e5f5e5"/><stop offset="0.211" stop-color="#e5f5e5"/><stop offset="0.241" stop-color="#e5f5e5"/><stop offset="0.272" stop-color="#e6f5e6"/><stop offset="0.302" stop-color="#e7f5e7"/><stop offset="0.332" stop-color="#e8f6e8"/><stop offset="0.362" stop-color="#ebf7eb"/><stop offset="0.392" stop-color="#eff8ef"/><stop offset="0.422" stop-color="#f2faf2"/><stop offset="0.453" stop-color="#f6fbf6"/><stop offset="0.483" stop-color="#f9fdf9"/><stop offset="0.513" stop-color="#fbfdfb"/><stop offset="0.543" stop-color="#fdfefd"/><stop offset="0.544" stop-color="#ffffff"/></linearGradient><linearGradient id="h70" gradientUnits="userSpaceOnUse" x1="407.5" y1="0" x2="672.6" y2="0"><stop offset="0.000" stop-color="#ffffff"/><stop offset="0.030" stop-color="#fdfefd"/><stop offset="0.060" stop-color="#f9fdf9"/><stop offset="0.091" stop-color="#eff9ef"/><stop offset="0.121" stop-color="#e8f6e8"/><stop offset="0.151" stop-color="#e6f5e6"/><stop offset="0.181" stop-color="#e6f5e6"/><stop offset="0.211" stop-color="#e6f5e6"/><stop offset="0.241" stop-color="#e6f5e6"/><stop offset="0.272" stop-color="#e7f5e7"/><stop offset="0.302" stop-color="#e8f6e8"/><stop offset="0.332" stop-color="#eaf7ea"/><stop offset="0.362" stop-color="#ecf8ec"/><stop offset="0.392" stop-color="#f0f9f0"/><stop offset="0.422" stop-color="#f4faf4"/><stop offset="0.453" stop-color="#f7fcf7"/><stop offset="0.483" stop-color="#fafdfa"/><stop offset="0.513" stop-color="#fcfefc"/><stop offset="0.543" stop-color="#fdfefd"/><stop offset="0.544" stop-color="#ffffff"/></linearGradient><linearGradient id="h71" gradientUnits="userSpaceOnUse" x1="407.5" y1="0" x2="672.6" y2="0"><stop offset="0.000" stop-color="#ffffff"/><stop offset="0.030" stop-color="#fdfefd"/><stop offset="0.060" stop-color="#fafdfa"/><stop offset="0.091" stop-color="#f0f9f0"/><stop offset="0.121" stop-color="#e9f6e9"/><stop offset="0.151" stop-color="#e7f5e7"/><stop offset="0.181" stop-color="#e7f5e7"/><stop offset="0.211" stop-color="#e7f5e7"/><stop offset="0.241" stop-color="#e7f6e7"/><stop offset="0.272" stop-color="#e8f6e8"/><stop offset="0.302" stop-color="#e9f6e9"/><stop offset="0.332" stop-color="#ebf7eb"/><stop offset="0.362" stop-color="#eef8ee"/><stop offset="0.392" stop-color="#f1f9f1"/><stop offset="0.422" stop-color="#f5fbf5"/><stop offset="0.453" stop-color="#f8fcf8"/><stop offset="0.483" stop-color="#fafdfa"/><stop offset="0.513" stop-color="#fcfefc"/><stop offset="0.543" stop-color="#fdfefd"/><stop offset="0.544" stop-color="#ffffff"/></linearGradient><linearGradient id="h72" gradientUnits="userSpaceOnUse" x1="407.5" y1="0" x2="672.6" y2="0"><stop offset="0.000" stop-color="#ffffff"/><stop offset="0.030" stop-color="#fdfefd"/><stop offset="0.060" stop-color="#fafdfa"/><stop offset="0.091" stop-color="#f1f9f1"/><stop offset="0.121" stop-color="#eaf7ea"/><stop offset="0.151" stop-color="#e8f6e8"/><stop offset="0.181" stop-color="#e8f6e8"/><stop offset="0.211" stop-color="#e8f6e8"/><stop offset="0.241" stop-color="#e8f6e8"/><stop offset="0.272" stop-color="#e9f6e9"/><stop offset="0.302" stop-color="#eaf7ea"/><stop offset="0.332" stop-color="#ecf8ec"/><stop offset="0.362" stop-color="#eff9ef"/><stop offset="0.392" stop-color="#f2faf2"/><stop offset="0.422" stop-color="#f6fbf6"/><stop offset="0.453" stop-color="#f9fcf9"/><stop offset="0.483" stop-color="#fbfdfb"/><stop offset="0.513" stop-color="#fcfefc"/><stop offset="0.543" stop-color="#fdfefd"/><stop offset="0.544" stop-color="#ffffff"/></linearGradient><linearGradient id="h73" gradientUnits="userSpaceOnUse" x1="407.5" y1="0" x2="672.6" y2="0"><stop offset="0.000" stop-color="#ffffff"/><stop offset="0.030" stop-color="#fefefe"/><stop offset="0.060" stop-color="#fbfdfb"/><stop offset="0.091" stop-color="#f2faf2"/><stop offset="0.121" stop-color="#ebf7eb"/><stop offset="0.151" stop-color="#e9f6e9"/><stop offset="0.181" stop-color="#e8f6e8"/><stop offset="0.211" stop-color="#e9f6e9"/><stop offset="0.241" stop-color="#e9f6e9"/><stop offset="0.272" stop-color="#eaf7ea"/><stop offset="0.302" stop-color="#ebf7eb"/><stop offset="0.332" stop-color="#edf8ed"/><stop offset="0.362" stop-color="#f0f9f0"/><stop offset="0.392" stop-color="#f3faf3"/><stop offset="0.422" stop-color="#f6fcf6"/><stop offset="0.453" stop-color="#f9fdf9"/><stop offset="0.483" stop-color="#fbfefb"/><stop offset="0.513" stop-color="#fdfefd"/><stop offset="0.514" stop-color="#ffffff"/></linearGradient><linearGradient id="h74" gradientUnits="userSpaceOnUse" x1="407.5" y1="0" x2="672.6" y2="0"><stop offset="0.000" stop-color="#ffffff"/><stop offset="0.030" stop-color="#fefffe"/><stop offset="0.060" stop-color="#fbfdfb"/><stop offset="0.091" stop-color="#f3faf3"/><stop offset="0.121" stop-color="#ecf7ec"/><stop offset="0.151" stop-color="#eaf7ea"/><stop offset="0.181" stop-color="#e9f6e9"/><stop offset="0.211" stop-color="#eaf6ea"/><stop offset="0.241" stop-color="#eaf7ea"/><stop offset="0.272" stop-color="#ebf7eb"/><stop offset="0.302" stop-color="#ecf8ec"/><stop offset="0.332" stop-color="#eff8ef"/><stop offset="0.362" stop-color="#f1faf1"/><stop offset="0.392" stop-color="#f4fbf4"/><stop offset="0.422" stop-color="#f7fcf7"/><stop offset="0.453" stop-color="#fafdfa"/><stop offset="0.483" stop-color="#fcfefc"/><stop offset="0.513" stop-color="#fdfefd"/><stop offset="0.514" stop-color="#ffffff"/></linearGradient><linearGradient id="h75" gradientUnits="userSpaceOnUse" x1="407.5" y1="0" x2="672.6" y2="0"><stop offset="0.000" stop-color="#ffffff"/><stop offset="0.030" stop-color="#fefffe"/><stop offset="0.060" stop-color="#fcfefc"/><stop offset="0.091" stop-color="#f4fbf4"/><stop offset="0.121" stop-color="#edf8ed"/><stop offset="0.151" stop-color="#ebf7eb"/><stop offset="0.181" stop-color="#eaf7ea"/><stop offset="0.211" stop-color="#eaf7ea"/><stop offset="0.241" stop-color="#ebf7eb"/><stop offset="0.272" stop-color="#ecf7ec"/><stop offset="0.302" stop-color="#edf8ed"/><stop offset="0.332" stop-color="#f0f9f0"/><stop offset="0.362" stop-color="#f2faf2"/><stop offset="0.392" stop-color="#f5fbf5"/><stop offset="0.422" stop-color="#f8fcf8"/><stop offset="0.453" stop-color="#fafdfa"/><stop offset="0.483" stop-color="#fcfefc"/><stop offset="0.513" stop-color="#fdfefd"/><stop offset="0.514" stop-color="#ffffff"/></linearGradient><linearGradient id="h76" gradientUnits="userSpaceOnUse" x1="407.5" y1="0" x2="672.6" y2="0"><stop offset="0.000" stop-color="#ffffff"/><stop offset="0.030" stop-color="#fefffe"/><stop offset="0.060" stop-color="#fcfefc"/><stop offset="0.091" stop-color="#f5fbf5"/><stop offset="0.121" stop-color="#eef8ee"/><stop offset="0.151" stop-color="#ebf7eb"/><stop offset="0.181" stop-color="#ebf7eb"/><stop offset="0.211" stop-color="#ebf7eb"/><stop offset="0.241" stop-color="#ecf7ec"/><stop offset="0.272" stop-color="#edf8ed"/><stop offset="0.302" stop-color="#eef8ee"/><stop offset="0.332" stop-color="#f1f9f1"/><stop offset="0.362" stop-color="#f3faf3"/><stop offset="0.392" stop-color="#f6fbf6"/><stop offset="0.422" stop-color="#f9fdf9"/><stop offset="0.453" stop-color="#fbfdfb"/><stop offset="0.483" stop-color="#fdfefd"/><stop offset="0.484" stop-color="#ffffff"/></linearGradient><linearGradient id="h77" gradientUnits="userSpaceOnUse" x1="407.5" y1="0" x2="672.6" y2="0"><stop offset="0.000" stop-color="#ffffff"/><stop offset="0.030" stop-color="#fefffe"/><stop offset="0.060" stop-color="#fcfefc"/><stop offset="0.091" stop-color="#f6fbf6"/><stop offset="0.121" stop-color="#eff9ef"/><stop offset="0.151" stop-color="#ecf8ec"/><stop offset="0.181" stop-color="#ecf7ec"/><stop offset="0.211" stop-color="#ecf7ec"/><stop offset="0.241" stop-color="#edf8ed"/><stop offset="0.272" stop-color="#eef8ee"/><stop offset="0.302" stop-color="#eff9ef"/><stop offset="0.332" stop-color="#f2faf2"/><stop offset="0.362" stop-color="#f4fbf4"/><stop offset="0.392" stop-color="#f7fcf7"/><stop offset="0.422" stop-color="#fafdfa"/><stop offset="0.453" stop-color="#fcfefc"/><stop offset="0.483" stop-color="#fdfefd"/><stop offset="0.484" stop-color="#ffffff"/></linearGradient><linearGradient id="h78" gradientUnits="userSpaceOnUse" x1="407.5" y1="0" x2="672.6" y2="0"><stop offset="0.000" stop-color="#ffffff"/><stop offset="0.030" stop-color="#fefffe"/><stop offset="0.060" stop-color="#fcfefc"/><stop offset="0.091" stop-color="#f7fcf7"/><stop offset="0.121" stop-color="#f0f9f0"/><stop offset="0.151" stop-color="#edf8ed"/><stop offset="0.181" stop-color="#edf8ed"/><stop offset="0.211" stop-color="#edf8ed"/><stop offset="0.241" stop-color="#edf8ed"/><stop offset="0.272" stop-color="#eff8ef"/><stop offset="0.302" stop-color="#f0f9f0"/><stop offset="0.332" stop-color="#f2faf2"/><stop offset="0.362" stop-color="#f5fbf5"/><stop offset="0.392" stop-color="#f8fcf8"/><stop offset="0.422" stop-color="#fafdfa"/><stop offset="0.453" stop-color="#fcfefc"/><stop offset="0.483" stop-color="#fdfefd"/><stop offset="0.484" stop-color="#ffffff"/></linearGradient><linearGradient id="h79" gradientUnits="userSpaceOnUse" x1="407.5" y1="0" x2="672.6" y2="0"><stop offset="0.000" stop-color="#ffffff"/><stop offset="0.030" stop-color="#fefffe"/><stop offset="0.060" stop-color="#fdfefd"/><stop offset="0.091" stop-color="#f7fcf7"/><stop offset="0.121" stop-color="#f1f9f1"/><stop offset="0.151" stop-color="#eef8ee"/><stop offset="0.181" stop-color="#edf8ed"/><stop offset="0.211" stop-color="#eef8ee"/><stop offset="0.241" stop-color="#eef8ee"/><stop offset="0.272" stop-color="#f0f9f0"/><stop offset="0.302" stop-color="#f1f9f1"/><stop offset="0.332" stop-color="#f3faf3"/><stop offset="0.362" stop-color="#f6fbf6"/><stop offset="0.392" stop-color="#f8fcf8"/><stop offset="0.422" stop-color="#fbfdfb"/><stop offset="0.453" stop-color="#fcfefc"/><stop offset="0.483" stop-color="#fdfefd"/><stop offset="0.484" stop-color="#ffffff"/></linearGradient><linearGradient id="h80" gradientUnits="userSpaceOnUse" x1="407.5" y1="0" x2="672.6" y2="0"><stop offset="0.000" stop-color="#ffffff"/><stop offset="0.030" stop-color="#fefffe"/><stop offset="0.060" stop-color="#fdfefd"/><stop offset="0.091" stop-color="#f8fcf8"/><stop offset="0.121" stop-color="#f2faf2"/><stop offset="0.151" stop-color="#eff8ef"/><stop offset="0.181" stop-color="#eef8ee"/><stop offset="0.211" stop-color="#eef8ee"/><stop offset="0.241" stop-color="#eff9ef"/><stop offset="0.272" stop-color="#f0f9f0"/><stop offset="0.302" stop-color="#f2faf2"/><stop offset="0.332" stop-color="#f4fbf4"/><stop offset="0.362" stop-color="#f7fcf7"/><stop offset="0.392" stop-color="#f9fdf9"/><stop offset="0.422" stop-color="#fbfdfb"/><stop offset="0.453" stop-color="#fdfefd"/><stop offset="0.454" stop-color="#ffffff"/></linearGradient><linearGradient id="h81" gradientUnits="userSpaceOnUse" x1="407.5" y1="0" x2="672.6" y2="0"><stop offset="0.000" stop-color="#ffffff"/><stop offset="0.030" stop-color="#ffffff"/><stop offset="0.060" stop-color="#fdfefd"/><stop offset="0.091" stop-color="#f9fcf9"/><stop offset="0.121" stop-color="#f2faf2"/><stop offset="0.151" stop-color="#eff9ef"/><stop offset="0.181" stop-color="#eff8ef"/><stop offset="0.211" stop-color="#eff9ef"/><stop offset="0.241" stop-color="#f0f9f0"/><stop offset="0.272" stop-color="#f1f9f1"/><stop offset="0.302" stop-color="#f3faf3"/><stop offset="0.332" stop-color="#f5fbf5"/><stop offset="0.362" stop-color="#f7fcf7"/><stop offset="0.392" stop-color="#fafdfa"/><stop offset="0.422" stop-color="#fcfefc"/><stop offset="0.453" stop-color="#fdfefd"/><stop offset="0.454" stop-color="#ffffff"/></linearGradient><linearGradient id="h82" gradientUnits="userSpaceOnUse" x1="407.5" y1="0" x2="672.6" y2="0"><stop offset="0.000" stop-color="#ffffff"/><stop offset="0.030" stop-color="#ffffff"/><stop offset="0.060" stop-color="#fdfefd"/><stop offset="0.091" stop-color="#f9fdf9"/><stop offset="0.121" stop-color="#f3faf3"/><stop offset="0.151" stop-color="#f0f9f0"/><stop offset="0.181" stop-color="#eff9ef"/><stop offset="0.211" stop-color="#f0f9f0"/><stop offset="0.241" stop-color="#f1f9f1"/><stop offset="0.272" stop-color="#f2faf2"/><stop offset="0.302" stop-color="#f3faf3"/><stop offset="0.332" stop-color="#f6fbf6"/><stop offset="0.362" stop-color="#f8fcf8"/><stop offset="0.392" stop-color="#fafdfa"/><stop offset="0.422" stop-color="#fcfefc"/><stop offset="0.453" stop-color="#fdfefd"/><stop offset="0.454" stop-color="#ffffff"/></linearGradient><linearGradient id="h83" gradientUnits="userSpaceOnUse" x1="407.5" y1="0" x2="672.6" y2="0"><stop offset="0.000" stop-color="#ffffff"/><stop offset="0.030" stop-color="#ffffff"/><stop offset="0.060" stop-color="#fefefe"/><stop offset="0.091" stop-color="#fafdfa"/><stop offset="0.121" stop-color="#f4faf4"/><stop offset="0.151" stop-color="#f1f9f1"/><stop offset="0.181" stop-color="#f0f9f0"/><stop offset="0.211" stop-color="#f0f9f0"/><stop offset="0.241" stop-color="#f1f9f1"/><stop offset="0.272" stop-color="#f2faf2"/><stop offset="0.302" stop-color="#f4fbf4"/><stop offset="0.332" stop-color="#f6fcf6"/><stop offset="0.362" stop-color="#f9fdf9"/><stop offset="0.392" stop-color="#fbfdfb"/><stop offset="0.422" stop-color="#fcfefc"/><stop offset="0.453" stop-color="#fdfefd"/><stop offset="0.454" stop-color="#ffffff"/></linearGradient><linearGradient id="h84" gradientUnits="userSpaceOnUse" x1="407.5" y1="0" x2="672.6" y2="0"><stop offset="0.000" stop-color="#ffffff"/><stop offset="0.030" stop-color="#ffffff"/><stop offset="0.060" stop-color="#fefefe"/><stop offset="0.091" stop-color="#fafdfa"/><stop offset="0.121" stop-color="#f4fbf4"/><stop offset="0.151" stop-color="#f1f9f1"/><stop offset="0.181" stop-color="#f1f9f1"/><stop offset="0.211" stop-color="#f1f9f1"/><stop offset="0.241" stop-color="#f2faf2"/><stop offset="0.272" stop-color="#f3faf3"/><stop offset="0.302" stop-color="#f5fbf5"/><stop offset="0.332" stop-color="#f7fcf7"/><stop offset="0.362" stop-color="#f9fdf9"/><stop offset="0.392" stop-color="#fbfefb"/><stop offset="0.422" stop-color="#fdfefd"/><stop offset="0.423" stop-color="#ffffff"/></linearGradient><linearGradient id="h85" gradientUnits="userSpaceOnUse" x1="407.5" y1="0" x2="672.6" y2="0"><stop offset="0.000" stop-color="#ffffff"/><stop offset="0.030" stop-color="#ffffff"/><stop offset="0.060" stop-color="#fefffe"/><stop offset="0.091" stop-color="#fbfdfb"/><stop offset="0.121" stop-color="#f5fbf5"/><stop offset="0.151" stop-color="#f2faf2"/><stop offset="0.181" stop-color="#f1f9f1"/><stop offset="0.211" stop-color="#f2faf2"/><stop offset="0.241" stop-color="#f2faf2"/><stop offset="0.272" stop-color="#f4fbf4"/><stop offset="0.302" stop-color="#f6fbf6"/><stop offset="0.332" stop-color="#f8fcf8"/><stop offset="0.362" stop-color="#fafdfa"/><stop offset="0.392" stop-color="#fcfefc"/><stop offset="0.422" stop-color="#fdfefd"/><stop offset="0.423" stop-color="#ffffff"/></linearGradient><linearGradient id="h86" gradientUnits="userSpaceOnUse" x1="407.5" y1="0" x2="672.6" y2="0"><stop offset="0.000" stop-color="#ffffff"/><stop offset="0.030" stop-color="#ffffff"/><stop offset="0.060" stop-color="#fefffe"/><stop offset="0.091" stop-color="#fbfdfb"/><stop offset="0.121" stop-color="#f6fbf6"/><stop offset="0.151" stop-color="#f2faf2"/><stop offset="0.181" stop-color="#f2faf2"/><stop offset="0.211" stop-color="#f2faf2"/><stop offset="0.241" stop-color="#f3faf3"/><stop offset="0.272" stop-color="#f4fbf4"/><stop offset="0.302" stop-color="#f6fcf6"/><stop offset="0.332" stop-color="#f8fcf8"/><stop offset="0.362" stop-color="#fafdfa"/><stop offset="0.392" stop-color="#fcfefc"/><stop offset="0.422" stop-color="#fdfefd"/><stop offset="0.423" stop-color="#ffffff"/></linearGradient><linearGradient id="h87" gradientUnits="userSpaceOnUse" x1="407.5" y1="0" x2="672.6" y2="0"><stop offset="0.000" stop-color="#ffffff"/><stop offset="0.030" stop-color="#ffffff"/><stop offset="0.060" stop-color="#fefffe"/><stop offset="0.091" stop-color="#fcfefc"/><stop offset="0.121" stop-color="#f6fcf6"/><stop offset="0.151" stop-color="#f3faf3"/><stop offset="0.181" stop-color="#f2faf2"/><stop offset="0.211" stop-color="#f3faf3"/><stop offset="0.241" stop-color="#f4faf4"/><stop offset="0.272" stop-color="#f5fbf5"/><stop offset="0.302" stop-color="#f7fcf7"/><stop offset="0.332" stop-color="#f9fdf9"/><stop offset="0.362" stop-color="#fbfdfb"/><stop offset="0.392" stop-color="#fcfefc"/><stop offset="0.422" stop-color="#fdfefd"/><stop offset="0.423" stop-color="#ffffff"/></linearGradient><linearGradient id="h88" gradientUnits="userSpaceOnUse" x1="407.5" y1="0" x2="672.6" y2="0"><stop offset="0.000" stop-color="#ffffff"/><stop offset="0.030" stop-color="#ffffff"/><stop offset="0.060" stop-color="#fefffe"/><stop offset="0.091" stop-color="#fcfefc"/><stop offset="0.121" stop-color="#f7fcf7"/><stop offset="0.151" stop-color="#f3faf3"/><stop offset="0.181" stop-color="#f3faf3"/><stop offset="0.211" stop-color="#f3faf3"/><stop offset="0.241" stop-color="#f4fbf4"/><stop offset="0.272" stop-color="#f6fbf6"/><stop offset="0.302" stop-color="#f8fcf8"/><stop offset="0.332" stop-color="#fafdfa"/><stop offset="0.362" stop-color="#fbfefb"/><stop offset="0.392" stop-color="#fdfefd"/><stop offset="0.393" stop-color="#ffffff"/></linearGradient><linearGradient id="h89" gradientUnits="userSpaceOnUse" x1="407.5" y1="0" x2="672.6" y2="0"><stop offset="0.000" stop-color="#ffffff"/><stop offset="0.030" stop-color="#ffffff"/><stop offset="0.060" stop-color="#fefffe"/><stop offset="0.091" stop-color="#fcfefc"/><stop offset="0.121" stop-color="#f7fcf7"/><stop offset="0.151" stop-color="#f4fbf4"/><stop offset="0.181" stop-color="#f3faf3"/><stop offset="0.211" stop-color="#f4faf4"/><stop offset="0.241" stop-color="#f5fbf5"/><stop offset="0.272" stop-color="#f6fcf6"/><stop offset="0.302" stop-color="#f8fcf8"/><stop offset="0.332" stop-color="#fafdfa"/><stop offset="0.362" stop-color="#fcfefc"/><stop offset="0.392" stop-color="#fdfefd"/><stop offset="0.393" stop-color="#ffffff"/></linearGradient><linearGradient id="h90" gradientUnits="userSpaceOnUse" x1="407.5" y1="0" x2="672.6" y2="0"><stop offset="0.000" stop-color="#ffffff"/><stop offset="0.030" stop-color="#ffffff"/><stop offset="0.060" stop-color="#fefffe"/><stop offset="0.091" stop-color="#fdfefd"/><stop offset="0.121" stop-color="#f8fcf8"/><stop offset="0.151" stop-color="#f5fbf5"/><stop offset="0.181" stop-color="#f4faf4"/><stop offset="0.211" stop-color="#f4fbf4"/><stop offset="0.241" stop-color="#f5fbf5"/><stop offset="0.272" stop-color="#f7fcf7"/><stop offset="0.302" stop-color="#f9fdf9"/><stop offset="0.332" stop-color="#fbfdfb"/><stop offset="0.362" stop-color="#fcfefc"/><stop offset="0.392" stop-color="#fdfefd"/><stop offset="0.393" stop-color="#ffffff"/></linearGradient><linearGradient id="h91" gradientUnits="userSpaceOnUse" x1="407.5" y1="0" x2="672.6" y2="0"><stop offset="0.000" stop-color="#ffffff"/><stop offset="0.030" stop-color="#ffffff"/><stop offset="0.060" stop-color="#fefffe"/><stop offset="0.091" stop-color="#fdfefd"/><stop offset="0.121" stop-color="#f9fcf9"/><stop offset="0.151" stop-color="#f5fbf5"/><stop offset="0.181" stop-color="#f4fbf4"/><stop offset="0.211" stop-color="#f5fbf5"/><stop offset="0.241" stop-color="#f6fbf6"/><stop offset="0.272" stop-color="#f8fcf8"/><stop offset="0.302" stop-color="#f9fdf9"/><stop offset="0.332" stop-color="#fbfdfb"/><stop offset="0.362" stop-color="#fdfefd"/><stop offset="0.363" stop-color="#ffffff"/></linearGradient><linearGradient id="h92" gradientUnits="userSpaceOnUse" x1="407.5" y1="0" x2="672.6" y2="0"><stop offset="0.000" stop-color="#ffffff"/><stop offset="0.030" stop-color="#ffffff"/><stop offset="0.060" stop-color="#ffffff"/><stop offset="0.091" stop-color="#fdfefd"/><stop offset="0.121" stop-color="#f9fdf9"/><stop offset="0.151" stop-color="#f6fbf6"/><stop offset="0.181" stop-color="#f5fbf5"/><stop offset="0.211" stop-color="#f5fbf5"/><stop offset="0.241" stop-color="#f6fcf6"/><stop offset="0.272" stop-color="#f8fcf8"/><stop offset="0.302" stop-color="#fafdfa"/><stop offset="0.332" stop-color="#fcfefc"/><stop offset="0.362" stop-color="#fdfefd"/><stop offset="0.363" stop-color="#ffffff"/></linearGradient><linearGradient id="h93" gradientUnits="userSpaceOnUse" x1="407.5" y1="0" x2="672.6" y2="0"><stop offset="0.000" stop-color="#ffffff"/><stop offset="0.030" stop-color="#ffffff"/><stop offset="0.060" stop-color="#ffffff"/><stop offset="0.091" stop-color="#fdfefd"/><stop offset="0.121" stop-color="#fafdfa"/><stop offset="0.151" stop-color="#f6fbf6"/><stop offset="0.181" stop-color="#f5fbf5"/><stop offset="0.211" stop-color="#f6fbf6"/><stop offset="0.241" stop-color="#f7fcf7"/><stop offset="0.272" stop-color="#f9fcf9"/><stop offset="0.302" stop-color="#fafdfa"/><stop offset="0.332" stop-color="#fcfefc"/><stop offset="0.362" stop-color="#fdfefd"/><stop offset="0.363" stop-color="#ffffff"/></linearGradient><linearGradient id="h94" gradientUnits="userSpaceOnUse" x1="407.5" y1="0" x2="672.6" y2="0"><stop offset="0.000" stop-color="#ffffff"/><stop offset="0.030" stop-color="#ffffff"/><stop offset="0.060" stop-color="#ffffff"/><stop offset="0.091" stop-color="#fdfefd"/><stop offset="0.121" stop-color="#fafdfa"/><stop offset="0.151" stop-color="#f7fcf7"/><stop offset="0.181" stop-color="#f6fbf6"/><stop offset="0.211" stop-color="#f6fcf6"/><stop offset="0.241" stop-color="#f8fcf8"/><stop offset="0.272" stop-color="#f9fdf9"/><stop offset="0.302" stop-color="#fbfdfb"/><stop offset="0.332" stop-color="#fcfefc"/><stop offset="0.362" stop-color="#fdfefd"/><stop offset="0.363" stop-color="#ffffff"/></linearGradient><linearGradient id="h95" gradientUnits="userSpaceOnUse" x1="407.5" y1="0" x2="672.6" y2="0"><stop offset="0.000" stop-color="#ffffff"/><stop offset="0.030" stop-color="#ffffff"/><stop offset="0.060" stop-color="#ffffff"/><stop offset="0.091" stop-color="#fefefe"/><stop offset="0.121" stop-color="#fbfdfb"/><stop offset="0.151" stop-color="#f7fcf7"/><stop offset="0.181" stop-color="#f6fbf6"/><stop offset="0.211" stop-color="#f7fcf7"/><stop offset="0.241" stop-color="#f8fcf8"/><stop offset="0.272" stop-color="#fafdfa"/><stop offset="0.302" stop-color="#fbfefb"/><stop offset="0.332" stop-color="#fdfefd"/><stop offset="0.333" stop-color="#ffffff"/></linearGradient><linearGradient id="h96" gradientUnits="userSpaceOnUse" x1="407.5" y1="0" x2="672.6" y2="0"><stop offset="0.000" stop-color="#ffffff"/><stop offset="0.030" stop-color="#ffffff"/><stop offset="0.060" stop-color="#ffffff"/><stop offset="0.091" stop-color="#fefffe"/><stop offset="0.121" stop-color="#fbfdfb"/><stop offset="0.151" stop-color="#f8fcf8"/><stop offset="0.181" stop-color="#f7fcf7"/><stop offset="0.211" stop-color="#f7fcf7"/><stop offset="0.241" stop-color="#f9fcf9"/><stop offset="0.272" stop-color="#fafdfa"/><stop offset="0.302" stop-color="#fcfefc"/><stop offset="0.332" stop-color="#fdfefd"/><stop offset="0.333" stop-color="#ffffff"/></linearGradient><linearGradient id="h97" gradientUnits="userSpaceOnUse" x1="407.5" y1="0" x2="672.6" y2="0"><stop offset="0.000" stop-color="#ffffff"/><stop offset="0.030" stop-color="#ffffff"/><stop offset="0.060" stop-color="#ffffff"/><stop offset="0.091" stop-color="#fefffe"/><stop offset="0.121" stop-color="#fbfefb"/><stop offset="0.151" stop-color="#f8fcf8"/><stop offset="0.181" stop-color="#f7fcf7"/><stop offset="0.211" stop-color="#f8fcf8"/><stop offset="0.241" stop-color="#f9fdf9"/><stop offset="0.272" stop-color="#fbfdfb"/><stop offset="0.302" stop-color="#fcfefc"/><stop offset="0.332" stop-color="#fdfefd"/><stop offset="0.333" stop-color="#ffffff"/></linearGradient><linearGradient id="h98" gradientUnits="userSpaceOnUse" x1="407.5" y1="0" x2="672.6" y2="0"><stop offset="0.000" stop-color="#ffffff"/><stop offset="0.030" stop-color="#ffffff"/><stop offset="0.060" stop-color="#ffffff"/><stop offset="0.091" stop-color="#fefffe"/><stop offset="0.121" stop-color="#fcfefc"/><stop offset="0.151" stop-color="#f9fcf9"/><stop offset="0.181" stop-color="#f8fcf8"/><stop offset="0.211" stop-color="#f8fcf8"/><stop offset="0.241" stop-color="#fafdfa"/><stop offset="0.272" stop-color="#fbfdfb"/><stop offset="0.302" stop-color="#fcfefc"/><stop offset="0.332" stop-color="#fdfefd"/><stop offset="0.333" stop-color="#ffffff"/></linearGradient><linearGradient id="h99" gradientUnits="userSpaceOnUse" x1="407.5" y1="0" x2="672.6" y2="0"><stop offset="0.000" stop-color="#ffffff"/><stop offset="0.030" stop-color="#ffffff"/><stop offset="0.060" stop-color="#ffffff"/><stop offset="0.091" stop-color="#fefffe"/><stop offset="0.121" stop-color="#fcfefc"/><stop offset="0.151" stop-color="#f9fdf9"/><stop offset="0.181" stop-color="#f8fcf8"/><stop offset="0.211" stop-color="#f9fcf9"/><stop offset="0.241" stop-color="#fafdfa"/><stop offset="0.272" stop-color="#fbfefb"/><stop offset="0.302" stop-color="#fdfefd"/><stop offset="0.303" stop-color="#ffffff"/></linearGradient><linearGradient id="h100" gradientUnits="userSpaceOnUse" x1="407.5" y1="0" x2="672.6" y2="0"><stop offset="0.000" stop-color="#ffffff"/><stop offset="0.030" stop-color="#ffffff"/><stop offset="0.060" stop-color="#ffffff"/><stop offset="0.091" stop-color="#fefffe"/><stop offset="0.121" stop-color="#fcfefc"/><stop offset="0.151" stop-color="#f9fdf9"/><stop offset="0.181" stop-color="#f8fcf8"/><stop offset="0.211" stop-color="#f9fdf9"/><stop offset="0.241" stop-color="#fafdfa"/><stop offset="0.272" stop-color="#fcfefc"/><stop offset="0.302" stop-color="#fdfefd"/><stop offset="0.303" stop-color="#ffffff"/></linearGradient><linearGradient id="h101" gradientUnits="userSpaceOnUse" x1="407.5" y1="0" x2="672.6" y2="0"><stop offset="0.000" stop-color="#ffffff"/><stop offset="0.030" stop-color="#ffffff"/><stop offset="0.060" stop-color="#ffffff"/><stop offset="0.091" stop-color="#fefffe"/><stop offset="0.121" stop-color="#fdfefd"/><stop offset="0.151" stop-color="#fafdfa"/><stop offset="0.181" stop-color="#f9fdf9"/><stop offset="0.211" stop-color="#fafdfa"/><stop offset="0.241" stop-color="#fbfdfb"/><stop offset="0.272" stop-color="#fcfefc"/><stop offset="0.302" stop-color="#fdfefd"/><stop offset="0.303" stop-color="#ffffff"/></linearGradient><linearGradient id="h102" gradientUnits="userSpaceOnUse" x1="407.5" y1="0" x2="672.6" y2="0"><stop offset="0.000" stop-color="#ffffff"/><stop offset="0.030" stop-color="#ffffff"/><stop offset="0.060" stop-color="#ffffff"/><stop offset="0.091" stop-color="#fefffe"/><stop offset="0.121" stop-color="#fdfefd"/><stop offset="0.151" stop-color="#fafdfa"/><stop offset="0.181" stop-color="#f9fdf9"/><stop offset="0.211" stop-color="#fafdfa"/><stop offset="0.241" stop-color="#fbfdfb"/><stop offset="0.272" stop-color="#fcfefc"/><stop offset="0.302" stop-color="#fdfefd"/><stop offset="0.303" stop-color="#ffffff"/></linearGradient><linearGradient id="h103" gradientUnits="userSpaceOnUse" x1="407.5" y1="0" x2="672.6" y2="0"><stop offset="0.000" stop-color="#ffffff"/><stop offset="0.030" stop-color="#ffffff"/><stop offset="0.060" stop-color="#ffffff"/><stop offset="0.091" stop-color="#ffffff"/><stop offset="0.121" stop-color="#fdfefd"/><stop offset="0.151" stop-color="#fbfdfb"/><stop offset="0.181" stop-color="#fafdfa"/><stop offset="0.211" stop-color="#fafdfa"/><stop offset="0.241" stop-color="#fcfefc"/><stop offset="0.272" stop-color="#fdfefd"/><stop offset="0.273" stop-color="#ffffff"/></linearGradient><linearGradient id="h104" gradientUnits="userSpaceOnUse" x1="407.5" y1="0" x2="672.6" y2="0"><stop offset="0.000" stop-color="#ffffff"/><stop offset="0.030" stop-color="#ffffff"/><stop offset="0.060" stop-color="#ffffff"/><stop offset="0.091" stop-color="#ffffff"/><stop offset="0.121" stop-color="#fdfefd"/><stop offset="0.151" stop-color="#fbfdfb"/><stop offset="0.181" stop-color="#fafdfa"/><stop offset="0.211" stop-color="#fbfdfb"/><stop offset="0.241" stop-color="#fcfefc"/><stop offset="0.272" stop-color="#fdfefd"/><stop offset="0.273" stop-color="#ffffff"/></linearGradient></defs>
<g filter="url(#bl1)"><rect x="407.5" y="5.40" width="265.10" height="1.80" fill="url(#h0)"/><rect x="407.5" y="6.90" width="265.10" height="1.80" fill="url(#h1)"/><rect x="407.5" y="8.40" width="265.10" height="1.80" fill="url(#h2)"/><rect x="407.5" y="9.90" width="265.10" height="1.80" fill="url(#h3)"/><rect x="407.5" y="11.40" width="265.10" height="1.80" fill="url(#h4)"/><rect x="407.5" y="12.90" width="265.10" height="1.80" fill="url(#h5)"/><rect x="407.5" y="14.40" width="265.10" height="1.80" fill="url(#h6)"/><rect x="407.5" y="15.90" width="265.10" height="1.80" fill="url(#h7)"/><rect x="407.5" y="17.40" width="265.10" height="1.80" fill="url(#h8)"/><rect x="407.5" y="18.90" width="265.10" height="1.80" fill="url(#h9)"/><rect x="407.5" y="20.40" width="265.10" height="1.80" fill="url(#h10)"/><rect x="407.5" y="21.90" width="265.10" height="1.80" fill="url(#h11)"/><rect x="407.5" y="23.40" width="265.10" height="1.80" fill="url(#h12)"/><rect x="407.5" y="24.90" width="265.10" height="1.80" fill="url(#h13)"/><rect x="407.5" y="26.40" width="265.10" height="1.80" fill="url(#h14)"/><rect x="407.5" y="27.90" width="265.10" height="1.80" fill="url(#h15)"/><rect x="407.5" y="29.40" width="265.10" height="1.80" fill="url(#h16)"/><rect x="407.5" y="30.90" width="265.10" height="1.80" fill="url(#h17)"/><rect x="407.5" y="32.40" width="265.10" height="1.80" fill="url(#h18)"/><rect x="407.5" y="33.90" width="265.10" height="1.80" fill="url(#h19)"/><rect x="407.5" y="35.40" width="265.10" height="1.80" fill="url(#h20)"/><rect x="407.5" y="36.90" width="265.10" height="1.80" fill="url(#h21)"/><rect x="407.5" y="38.40" width="265.10" height="1.80" fill="url(#h22)"/><rect x="407.5" y="39.90" width="265.10" height="1.80" fill="url(#h23)"/><rect x="407.5" y="41.40" width="265.10" height="1.80" fill="url(#h24)"/><rect x="407.5" y="42.90" width="265.10" height="1.80" fill="url(#h25)"/><rect x="407.5" y="44.40" width="265.10" height="1.80" fill="url(#h26)"/><rect x="407.5" y="45.90" width="265.10" height="1.80" fill="url(#h27)"/><rect x="407.5" y="47.40" width="265.10" height="1.80" fill="url(#h28)"/><rect x="407.5" y="48.90" width="265.10" height="1.80" fill="url(#h29)"/><rect x="407.5" y="50.40" width="265.10" height="1.80" fill="url(#h30)"/><rect x="407.5" y="51.90" width="265.10" height="1.80" fill="url(#h31)"/><rect x="407.5" y="53.40" width="265.10" height="1.80" fill="url(#h32)"/><rect x="407.5" y="54.90" width="265.10" height="1.80" fill="url(#h33)"/><rect x="407.5" y="56.40" width="265.10" height="1.80" fill="url(#h34)"/><rect x="407.5" y="57.90" width="265.10" height="1.80" fill="url(#h35)"/><rect x="407.5" y="59.40" width="265.10" height="1.80" fill="url(#h36)"/><rect x="407.5" y="60.90" width="265.10" height="1.80" fill="url(#h37)"/><rect x="407.5" y="62.40" width="265.10" height="1.80" fill="url(#h38)"/><rect x="407.5" y="63.90" width="265.10" height="1.80" fill="url(#h39)"/><rect x="407.5" y="65.40" width="265.10" height="1.80" fill="url(#h40)"/><rect x="407.5" y="66.90" width="265.10" height="1.80" fill="url(#h41)"/><rect x="407.5" y="68.40" width="265.10" height="1.80" fill="url(#h42)"/><rect x="407.5" y="69.90" width="265.10" height="1.80" fill="url(#h43)"/><rect x="407.5" y="71.40" width="265.10" height="1.80" fill="url(#h44)"/><rect x="407.5" y="72.90" width="265.10" height="1.80" fill="url(#h45)"/><rect x="407.5" y="74.40" width="265.10" height="1.80" fill="url(#h46)"/><rect x="407.5" y="75.90" width="265.10" height="1.80" fill="url(#h47)"/><rect x="407.5" y="77.40" width="265.10" height="1.80" fill="url(#h48)"/><rect x="407.5" y="78.90" width="265.10" height="1.80" fill="url(#h49)"/><rect x="407.5" y="80.40" width="265.10" height="1.80" fill="url(#h50)"/><rect x="407.5" y="81.90" width="265.10" height="1.80" fill="url(#h51)"/><rect x="407.5" y="83.40" width="265.10" height="1.80" fill="url(#h52)"/><rect x="407.5" y="84.90" width="265.10" height="1.80" fill="url(#h53)"/><rect x="407.5" y="86.40" width="265.10" height="1.80" fill="url(#h54)"/><rect x="407.5" y="87.90" width="265.10" height="1.80" fill="url(#h55)"/><rect x="407.5" y="89.40" width="265.10" height="1.80" fill="url(#h56)"/><rect x="407.5" y="90.90" width="265.10" height="1.80" fill="url(#h57)"/><rect x="407.5" y="92.40" width="265.10" height="1.80" fill="url(#h58)"/><rect x="407.5" y="93.90" width="265.10" height="1.80" fill="url(#h59)"/><rect x="407.5" y="95.40" width="265.10" height="1.80" fill="url(#h60)"/><rect x="407.5" y="96.90" width="265.10" height="1.80" fill="url(#h61)"/><rect x="407.5" y="98.40" width="265.10" height="1.80" fill="url(#h62)"/><rect x="407.5" y="99.90" width="265.10" height="1.80" fill="url(#h63)"/><rect x="407.5" y="101.40" width="265.10" height="1.80" fill="url(#h64)"/><rect x="407.5" y="102.90" width="265.10" height="1.80" fill="url(#h65)"/><rect x="407.5" y="104.40" width="265.10" height="1.80" fill="url(#h66)"/><rect x="407.5" y="105.90" width="265.10" height="1.80" fill="url(#h67)"/><rect x="407.5" y="107.40" width="265.10" height="1.80" fill="url(#h68)"/><rect x="407.5" y="108.90" width="265.10" height="1.80" fill="url(#h69)"/><rect x="407.5" y="110.40" width="265.10" height="1.80" fill="url(#h70)"/><rect x="407.5" y="111.90" width="265.10" height="1.80" fill="url(#h71)"/><rect x="407.5" y="113.40" width="265.10" height="1.80" fill="url(#h72)"/><rect x="407.5" y="114.90" width="265.10" height="1.80" fill="url(#h73)"/><rect x="407.5" y="116.40" width="265.10" height="1.80" fill="url(#h74)"/><rect x="407.5" y="117.90" width="265.10" height="1.80" fill="url(#h75)"/><rect x="407.5" y="119.40" width="265.10" height="1.80" fill="url(#h76)"/><rect x="407.5" y="120.90" width="265.10" height="1.80" fill="url(#h77)"/><rect x="407.5" y="122.40" width="265.10" height="1.80" fill="url(#h78)"/><rect x="407.5" y="123.90" width="265.10" height="1.80" fill="url(#h79)"/><rect x="407.5" y="125.40" width="265.10" height="1.80" fill="url(#h80)"/><rect x="407.5" y="126.90" width="265.10" height="1.80" fill="url(#h81)"/><rect x="407.5" y="128.40" width="265.10" height="1.80" fill="url(#h82)"/><rect x="407.5" y="129.90" width="265.10" height="1.80" fill="url(#h83)"/><rect x="407.5" y="131.40" width="265.10" height="1.80" fill="url(#h84)"/><rect x="407.5" y="132.90" width="265.10" height="1.80" fill="url(#h85)"/><rect x="407.5" y="134.40" width="265.10" height="1.80" fill="url(#h86)"/><rect x="407.5" y="135.90" width="265.10" height="1.80" fill="url(#h87)"/><rect x="407.5" y="137.40" width="265.10" height="1.80" fill="url(#h88)"/><rect x="407.5" y="138.90" width="265.10" height="1.80" fill="url(#h89)"/><rect x="407.5" y="140.40" width="265.10" height="1.80" fill="url(#h90)"/><rect x="407.5" y="141.90" width="265.10" height="1.80" fill="url(#h91)"/><rect x="407.5" y="143.40" width="265.10" height="1.80" fill="url(#h92)"/><rect x="407.5" y="144.90" width="265.10" height="1.80" fill="url(#h93)"/><rect x="407.5" y="146.40" width="265.10" height="1.80" fill="url(#h94)"/><rect x="407.5" y="147.90" width="265.10" height="1.80" fill="url(#h95)"/><rect x="407.5" y="149.40" width="265.10" height="1.80" fill="url(#h96)"/><rect x="407.5" y="150.90" width="265.10" height="1.80" fill="url(#h97)"/><rect x="407.5" y="152.40" width="265.10" height="1.80" fill="url(#h98)"/><rect x="407.5" y="153.90" width="265.10" height="1.80" fill="url(#h99)"/><rect x="407.5" y="155.40" width="265.10" height="1.80" fill="url(#h100)"/><rect x="407.5" y="156.90" width="265.10" height="1.80" fill="url(#h101)"/><rect x="407.5" y="158.40" width="265.10" height="1.80" fill="url(#h102)"/><rect x="407.5" y="159.90" width="265.10" height="1.80" fill="url(#h103)"/><rect x="407.5" y="161.40" width="265.10" height="1.80" fill="url(#h104)"/></g>
<path d="M405.5,64.0 L500,64.6 L535,65.7 L556,67.3 L535,68.89999999999999 L500,70.0 L405.5,70.89999999999999 Z" fill="#5fbf52" opacity="0.8" filter="url(#bl1)"/>
<path d="M405.5,64.7 L500,65.0 L532,65.8 L552,67.3 L532,68.8 L500,69.6 L405.5,70.3 Z" fill="#d89038"/>
<path d="M405.5,65.1 L500,65.39999999999999 L530,66.0 L546,67.3 L530,68.6 L500,69.2 L405.5,69.89999999999999 Z" fill="#c83c48"/>
<path d="M405.5,65.5 L505,65.7 L528,66.3 L540,67.3 L528,68.3 L505,68.89999999999999 L405.5,69.5 Z" fill="#3c1850"/>
</g>
<defs><linearGradient id="elg" x1="0" y1="0" x2="1" y2="0"><stop offset="0" stop-color="#dadff2"/><stop offset="0.55" stop-color="#e6e8f5"/><stop offset="1" stop-color="#fbfbfd"/></linearGradient></defs>
<ellipse cx="415.9" cy="139" rx="7.2" ry="22" fill="url(#elg)" stroke="#2c3cb4" stroke-width="1.25" stroke-dasharray="2.4,1.6"/>
<line x1="407.5" y1="68.1" x2="672.6" y2="68.1" stroke="#222" stroke-width="0.8" stroke-dasharray="1.2,1.4"/>
<line x1="408.1" y1="5.4" x2="408.1" y2="162.1" stroke="#666" stroke-width="0.7" stroke-dasharray="1.2,1.4"/>
<rect x="407.5" y="5.4" width="265.10" height="156.70" fill="none" stroke="#7a7a7a" stroke-width="1.0"/>
<line x1="407.50" y1="162.1" x2="407.50" y2="164.6" stroke="#4a4a4a" stroke-width="1"/>
<text transform="translate(408.50,176.00) scale(1.1000,1)" x="0" y="0" font-size="10.4" text-anchor="middle" font-weight="bold" fill="#111">0</text>
<line x1="474.33" y1="162.1" x2="474.33" y2="164.6" stroke="#4a4a4a" stroke-width="1"/>
<text transform="translate(475.33,176.00) scale(1.1000,1)" x="0" y="0" font-size="10.4" text-anchor="middle" font-weight="bold" fill="#111">20</text>
<line x1="541.17" y1="162.1" x2="541.17" y2="164.6" stroke="#4a4a4a" stroke-width="1"/>
<text transform="translate(542.17,176.00) scale(1.1000,1)" x="0" y="0" font-size="10.4" text-anchor="middle" font-weight="bold" fill="#111">40</text>
<line x1="608.00" y1="162.1" x2="608.00" y2="164.6" stroke="#4a4a4a" stroke-width="1"/>
<text transform="translate(609.00,176.00) scale(1.1000,1)" x="0" y="0" font-size="10.4" text-anchor="middle" font-weight="bold" fill="#111">60</text>
<line x1="407.5" y1="162.10" x2="405.0" y2="162.10" stroke="#4a4a4a" stroke-width="1"/>
<text transform="translate(402.40,165.70) scale(1.1000,1)" x="0" y="0" font-size="10.4" text-anchor="end" font-weight="bold" fill="#111">-30</text>
<line x1="407.5" y1="130.76" x2="405.0" y2="130.76" stroke="#4a4a4a" stroke-width="1"/>
<text transform="translate(402.40,134.36) scale(1.1000,1)" x="0" y="0" font-size="10.4" text-anchor="end" font-weight="bold" fill="#111">-20</text>
<line x1="407.5" y1="99.42" x2="405.0" y2="99.42" stroke="#4a4a4a" stroke-width="1"/>
<text transform="translate(402.40,103.02) scale(1.1000,1)" x="0" y="0" font-size="10.4" text-anchor="end" font-weight="bold" fill="#111">-10</text>
<line x1="407.5" y1="68.08" x2="405.0" y2="68.08" stroke="#4a4a4a" stroke-width="1"/>
<text transform="translate(402.40,71.68) scale(1.1000,1)" x="0" y="0" font-size="10.4" text-anchor="end" font-weight="bold" fill="#111">0</text>
<line x1="407.5" y1="36.74" x2="405.0" y2="36.74" stroke="#4a4a4a" stroke-width="1"/>
<text transform="translate(402.40,40.34) scale(1.1000,1)" x="0" y="0" font-size="10.4" text-anchor="end" font-weight="bold" fill="#111">10</text>
<line x1="407.5" y1="5.40" x2="405.0" y2="5.40" stroke="#4a4a4a" stroke-width="1"/>
<text transform="translate(402.40,9.00) scale(1.1000,1)" x="0" y="0" font-size="10.4" text-anchor="end" font-weight="bold" fill="#111">20</text>
<text transform="translate(421.70,22.60) scale(1.0598,1)" x="-0.64" y="0" font-size="14.2" font-weight="bold" fill="#111">(b)</text>
<defs><linearGradient id="cbar" x1="0" y1="1" x2="0" y2="0"><stop offset="0.0000" stop-color="#a8a8d8"/><stop offset="0.0340" stop-color="#d0d0ec"/><stop offset="0.0604" stop-color="#f4f4fa"/><stop offset="0.0830" stop-color="#ffffff"/><stop offset="0.1057" stop-color="#e0f4e0"/><stop offset="0.1185" stop-color="#a8dca8"/><stop offset="0.1396" stop-color="#60c050"/><stop offset="0.1585" stop-color="#a0cc40"/><stop offset="0.1887" stop-color="#c8c838"/><stop offset="0.2189" stop-color="#c89a38"/><stop offset="0.2415" stop-color="#d06838"/><stop offset="0.2868" stop-color="#d04040"/><stop offset="0.3321" stop-color="#c04860"/><stop offset="0.3849" stop-color="#b04a70"/><stop offset="0.4302" stop-color="#a8507c"/><stop offset="0.4679" stop-color="#9a5090"/><stop offset="0.5434" stop-color="#8a5098"/><stop offset="0.6113" stop-color="#6c3c80"/><stop offset="0.6868" stop-color="#603070"/><stop offset="0.7472" stop-color="#5a2070"/><stop offset="0.8000" stop-color="#4a1e62"/><stop offset="0.9132" stop-color="#3a1c4a"/><stop offset="1.0000" stop-color="#2a1a3a"/></linearGradient></defs>
<rect x="643.2" y="89" width="10.6" height="69" fill="url(#cbar)" stroke="#555" stroke-width="0.6"/>
<line x1="641" y1="152.2" x2="643.2" y2="152.2" stroke="#333" stroke-width="0.8"/>
<text transform="translate(640.60,154.80) scale(1.0500,1)" x="0" y="0" font-size="7.4" text-anchor="end" font-weight="bold" fill="#111">0</text>
<line x1="641" y1="131.4" x2="643.2" y2="131.4" stroke="#333" stroke-width="0.8"/>
<text transform="translate(640.60,134.00) scale(1.0500,1)" x="0" y="0" font-size="7.4" text-anchor="end" font-weight="bold" fill="#111">4</text>
<line x1="641" y1="110.6" x2="643.2" y2="110.6" stroke="#333" stroke-width="0.8"/>
<text transform="translate(640.60,113.20) scale(1.0500,1)" x="0" y="0" font-size="7.4" text-anchor="end" font-weight="bold" fill="#111">8</text>
<line x1="641" y1="89.8" x2="643.2" y2="89.8" stroke="#333" stroke-width="0.8"/>
<text transform="translate(640.60,92.40) scale(1.0500,1)" x="0" y="0" font-size="7.4" text-anchor="end" font-weight="bold" fill="#111">12</text>
<text transform="translate(666.20,151.50) rotate(-90) scale(1.0364,1)" x="-0.24" y="0" font-size="9.6" font-weight="bold" fill="#111">Am<tspan font-size="5.5" dy="-3.5">2</tspan><tspan dy="3.5"> T</tspan><tspan font-size="5.5" dy="-3.5">-2</tspan><tspan dy="3.5" font-weight="normal"> (×10</tspan><tspan font-size="5.5" dy="-3.5" font-weight="normal">3</tspan><tspan dy="3.5" font-weight="normal">)</tspan></text>
<text transform="translate(516.80,193.30) scale(1.0724,1)" x="-0.80" y="0" font-size="12.3" font-weight="bold" fill="#111"><tspan font-style="italic">B</tspan><tspan font-size="6.3" dy="2.6" font-style="italic">c</tspan><tspan dy="-2.6"> (mT)</tspan></text>
<text transform="translate(373.50,105.00) rotate(-90) scale(1.0804,1)" x="-0.80" y="0" font-size="12.3" font-weight="bold" fill="#111"><tspan font-style="italic">B</tspan><tspan font-size="6.3" dy="2.6" font-style="italic">u</tspan><tspan dy="-2.6"> (mT)</tspan></text>
<path d="M50.80,256.80 C50.80,255.20 50.73,250.38 50.80,247.20 C50.87,244.02 50.90,240.87 51.20,237.70 C51.50,234.53 52.12,230.98 52.60,228.20 C53.08,225.42 53.60,222.58 54.10,221.00 C54.60,219.42 54.95,218.30 55.60,218.70 C56.25,219.10 57.20,221.22 58.00,223.40 C58.80,225.58 59.52,228.82 60.40,231.80 C61.28,234.78 62.22,238.33 63.30,241.30 C64.38,244.27 65.50,247.22 66.90,249.60 C68.30,251.98 69.72,253.82 71.70,255.60 C73.68,257.38 76.03,258.92 78.80,260.30 C81.57,261.68 84.36,262.90 88.30,263.90 C92.24,264.90 95.49,265.68 102.44,266.30 C109.39,266.92 117.07,267.15 130.00,267.60 C142.93,268.05 163.33,268.67 180.00,269.00 C196.67,269.33 217.20,269.47 230.00,269.60 C242.80,269.73 247.52,269.73 256.80,269.80 C266.08,269.87 280.17,270.07 285.70,270.00 C291.23,269.93 288.07,270.37 290.00,269.40 C291.93,268.43 296.08,265.07 297.30,264.20" fill="none" stroke="#4a66c4" stroke-width="2" stroke-dasharray="3.6,2.2"/>
<path d="M50.50,237.70 C50.62,235.72 50.85,229.17 51.20,225.80 C51.55,222.43 52.12,219.63 52.60,217.50 C53.08,215.37 53.60,214.00 54.10,213.00 C54.60,212.00 54.95,211.15 55.60,211.50 C56.25,211.85 57.30,213.52 58.00,215.10 C58.70,216.68 59.12,218.62 59.80,221.00 C60.48,223.38 61.22,226.62 62.10,229.40 C62.98,232.18 63.90,234.93 65.10,237.70 C66.30,240.47 67.62,243.62 69.30,246.00 C70.98,248.38 73.02,250.20 75.20,252.00 C77.38,253.80 79.82,255.62 82.40,256.80 C84.98,257.98 87.36,258.32 90.70,259.10 C94.04,259.88 96.42,260.65 102.44,261.50 C108.46,262.35 113.87,263.45 126.80,264.20 C139.73,264.95 162.80,265.43 180.00,266.00 C197.20,266.57 217.20,267.18 230.00,267.60 C242.80,268.02 247.03,268.30 256.80,268.50 C266.57,268.70 283.30,268.75 288.60,268.80" fill="none" stroke="#dcb22e" stroke-width="2" stroke-dasharray="3.6,2.2"/>
<path d="M50.00,277.16 L54.25,284.46 L58.50,291.60 L62.75,296.52 L67.00,300.49 L71.25,302.47 L75.50,304.45 L79.75,305.72 L84.00,307.63 L88.25,308.79 L92.50,309.96 L96.75,311.12 L101.00,312.28 L105.25,313.45 L109.50,314.61 L113.75,315.45 L118.00,316.29 L122.25,317.13 L126.50,317.97 L130.75,318.81 L135.00,319.65 L139.25,320.47 L143.50,321.19 L147.75,321.92 L152.00,322.64 L156.25,323.37 L160.50,324.09 L164.75,324.82 L169.00,325.54 L173.25,326.27 L177.50,326.99 L181.75,327.61 L186.00,328.22 L190.25,328.84 L194.50,329.46 L198.75,330.08 L203.00,330.73 L207.25,331.40 L211.50,332.07 L215.75,332.76 L220.00,333.44 L224.25,334.13 L228.50,334.82 L232.75,335.50 L237.00,336.19 L241.25,336.88 L245.50,337.56 L249.75,338.25 L254.00,338.94 L258.25,339.66 L262.50,340.40 L266.75,341.14 L271.00,341.89 L275.25,342.63 L279.50,343.38 L283.75,344.12 L288.00,344.86 L292.25,345.61 L296.50,346.35" fill="none" stroke="#5b70c8" stroke-width="1.1"/>
<circle cx="50.00" cy="277.16" r="2.55" fill="#8a9ad8" stroke="#6a7cc8" stroke-width="0.85"/>
<circle cx="54.25" cy="284.46" r="2.55" fill="#8a9ad8" stroke="#6a7cc8" stroke-width="0.85"/>
<circle cx="58.50" cy="291.60" r="2.55" fill="#8a9ad8" stroke="#6a7cc8" stroke-width="0.85"/>
<circle cx="62.75" cy="296.52" r="2.55" fill="#8a9ad8" stroke="#6a7cc8" stroke-width="0.85"/>
<circle cx="67.00" cy="300.49" r="2.55" fill="#8a9ad8" stroke="#6a7cc8" stroke-width="0.85"/>
<circle cx="71.25" cy="302.47" r="2.55" fill="#8a9ad8" stroke="#6a7cc8" stroke-width="0.85"/>
<circle cx="75.50" cy="304.45" r="2.55" fill="#8a9ad8" stroke="#6a7cc8" stroke-width="0.85"/>
<circle cx="79.75" cy="305.72" r="2.55" fill="#8a9ad8" stroke="#6a7cc8" stroke-width="0.85"/>
<circle cx="84.00" cy="307.63" r="2.55" fill="#8a9ad8" stroke="#6a7cc8" stroke-width="0.85"/>
<circle cx="88.25" cy="308.79" r="2.55" fill="#8a9ad8" stroke="#6a7cc8" stroke-width="0.85"/>
<circle cx="92.50" cy="309.96" r="2.55" fill="#8a9ad8" stroke="#6a7cc8" stroke-width="0.85"/>
<circle cx="96.75" cy="311.12" r="2.55" fill="#8a9ad8" stroke="#6a7cc8" stroke-width="0.85"/>
<circle cx="101.00" cy="312.28" r="2.55" fill="#8a9ad8" stroke="#6a7cc8" stroke-width="0.85"/>
<circle cx="105.25" cy="313.45" r="2.55" fill="#8a9ad8" stroke="#6a7cc8" stroke-width="0.85"/>
<circle cx="109.50" cy="314.61" r="2.55" fill="#8a9ad8" stroke="#6a7cc8" stroke-width="0.85"/>
<circle cx="113.75" cy="315.45" r="2.55" fill="#8a9ad8" stroke="#6a7cc8" stroke-width="0.85"/>
<circle cx="118.00" cy="316.29" r="2.55" fill="#8a9ad8" stroke="#6a7cc8" stroke-width="0.85"/>
<circle cx="122.25" cy="317.13" r="2.55" fill="#8a9ad8" stroke="#6a7cc8" stroke-width="0.85"/>
<circle cx="126.50" cy="317.97" r="2.55" fill="#8a9ad8" stroke="#6a7cc8" stroke-width="0.85"/>
<circle cx="130.75" cy="318.81" r="2.55" fill="#8a9ad8" stroke="#6a7cc8" stroke-width="0.85"/>
<circle cx="135.00" cy="319.65" r="2.55" fill="#8a9ad8" stroke="#6a7cc8" stroke-width="0.85"/>
<circle cx="139.25" cy="320.47" r="2.55" fill="#8a9ad8" stroke="#6a7cc8" stroke-width="0.85"/>
<circle cx="143.50" cy="321.19" r="2.55" fill="#8a9ad8" stroke="#6a7cc8" stroke-width="0.85"/>
<circle cx="147.75" cy="321.92" r="2.55" fill="#8a9ad8" stroke="#6a7cc8" stroke-width="0.85"/>
<circle cx="152.00" cy="322.64" r="2.55" fill="#8a9ad8" stroke="#6a7cc8" stroke-width="0.85"/>
<circle cx="156.25" cy="323.37" r="2.55" fill="#8a9ad8" stroke="#6a7cc8" stroke-width="0.85"/>
<circle cx="160.50" cy="324.09" r="2.55" fill="#8a9ad8" stroke="#6a7cc8" stroke-width="0.85"/>
<circle cx="164.75" cy="324.82" r="2.55" fill="#8a9ad8" stroke="#6a7cc8" stroke-width="0.85"/>
<circle cx="169.00" cy="325.54" r="2.55" fill="#8a9ad8" stroke="#6a7cc8" stroke-width="0.85"/>
<circle cx="173.25" cy="326.27" r="2.55" fill="#8a9ad8" stroke="#6a7cc8" stroke-width="0.85"/>
<circle cx="177.50" cy="326.99" r="2.55" fill="#8a9ad8" stroke="#6a7cc8" stroke-width="0.85"/>
<circle cx="181.75" cy="327.61" r="2.55" fill="#8a9ad8" stroke="#6a7cc8" stroke-width="0.85"/>
<circle cx="186.00" cy="328.22" r="2.55" fill="#8a9ad8" stroke="#6a7cc8" stroke-width="0.85"/>
<circle cx="190.25" cy="328.84" r="2.55" fill="#8a9ad8" stroke="#6a7cc8" stroke-width="0.85"/>
<circle cx="194.50" cy="329.46" r="2.55" fill="#8a9ad8" stroke="#6a7cc8" stroke-width="0.85"/>
<circle cx="198.75" cy="330.08" r="2.55" fill="#8a9ad8" stroke="#6a7cc8" stroke-width="0.85"/>
<circle cx="203.00" cy="330.73" r="2.55" fill="#8a9ad8" stroke="#6a7cc8" stroke-width="0.85"/>
<circle cx="207.25" cy="331.40" r="2.55" fill="#8a9ad8" stroke="#6a7cc8" stroke-width="0.85"/>
<circle cx="211.50" cy="332.07" r="2.55" fill="#8a9ad8" stroke="#6a7cc8" stroke-width="0.85"/>
<circle cx="215.75" cy="332.76" r="2.55" fill="#8a9ad8" stroke="#6a7cc8" stroke-width="0.85"/>
<circle cx="220.00" cy="333.44" r="2.55" fill="#8a9ad8" stroke="#6a7cc8" stroke-width="0.85"/>
<circle cx="224.25" cy="334.13" r="2.55" fill="#8a9ad8" stroke="#6a7cc8" stroke-width="0.85"/>
<circle cx="228.50" cy="334.82" r="2.55" fill="#8a9ad8" stroke="#6a7cc8" stroke-width="0.85"/>
<circle cx="232.75" cy="335.50" r="2.55" fill="#8a9ad8" stroke="#6a7cc8" stroke-width="0.85"/>
<circle cx="237.00" cy="336.19" r="2.55" fill="#8a9ad8" stroke="#6a7cc8" stroke-width="0.85"/>
<circle cx="241.25" cy="336.88" r="2.55" fill="#8a9ad8" stroke="#6a7cc8" stroke-width="0.85"/>
<circle cx="245.50" cy="337.56" r="2.55" fill="#8a9ad8" stroke="#6a7cc8" stroke-width="0.85"/>
<circle cx="249.75" cy="338.25" r="2.55" fill="#8a9ad8" stroke="#6a7cc8" stroke-width="0.85"/>
<circle cx="254.00" cy="338.94" r="2.55" fill="#8a9ad8" stroke="#6a7cc8" stroke-width="0.85"/>
<circle cx="258.25" cy="339.66" r="2.55" fill="#8a9ad8" stroke="#6a7cc8" stroke-width="0.85"/>
<circle cx="262.50" cy="340.40" r="2.55" fill="#8a9ad8" stroke="#6a7cc8" stroke-width="0.85"/>
<circle cx="266.75" cy="341.14" r="2.55" fill="#8a9ad8" stroke="#6a7cc8" stroke-width="0.85"/>
<circle cx="271.00" cy="341.89" r="2.55" fill="#8a9ad8" stroke="#6a7cc8" stroke-width="0.85"/>
<circle cx="275.25" cy="342.63" r="2.55" fill="#8a9ad8" stroke="#6a7cc8" stroke-width="0.85"/>
<circle cx="279.50" cy="343.38" r="2.55" fill="#8a9ad8" stroke="#6a7cc8" stroke-width="0.85"/>
<circle cx="283.75" cy="344.12" r="2.55" fill="#8a9ad8" stroke="#6a7cc8" stroke-width="0.85"/>
<circle cx="288.00" cy="344.86" r="2.55" fill="#8a9ad8" stroke="#6a7cc8" stroke-width="0.85"/>
<circle cx="292.25" cy="345.61" r="2.55" fill="#8a9ad8" stroke="#6a7cc8" stroke-width="0.85"/>
<circle cx="296.50" cy="346.35" r="2.55" fill="#8a9ad8" stroke="#6a7cc8" stroke-width="0.85"/>
<path d="M50.00,249.54 L54.25,257.64 L58.50,266.37 L62.75,272.08 L67.00,277.16 L71.25,280.02 L75.50,282.87 L79.75,286.68 L84.00,289.94 L88.25,292.83 L92.50,294.24 L96.75,295.64 L101.00,297.04 L105.25,298.45 L109.50,299.85 L113.75,301.14 L118.00,302.42 L122.25,303.70 L126.50,304.99 L130.75,306.27 L135.00,307.55 L139.25,308.82 L143.50,310.03 L147.75,311.24 L152.00,312.45 L156.25,313.65 L160.50,314.86 L164.75,316.07 L169.00,317.28 L173.25,318.48 L177.50,319.69 L181.75,320.81 L186.00,321.92 L190.25,323.04 L194.50,324.16 L198.75,325.27 L203.00,326.20 L207.25,326.99 L211.50,327.78 L215.75,328.73 L220.00,329.68 L224.25,330.62 L228.50,331.57 L232.75,332.51 L237.00,333.46 L241.25,334.41 L245.50,335.35 L249.75,336.30 L254.00,337.24 L258.25,338.07 L262.50,338.83 L266.75,339.58 L271.00,340.33 L275.25,341.08 L279.50,341.83 L283.75,342.58 L288.00,343.34" fill="none" stroke="#e8a23c" stroke-width="1.1"/>
<circle cx="50.00" cy="249.54" r="2.55" fill="#fbf3dc" stroke="#e8a844" stroke-width="0.85"/>
<circle cx="54.25" cy="257.64" r="2.55" fill="#eedc98" stroke="#e8a844" stroke-width="0.85"/>
<circle cx="58.50" cy="266.37" r="2.55" fill="#eedc98" stroke="#e8a844" stroke-width="0.85"/>
<circle cx="62.75" cy="272.08" r="2.55" fill="#eedc98" stroke="#e8a844" stroke-width="0.85"/>
<circle cx="67.00" cy="277.16" r="2.55" fill="#eedc98" stroke="#e8a844" stroke-width="0.85"/>
<circle cx="71.25" cy="280.02" r="2.55" fill="#eedc98" stroke="#e8a844" stroke-width="0.85"/>
<circle cx="75.50" cy="282.87" r="2.55" fill="#eedc98" stroke="#e8a844" stroke-width="0.85"/>
<circle cx="79.75" cy="286.68" r="2.55" fill="#eedc98" stroke="#e8a844" stroke-width="0.85"/>
<circle cx="84.00" cy="289.94" r="2.55" fill="#eedc98" stroke="#e8a844" stroke-width="0.85"/>
<circle cx="88.25" cy="292.83" r="2.55" fill="#eedc98" stroke="#e8a844" stroke-width="0.85"/>
<circle cx="92.50" cy="294.24" r="2.55" fill="#eedc98" stroke="#e8a844" stroke-width="0.85"/>
<circle cx="96.75" cy="295.64" r="2.55" fill="#eedc98" stroke="#e8a844" stroke-width="0.85"/>
<circle cx="101.00" cy="297.04" r="2.55" fill="#eedc98" stroke="#e8a844" stroke-width="0.85"/>
<circle cx="105.25" cy="298.45" r="2.55" fill="#eedc98" stroke="#e8a844" stroke-width="0.85"/>
<circle cx="109.50" cy="299.85" r="2.55" fill="#eedc98" stroke="#e8a844" stroke-width="0.85"/>
<circle cx="113.75" cy="301.14" r="2.55" fill="#eedc98" stroke="#e8a844" stroke-width="0.85"/>
<circle cx="118.00" cy="302.42" r="2.55" fill="#eedc98" stroke="#e8a844" stroke-width="0.85"/>
<circle cx="122.25" cy="303.70" r="2.55" fill="#eedc98" stroke="#e8a844" stroke-width="0.85"/>
<circle cx="126.50" cy="304.99" r="2.55" fill="#eedc98" stroke="#e8a844" stroke-width="0.85"/>
<circle cx="130.75" cy="306.27" r="2.55" fill="#eedc98" stroke="#e8a844" stroke-width="0.85"/>
<circle cx="135.00" cy="307.55" r="2.55" fill="#eedc98" stroke="#e8a844" stroke-width="0.85"/>
<circle cx="139.25" cy="308.82" r="2.55" fill="#eedc98" stroke="#e8a844" stroke-width="0.85"/>
<circle cx="143.50" cy="310.03" r="2.55" fill="#eedc98" stroke="#e8a844" stroke-width="0.85"/>
<circle cx="147.75" cy="311.24" r="2.55" fill="#eedc98" stroke="#e8a844" stroke-width="0.85"/>
<circle cx="152.00" cy="312.45" r="2.55" fill="#eedc98" stroke="#e8a844" stroke-width="0.85"/>
<circle cx="156.25" cy="313.65" r="2.55" fill="#eedc98" stroke="#e8a844" stroke-width="0.85"/>
<circle cx="160.50" cy="314.86" r="2.55" fill="#eedc98" stroke="#e8a844" stroke-width="0.85"/>
<circle cx="164.75" cy="316.07" r="2.55" fill="#eedc98" stroke="#e8a844" stroke-width="0.85"/>
<circle cx="169.00" cy="317.28" r="2.55" fill="#eedc98" stroke="#e8a844" stroke-width="0.85"/>
<circle cx="173.25" cy="318.48" r="2.55" fill="#eedc98" stroke="#e8a844" stroke-width="0.85"/>
<circle cx="177.50" cy="319.69" r="2.55" fill="#eedc98" stroke="#e8a844" stroke-width="0.85"/>
<circle cx="181.75" cy="320.81" r="2.55" fill="#eedc98" stroke="#e8a844" stroke-width="0.85"/>
<circle cx="186.00" cy="321.92" r="2.55" fill="#eedc98" stroke="#e8a844" stroke-width="0.85"/>
<circle cx="190.25" cy="323.04" r="2.55" fill="#eedc98" stroke="#e8a844" stroke-width="0.85"/>
<circle cx="194.50" cy="324.16" r="2.55" fill="#eedc98" stroke="#e8a844" stroke-width="0.85"/>
<circle cx="198.75" cy="325.27" r="2.55" fill="#eedc98" stroke="#e8a844" stroke-width="0.85"/>
<circle cx="203.00" cy="326.20" r="2.55" fill="#eedc98" stroke="#e8a844" stroke-width="0.85"/>
<circle cx="207.25" cy="326.99" r="2.55" fill="#eedc98" stroke="#e8a844" stroke-width="0.85"/>
<circle cx="211.50" cy="327.78" r="2.55" fill="#eedc98" stroke="#e8a844" stroke-width="0.85"/>
<circle cx="215.75" cy="328.73" r="2.55" fill="#eedc98" stroke="#e8a844" stroke-width="0.85"/>
<circle cx="220.00" cy="329.68" r="2.55" fill="#eedc98" stroke="#e8a844" stroke-width="0.85"/>
<circle cx="224.25" cy="330.62" r="2.55" fill="#eedc98" stroke="#e8a844" stroke-width="0.85"/>
<circle cx="228.50" cy="331.57" r="2.55" fill="#eedc98" stroke="#e8a844" stroke-width="0.85"/>
<circle cx="232.75" cy="332.51" r="2.55" fill="#eedc98" stroke="#e8a844" stroke-width="0.85"/>
<circle cx="237.00" cy="333.46" r="2.55" fill="#eedc98" stroke="#e8a844" stroke-width="0.85"/>
<circle cx="241.25" cy="334.41" r="2.55" fill="#eedc98" stroke="#e8a844" stroke-width="0.85"/>
<circle cx="245.50" cy="335.35" r="2.55" fill="#eedc98" stroke="#e8a844" stroke-width="0.85"/>
<circle cx="249.75" cy="336.30" r="2.55" fill="#eedc98" stroke="#e8a844" stroke-width="0.85"/>
<circle cx="254.00" cy="337.24" r="2.55" fill="#eedc98" stroke="#e8a844" stroke-width="0.85"/>
<circle cx="258.25" cy="338.07" r="2.55" fill="#eedc98" stroke="#e8a844" stroke-width="0.85"/>
<circle cx="262.50" cy="338.83" r="2.55" fill="#eedc98" stroke="#e8a844" stroke-width="0.85"/>
<circle cx="266.75" cy="339.58" r="2.55" fill="#eedc98" stroke="#e8a844" stroke-width="0.85"/>
<circle cx="271.00" cy="340.33" r="2.55" fill="#eedc98" stroke="#e8a844" stroke-width="0.85"/>
<circle cx="275.25" cy="341.08" r="2.55" fill="#eedc98" stroke="#e8a844" stroke-width="0.85"/>
<circle cx="279.50" cy="341.83" r="2.55" fill="#eedc98" stroke="#e8a844" stroke-width="0.85"/>
<circle cx="283.75" cy="342.58" r="2.55" fill="#eedc98" stroke="#e8a844" stroke-width="0.85"/>
<circle cx="288.00" cy="343.34" r="2.55" fill="#eedc98" stroke="#e8a844" stroke-width="0.85"/>
<path d="M41.5,201.0 H305.3 V360.2" fill="none" stroke="#9a9a9a" stroke-width="1.2"/>
<path d="M41.5,201.0 V360.2 H305.3" fill="none" stroke="#3a3a3a" stroke-width="1"/>
<line x1="41.50" y1="360.2" x2="41.50" y2="362.7" stroke="#3a3a3a" stroke-width="1"/>
<text transform="translate(42.70,375.90) scale(1.1000,1)" x="0" y="0" font-size="10.4" text-anchor="middle" font-weight="bold" fill="#111">0</text>
<line x1="84.00" y1="360.2" x2="84.00" y2="362.7" stroke="#3a3a3a" stroke-width="1"/>
<text transform="translate(85.20,375.90) scale(1.1000,1)" x="0" y="0" font-size="10.4" text-anchor="middle" font-weight="bold" fill="#111">50</text>
<line x1="126.50" y1="360.2" x2="126.50" y2="362.7" stroke="#3a3a3a" stroke-width="1"/>
<text transform="translate(127.70,375.90) scale(1.1000,1)" x="0" y="0" font-size="10.4" text-anchor="middle" font-weight="bold" fill="#111">100</text>
<line x1="169.00" y1="360.2" x2="169.00" y2="362.7" stroke="#3a3a3a" stroke-width="1"/>
<text transform="translate(170.20,375.90) scale(1.1000,1)" x="0" y="0" font-size="10.4" text-anchor="middle" font-weight="bold" fill="#111">150</text>
<line x1="211.50" y1="360.2" x2="211.50" y2="362.7" stroke="#3a3a3a" stroke-width="1"/>
<text transform="translate(212.70,375.90) scale(1.1000,1)" x="0" y="0" font-size="10.4" text-anchor="middle" font-weight="bold" fill="#111">200</text>
<line x1="254.00" y1="360.2" x2="254.00" y2="362.7" stroke="#3a3a3a" stroke-width="1"/>
<text transform="translate(255.20,375.90) scale(1.1000,1)" x="0" y="0" font-size="10.4" text-anchor="middle" font-weight="bold" fill="#111">250</text>
<line x1="296.50" y1="360.2" x2="296.50" y2="362.7" stroke="#3a3a3a" stroke-width="1"/>
<text transform="translate(297.70,375.90) scale(1.1000,1)" x="0" y="0" font-size="10.4" text-anchor="middle" font-weight="bold" fill="#111">300</text>
<line x1="41.5" y1="360.00" x2="39.0" y2="360.00" stroke="#3a3a3a" stroke-width="1"/>
<text transform="translate(36.40,363.70) scale(1.1000,1)" x="0" y="0" font-size="10.4" text-anchor="end" font-weight="bold" fill="#111">0.3</text>
<line x1="41.5" y1="328.26" x2="39.0" y2="328.26" stroke="#3a3a3a" stroke-width="1"/>
<text transform="translate(36.40,331.96) scale(1.1000,1)" x="0" y="0" font-size="10.4" text-anchor="end" font-weight="bold" fill="#111">0.5</text>
<line x1="41.5" y1="296.52" x2="39.0" y2="296.52" stroke="#3a3a3a" stroke-width="1"/>
<text transform="translate(36.40,300.22) scale(1.1000,1)" x="0" y="0" font-size="10.4" text-anchor="end" font-weight="bold" fill="#111">0.7</text>
<line x1="41.5" y1="264.78" x2="39.0" y2="264.78" stroke="#3a3a3a" stroke-width="1"/>
<text transform="translate(36.40,268.48) scale(1.1000,1)" x="0" y="0" font-size="10.4" text-anchor="end" font-weight="bold" fill="#111">0.9</text>
<line x1="41.5" y1="233.04" x2="39.0" y2="233.04" stroke="#3a3a3a" stroke-width="1"/>
<text transform="translate(36.40,236.74) scale(1.1000,1)" x="0" y="0" font-size="10.4" text-anchor="end" font-weight="bold" fill="#111">1.1</text>
<line x1="41.5" y1="201.30" x2="39.0" y2="201.30" stroke="#3a3a3a" stroke-width="1"/>
<text transform="translate(36.40,205.00) scale(1.1000,1)" x="0" y="0" font-size="10.4" text-anchor="end" font-weight="bold" fill="#111">1.3</text>
<line x1="305.3" y1="212.80" x2="307.8" y2="212.80" stroke="#3a3a3a" stroke-width="1"/>
<line x1="305.3" y1="261.87" x2="307.8" y2="261.87" stroke="#3a3a3a" stroke-width="1"/>
<line x1="305.3" y1="310.93" x2="307.8" y2="310.93" stroke="#3a3a3a" stroke-width="1"/>
<line x1="305.3" y1="360.00" x2="307.8" y2="360.00" stroke="#3a3a3a" stroke-width="1"/>
<text transform="translate(329.60,216.50) scale(1.1000,1)" x="0" y="0" font-size="10.4" text-anchor="end" font-weight="bold" fill="#111">1.0</text>
<text transform="translate(329.60,265.57) scale(1.1000,1)" x="0" y="0" font-size="10.4" text-anchor="end" font-weight="bold" fill="#111">0.2</text>
<text transform="translate(329.60,314.63) scale(1.1000,1)" x="0" y="0" font-size="10.4" text-anchor="end" font-weight="bold" fill="#111">-0.6</text>
<text transform="translate(329.60,363.70) scale(1.1000,1)" x="0" y="0" font-size="10.4" text-anchor="end" font-weight="bold" fill="#111">-1.4</text>
<text transform="translate(64.40,219.00) scale(1.0299,1)" x="-0.64" y="0" font-size="14.2" font-weight="bold" fill="#111">(c)</text>
<line x1="145.3" y1="282.6" x2="161" y2="282.6" stroke="#3a52b8" stroke-width="2" stroke-dasharray="3.6,2.1"/>
<line x1="145.3" y1="298.9" x2="161" y2="298.9" stroke="#e0a838" stroke-width="2" stroke-dasharray="3.6,2.1"/>
<text transform="translate(165.70,285.60) scale(1.0816,1)" x="-0.37" y="0" font-size="10.6" font-weight="bold" fill="#111">- First derivative of ZFC</text>
<text transform="translate(165.70,301.40) scale(1.0815,1)" x="-0.37" y="0" font-size="10.6" font-weight="bold" fill="#111">- First derivative of FC</text>
<circle cx="211.5" cy="313.2" r="3.5" fill="#8a98d8" stroke="#8090d0" stroke-width="0.5"/>
<circle cx="261" cy="313.1" r="3.5" fill="#eedc98" stroke="#e8b860" stroke-width="0.5"/>
<text transform="translate(223.00,316.40) scale(1.0119,1)" x="-0.27" y="0" font-size="10.6" font-weight="bold" fill="#111">ZFC</text>
<text transform="translate(273.00,316.40) scale(0.9784,1)" x="-0.69" y="0" font-size="10.6" font-weight="bold" fill="#111">FC</text>
<text transform="translate(121.80,391.10) scale(1.0542,1)" x="-0.13" y="0" font-size="12.6" font-weight="bold" fill="#111">Temperature (K)</text>
<text transform="translate(11.80,334.30) rotate(-90) scale(1.0600,1)" x="-0.82" y="0" font-size="12.6" font-weight="bold" fill="#111"><tspan font-style="italic">M</tspan><tspan font-size="7" dy="2.2">SIRM</tspan><tspan dy="-2.2"> </tspan><tspan font-style="italic">M</tspan><tspan font-size="7" dy="2.2">SIRM(10K)</tspan><tspan font-size="7" dy="-8.4">-1</tspan><tspan dy="6.2"> (%)</tspan></text>
<text transform="translate(346.20,353.40) rotate(-90) scale(1.0613,1)" x="-0.45" y="0" font-size="12.8" font-weight="bold" fill="#111">- First derivative <tspan font-weight="normal">(×10</tspan><tspan font-weight="normal" font-size="7.5" dy="-5">2</tspan><tspan font-weight="normal" dy="5">)</tspan></text>
<line x1="407.6" y1="279.55" x2="673.2" y2="279.55" stroke="#555" stroke-width="0.9"/>
<line x1="540.25" y1="201.0" x2="540.25" y2="358.3" stroke="#555" stroke-width="0.9"/>
<path d="M408.34,351.86 L409.22,351.80 L410.10,351.75 L410.99,351.69 L411.87,351.64 L412.75,351.58 L413.63,351.53 L414.52,351.47 L415.40,351.42 L416.28,351.36 L417.16,351.30 L418.05,351.25 L418.93,351.19 L419.81,351.14 L420.69,351.08 L421.58,351.02 L422.46,350.97 L423.34,350.91 L424.22,350.85 L425.11,350.80 L425.99,350.74 L426.87,350.68 L427.75,350.63 L428.64,350.57 L429.52,350.51 L430.40,350.45 L431.28,350.39 L432.16,350.33 L433.05,350.28 L433.93,350.22 L434.81,350.16 L435.69,350.10 L436.58,350.04 L437.46,349.98 L438.34,349.91 L439.22,349.85 L440.11,349.79 L440.99,349.73 L441.87,349.66 L442.75,349.60 L443.64,349.54 L444.52,349.47 L445.40,349.41 L446.28,349.34 L447.17,349.27 L448.05,349.21 L448.93,349.14 L449.81,349.07 L450.70,349.00 L451.58,348.93 L452.46,348.85 L453.34,348.78 L454.22,348.71 L455.11,348.63 L455.99,348.55 L456.87,348.47 L457.75,348.39 L458.64,348.31 L459.52,348.23 L460.40,348.14 L461.28,348.06 L462.17,347.97 L463.05,347.88 L463.93,347.78 L464.81,347.69 L465.70,347.59 L466.58,347.49 L467.46,347.39 L468.34,347.28 L469.23,347.17 L470.11,347.06 L470.99,346.94 L471.87,346.82 L472.76,346.70 L473.64,346.57 L474.52,346.43 L475.40,346.30 L476.28,346.16 L477.17,346.01 L478.05,345.85 L478.93,345.70 L479.81,345.53 L480.70,345.36 L481.58,345.18 L482.46,345.00 L483.34,344.80 L484.23,344.60 L485.11,344.39 L485.99,344.17 L486.87,343.95 L487.76,343.71 L488.64,343.46 L489.52,343.20 L490.40,342.93 L491.29,342.65 L492.17,342.35 L493.05,342.04 L493.93,341.72 L494.82,341.38 L495.70,341.03 L496.58,340.66 L497.46,340.28 L498.34,339.87 L499.23,339.45 L500.11,339.01 L500.99,338.55 L501.87,338.07 L502.76,337.56 L503.64,337.04 L504.52,336.49 L505.40,335.91 L506.29,335.32 L507.17,334.69 L508.05,334.04 L508.93,333.36 L509.82,332.65 L510.70,331.91 L511.58,331.14 L512.46,330.34 L513.35,329.51 L514.23,328.64 L515.11,327.74 L515.99,326.80 L516.88,325.83 L517.76,324.81 L518.64,323.75 L519.52,322.65 L520.40,321.51 L521.29,320.31 L522.17,319.06 L523.05,317.75 L523.93,316.37 L524.82,314.92 L525.70,313.39 L526.58,311.77 L527.46,310.03 L528.35,308.18 L529.23,306.19 L530.11,304.04 L530.99,301.72 L531.88,299.22 L532.76,296.52 L533.64,293.63 L534.52,290.55 L535.41,287.31 L536.29,283.95 L537.17,280.52 L538.05,277.06 L538.94,273.65 L539.82,270.33 L540.70,267.14 L541.58,264.13 L542.46,261.31 L543.35,258.68 L544.23,256.24 L545.11,253.98 L545.99,251.89 L546.88,249.95 L547.76,248.14 L548.64,246.45 L549.52,244.86 L550.41,243.36 L551.29,241.93 L552.17,240.58 L553.05,239.29 L553.94,238.06 L554.82,236.88 L555.70,235.75 L556.58,234.67 L557.47,233.63 L558.35,232.62 L559.23,231.66 L560.11,230.74 L561.00,229.85 L561.88,228.99 L562.76,228.17 L563.64,227.38 L564.52,226.62 L565.41,225.90 L566.29,225.20 L567.17,224.53 L568.05,223.89 L568.94,223.27 L569.82,222.68 L570.70,222.12 L571.58,221.57 L572.47,221.06 L573.35,220.56 L574.23,220.09 L575.11,219.63 L576.00,219.20 L576.88,218.78 L577.76,218.39 L578.64,218.01 L579.53,217.64 L580.41,217.30 L581.29,216.96 L582.17,216.65 L583.06,216.34 L583.94,216.05 L584.82,215.77 L585.70,215.51 L586.58,215.25 L587.47,215.01 L588.35,214.77 L589.23,214.55 L590.11,214.33 L591.00,214.13 L591.88,213.93 L592.76,213.74 L593.64,213.56 L594.53,213.38 L595.41,213.21 L596.29,213.05 L597.17,212.89 L598.06,212.74 L598.94,212.59 L599.82,212.45 L600.70,212.32 L601.59,212.19 L602.47,212.06 L603.35,211.94 L604.23,211.82 L605.12,211.70 L606.00,211.59 L606.88,211.48 L607.76,211.38 L608.64,211.27 L609.53,211.17 L610.41,211.08 L611.29,210.98 L612.17,210.89 L613.06,210.80 L613.94,210.71 L614.82,210.63 L615.70,210.54 L616.59,210.46 L617.47,210.38 L618.35,210.30 L619.23,210.22 L620.12,210.14 L621.00,210.07 L621.88,209.99 L622.76,209.92 L623.65,209.85 L624.53,209.78 L625.41,209.71 L626.29,209.64 L627.18,209.57 L628.06,209.50 L628.94,209.44 L629.82,209.37 L630.70,209.30 L631.59,209.24 L632.47,209.18 L633.35,209.11 L634.23,209.05 L635.12,208.99 L636.00,208.93 L636.88,208.86 L637.76,208.80 L638.65,208.74 L639.53,208.68 L640.41,208.62 L641.29,208.56 L642.18,208.50 L643.06,208.44 L643.94,208.39 L644.82,208.33 L645.71,208.27 L646.59,208.21 L647.47,208.15 L648.35,208.10 L649.24,208.04 L650.12,207.98 L651.00,207.93 L651.88,207.87 L652.76,207.81 L653.65,207.76 L654.53,207.70 L655.41,207.64 L656.29,207.59 L657.18,207.53 L658.06,207.48 L658.94,207.42 L659.82,207.36 L660.71,207.31 L661.59,207.25 L662.47,207.20 L663.35,207.14 L664.24,207.09 L665.12,207.03 L666.00,206.98 L666.88,206.92 L667.77,206.87 L668.65,206.81 L669.53,206.76 L670.41,206.70 L671.30,206.65 L672.18,206.59 L673.06,206.54" fill="none" stroke="#e8a23a" stroke-width="1.5"/>
<path d="M408.34,352.26 L409.22,352.21 L410.10,352.15 L410.99,352.10 L411.87,352.04 L412.75,351.99 L413.63,351.93 L414.52,351.88 L415.40,351.82 L416.28,351.77 L417.16,351.71 L418.05,351.66 L418.93,351.60 L419.81,351.55 L420.69,351.49 L421.58,351.44 L422.46,351.38 L423.34,351.32 L424.22,351.27 L425.11,351.21 L425.99,351.16 L426.87,351.10 L427.75,351.04 L428.64,350.99 L429.52,350.93 L430.40,350.87 L431.28,350.82 L432.16,350.76 L433.05,350.70 L433.93,350.65 L434.81,350.59 L435.69,350.53 L436.58,350.47 L437.46,350.41 L438.34,350.36 L439.22,350.30 L440.11,350.24 L440.99,350.18 L441.87,350.12 L442.75,350.06 L443.64,350.00 L444.52,349.94 L445.40,349.87 L446.28,349.81 L447.17,349.75 L448.05,349.69 L448.93,349.62 L449.81,349.56 L450.70,349.50 L451.58,349.43 L452.46,349.36 L453.34,349.30 L454.22,349.23 L455.11,349.16 L455.99,349.09 L456.87,349.02 L457.75,348.95 L458.64,348.88 L459.52,348.81 L460.40,348.73 L461.28,348.66 L462.17,348.58 L463.05,348.50 L463.93,348.42 L464.81,348.34 L465.70,348.26 L466.58,348.17 L467.46,348.09 L468.34,348.00 L469.23,347.91 L470.11,347.82 L470.99,347.72 L471.87,347.63 L472.76,347.53 L473.64,347.42 L474.52,347.32 L475.40,347.21 L476.28,347.10 L477.17,346.98 L478.05,346.86 L478.93,346.74 L479.81,346.61 L480.70,346.48 L481.58,346.35 L482.46,346.21 L483.34,346.06 L484.23,345.91 L485.11,345.75 L485.99,345.59 L486.87,345.42 L487.76,345.24 L488.64,345.06 L489.52,344.87 L490.40,344.67 L491.29,344.47 L492.17,344.25 L493.05,344.03 L493.93,343.79 L494.82,343.55 L495.70,343.29 L496.58,343.03 L497.46,342.75 L498.34,342.46 L499.23,342.15 L500.11,341.84 L500.99,341.50 L501.87,341.16 L502.76,340.79 L503.64,340.41 L504.52,340.02 L505.40,339.60 L506.29,339.17 L507.17,338.71 L508.05,338.24 L508.93,337.74 L509.82,337.23 L510.70,336.68 L511.58,336.12 L512.46,335.53 L513.35,334.91 L514.23,334.27 L515.11,333.60 L515.99,332.90 L516.88,332.18 L517.76,331.42 L518.64,330.63 L519.52,329.81 L520.40,328.95 L521.29,328.06 L522.17,327.14 L523.05,326.18 L523.93,325.17 L524.82,324.13 L525.70,323.05 L526.58,321.92 L527.46,320.74 L528.35,319.51 L529.23,318.22 L530.11,316.87 L530.99,315.44 L531.88,313.94 L532.76,312.35 L533.64,310.66 L534.52,308.85 L535.41,306.91 L536.29,304.82 L537.17,302.56 L538.05,300.12 L538.94,297.49 L539.82,294.67 L540.70,291.66 L541.58,288.47 L542.46,285.15 L543.35,281.74 L544.23,278.28 L545.11,274.85 L545.99,271.49 L546.88,268.25 L547.76,265.17 L548.64,262.28 L549.52,259.58 L550.41,257.08 L551.29,254.76 L552.17,252.61 L553.05,250.62 L553.94,248.77 L554.82,247.03 L555.70,245.41 L556.58,243.88 L557.47,242.43 L558.35,241.05 L559.23,239.74 L560.11,238.49 L561.00,237.29 L561.88,236.15 L562.76,235.05 L563.64,233.99 L564.52,232.97 L565.41,232.00 L566.29,231.06 L567.17,230.16 L568.05,229.29 L568.94,228.46 L569.82,227.66 L570.70,226.89 L571.58,226.15 L572.47,225.44 L573.35,224.76 L574.23,224.11 L575.11,223.48 L576.00,222.89 L576.88,222.31 L577.76,221.76 L578.64,221.24 L579.53,220.73 L580.41,220.25 L581.29,219.79 L582.17,219.35 L583.06,218.93 L583.94,218.52 L584.82,218.14 L585.70,217.77 L586.58,217.42 L587.47,217.08 L588.35,216.76 L589.23,216.45 L590.11,216.15 L591.00,215.87 L591.88,215.60 L592.76,215.34 L593.64,215.09 L594.53,214.85 L595.41,214.63 L596.29,214.41 L597.17,214.20 L598.06,214.00 L598.94,213.80 L599.82,213.62 L600.70,213.44 L601.59,213.27 L602.47,213.10 L603.35,212.95 L604.23,212.79 L605.12,212.64 L606.00,212.50 L606.88,212.37 L607.76,212.23 L608.64,212.10 L609.53,211.98 L610.41,211.86 L611.29,211.74 L612.17,211.63 L613.06,211.52 L613.94,211.41 L614.82,211.31 L615.70,211.21 L616.59,211.11 L617.47,211.02 L618.35,210.92 L619.23,210.83 L620.12,210.74 L621.00,210.66 L621.88,210.57 L622.76,210.49 L623.65,210.41 L624.53,210.33 L625.41,210.25 L626.29,210.17 L627.18,210.09 L628.06,210.02 L628.94,209.95 L629.82,209.87 L630.70,209.80 L631.59,209.73 L632.47,209.66 L633.35,209.59 L634.23,209.53 L635.12,209.46 L636.00,209.39 L636.88,209.33 L637.76,209.26 L638.65,209.20 L639.53,209.14 L640.41,209.07 L641.29,209.01 L642.18,208.95 L643.06,208.89 L643.94,208.82 L644.82,208.76 L645.71,208.70 L646.59,208.64 L647.47,208.58 L648.35,208.52 L649.24,208.47 L650.12,208.41 L651.00,208.35 L651.88,208.29 L652.76,208.23 L653.65,208.17 L654.53,208.12 L655.41,208.06 L656.29,208.00 L657.18,207.95 L658.06,207.89 L658.94,207.83 L659.82,207.78 L660.71,207.72 L661.59,207.66 L662.47,207.61 L663.35,207.55 L664.24,207.50 L665.12,207.44 L666.00,207.38 L666.88,207.33 L667.77,207.27 L668.65,207.22 L669.53,207.16 L670.41,207.11 L671.30,207.05 L672.18,207.00 L673.06,206.94" fill="none" stroke="#e8a23a" stroke-width="1.5"/>
<path d="M408.34,338.81 L409.22,338.74 L410.10,338.67 L410.99,338.60 L411.87,338.52 L412.75,338.44 L413.63,338.36 L414.52,338.28 L415.40,338.19 L416.28,338.10 L417.16,338.00 L418.05,337.91 L418.93,337.81 L419.81,337.70 L420.69,337.60 L421.58,337.49 L422.46,337.38 L423.34,337.26 L424.22,337.14 L425.11,337.02 L425.99,336.90 L426.87,336.77 L427.75,336.64 L428.64,336.51 L429.52,336.37 L430.40,336.23 L431.28,336.09 L432.16,335.94 L433.05,335.79 L433.93,335.64 L434.81,335.48 L435.69,335.32 L436.58,335.16 L437.46,334.99 L438.34,334.82 L439.22,334.65 L440.11,334.48 L440.99,334.30 L441.87,334.11 L442.75,333.93 L443.64,333.74 L444.52,333.55 L445.40,333.35 L446.28,333.15 L447.17,332.95 L448.05,332.74 L448.93,332.54 L449.81,332.32 L450.70,332.11 L451.58,331.89 L452.46,331.66 L453.34,331.44 L454.22,331.21 L455.11,330.98 L455.99,330.74 L456.87,330.50 L457.75,330.26 L458.64,330.01 L459.52,329.76 L460.40,329.51 L461.28,329.25 L462.17,328.99 L463.05,328.73 L463.93,328.46 L464.81,328.19 L465.70,327.91 L466.58,327.64 L467.46,327.36 L468.34,327.07 L469.23,326.78 L470.11,326.49 L470.99,326.20 L471.87,325.90 L472.76,325.60 L473.64,325.29 L474.52,324.98 L475.40,324.67 L476.28,324.35 L477.17,324.03 L478.05,323.71 L478.93,323.38 L479.81,323.04 L480.70,322.71 L481.58,322.37 L482.46,322.02 L483.34,321.67 L484.23,321.32 L485.11,320.96 L485.99,320.60 L486.87,320.23 L487.76,319.86 L488.64,319.48 L489.52,319.09 L490.40,318.71 L491.29,318.31 L492.17,317.91 L493.05,317.50 L493.93,317.08 L494.82,316.66 L495.70,316.22 L496.58,315.78 L497.46,315.33 L498.34,314.87 L499.23,314.40 L500.11,313.92 L500.99,313.42 L501.87,312.92 L502.76,312.39 L503.64,311.86 L504.52,311.30 L505.40,310.73 L506.29,310.14 L507.17,309.53 L508.05,308.90 L508.93,308.25 L509.82,307.57 L510.70,306.87 L511.58,306.13 L512.46,305.37 L513.35,304.58 L514.23,303.75 L515.11,302.89 L515.99,301.99 L516.88,301.06 L517.76,300.09 L518.64,299.07 L519.52,298.02 L520.40,296.92 L521.29,295.79 L522.17,294.61 L523.05,293.40 L523.93,292.14 L524.82,290.85 L525.70,289.52 L526.58,288.16 L527.46,286.77 L528.35,285.36 L529.23,283.93 L530.11,282.48 L530.99,281.02 L531.88,279.55 L532.76,278.08 L533.64,276.62 L534.52,275.17 L535.41,273.73 L536.29,272.32 L537.17,270.92 L538.05,269.56 L538.94,268.22 L539.82,266.92 L540.70,265.66 L541.58,264.43 L542.46,263.25 L543.35,262.11 L544.23,261.00 L545.11,259.94 L545.99,258.92 L546.88,257.94 L547.76,257.00 L548.64,256.09 L549.52,255.22 L550.41,254.39 L551.29,253.59 L552.17,252.82 L553.05,252.08 L553.94,251.37 L554.82,250.69 L555.70,250.03 L556.58,249.39 L557.47,248.78 L558.35,248.19 L559.23,247.61 L560.11,247.06 L561.00,246.51 L561.88,245.99 L562.76,245.48 L563.64,244.98 L564.52,244.50 L565.41,244.02 L566.29,243.56 L567.17,243.11 L568.05,242.67 L568.94,242.23 L569.82,241.81 L570.70,241.39 L571.58,240.98 L572.47,240.57 L573.35,240.18 L574.23,239.78 L575.11,239.40 L576.00,239.02 L576.88,238.65 L577.76,238.28 L578.64,237.91 L579.53,237.55 L580.41,237.20 L581.29,236.85 L582.17,236.50 L583.06,236.16 L583.94,235.82 L584.82,235.49 L585.70,235.16 L586.58,234.84 L587.47,234.52 L588.35,234.20 L589.23,233.88 L590.11,233.57 L591.00,233.27 L591.88,232.96 L592.76,232.66 L593.64,232.37 L594.53,232.08 L595.41,231.79 L596.29,231.50 L597.17,231.22 L598.06,230.94 L598.94,230.67 L599.82,230.40 L600.70,230.13 L601.59,229.86 L602.47,229.60 L603.35,229.35 L604.23,229.09 L605.12,228.84 L606.00,228.59 L606.88,228.35 L607.76,228.11 L608.64,227.87 L609.53,227.64 L610.41,227.41 L611.29,227.18 L612.17,226.96 L613.06,226.74 L613.94,226.52 L614.82,226.31 L615.70,226.10 L616.59,225.89 L617.47,225.69 L618.35,225.49 L619.23,225.29 L620.12,225.10 L621.00,224.91 L621.88,224.72 L622.76,224.54 L623.65,224.36 L624.53,224.18 L625.41,224.01 L626.29,223.84 L627.18,223.67 L628.06,223.51 L628.94,223.35 L629.82,223.20 L630.70,223.04 L631.59,222.89 L632.47,222.74 L633.35,222.60 L634.23,222.46 L635.12,222.32 L636.00,222.19 L636.88,222.06 L637.76,221.93 L638.65,221.80 L639.53,221.68 L640.41,221.56 L641.29,221.45 L642.18,221.34 L643.06,221.23 L643.94,221.12 L644.82,221.02 L645.71,220.92 L646.59,220.82 L647.47,220.72 L648.35,220.63 L649.24,220.54 L650.12,220.46 L651.00,220.37 L651.88,220.29 L652.76,220.22 L653.65,220.14 L654.53,220.07 L655.41,220.00 L656.29,219.94 L657.18,219.87 L658.06,219.81 L658.94,219.75 L659.82,219.70 L660.71,219.65 L661.59,219.60 L662.47,219.55 L663.35,219.50 L664.24,219.46 L665.12,219.42 L666.00,219.39 L666.88,219.35 L667.77,219.32 L668.65,219.29 L669.53,219.26 L670.41,219.24 L671.30,219.22 L672.18,219.20 L673.06,219.18" fill="none" stroke="#4b64c0" stroke-width="1.5"/>
<path d="M408.34,339.62 L409.22,339.60 L410.10,339.58 L410.99,339.56 L411.87,339.54 L412.75,339.51 L413.63,339.48 L414.52,339.45 L415.40,339.41 L416.28,339.38 L417.16,339.34 L418.05,339.30 L418.93,339.25 L419.81,339.20 L420.69,339.15 L421.58,339.10 L422.46,339.05 L423.34,338.99 L424.22,338.93 L425.11,338.86 L425.99,338.80 L426.87,338.73 L427.75,338.66 L428.64,338.58 L429.52,338.51 L430.40,338.43 L431.28,338.34 L432.16,338.26 L433.05,338.17 L433.93,338.08 L434.81,337.98 L435.69,337.88 L436.58,337.78 L437.46,337.68 L438.34,337.57 L439.22,337.46 L440.11,337.35 L440.99,337.24 L441.87,337.12 L442.75,337.00 L443.64,336.87 L444.52,336.74 L445.40,336.61 L446.28,336.48 L447.17,336.34 L448.05,336.20 L448.93,336.06 L449.81,335.91 L450.70,335.76 L451.58,335.60 L452.46,335.45 L453.34,335.29 L454.22,335.13 L455.11,334.96 L455.99,334.79 L456.87,334.62 L457.75,334.44 L458.64,334.26 L459.52,334.08 L460.40,333.89 L461.28,333.70 L462.17,333.51 L463.05,333.31 L463.93,333.11 L464.81,332.91 L465.70,332.70 L466.58,332.49 L467.46,332.28 L468.34,332.06 L469.23,331.84 L470.11,331.62 L470.99,331.39 L471.87,331.16 L472.76,330.93 L473.64,330.69 L474.52,330.45 L475.40,330.21 L476.28,329.96 L477.17,329.71 L478.05,329.45 L478.93,329.20 L479.81,328.94 L480.70,328.67 L481.58,328.40 L482.46,328.13 L483.34,327.86 L484.23,327.58 L485.11,327.30 L485.99,327.01 L486.87,326.72 L487.76,326.43 L488.64,326.14 L489.52,325.84 L490.40,325.53 L491.29,325.23 L492.17,324.92 L493.05,324.60 L493.93,324.28 L494.82,323.96 L495.70,323.64 L496.58,323.31 L497.46,322.98 L498.34,322.64 L499.23,322.30 L500.11,321.95 L500.99,321.60 L501.87,321.25 L502.76,320.89 L503.64,320.52 L504.52,320.15 L505.40,319.78 L506.29,319.40 L507.17,319.02 L508.05,318.62 L508.93,318.23 L509.82,317.82 L510.70,317.41 L511.58,316.99 L512.46,316.57 L513.35,316.13 L514.23,315.69 L515.11,315.24 L515.99,314.78 L516.88,314.30 L517.76,313.82 L518.64,313.32 L519.52,312.81 L520.40,312.29 L521.29,311.74 L522.17,311.19 L523.05,310.61 L523.93,310.02 L524.82,309.41 L525.70,308.77 L526.58,308.11 L527.46,307.43 L528.35,306.72 L529.23,305.98 L530.11,305.21 L530.99,304.41 L531.88,303.58 L532.76,302.71 L533.64,301.80 L534.52,300.86 L535.41,299.88 L536.29,298.86 L537.17,297.80 L538.05,296.69 L538.94,295.55 L539.82,294.37 L540.70,293.14 L541.58,291.88 L542.46,290.58 L543.35,289.24 L544.23,287.88 L545.11,286.48 L545.99,285.07 L546.88,283.63 L547.76,282.18 L548.64,280.72 L549.52,279.25 L550.41,277.78 L551.29,276.32 L552.17,274.87 L553.05,273.44 L553.94,272.03 L554.82,270.64 L555.70,269.28 L556.58,267.95 L557.47,266.66 L558.35,265.40 L559.23,264.19 L560.11,263.01 L561.00,261.88 L561.88,260.78 L562.76,259.73 L563.64,258.71 L564.52,257.74 L565.41,256.81 L566.29,255.91 L567.17,255.05 L568.05,254.22 L568.94,253.43 L569.82,252.67 L570.70,251.93 L571.58,251.23 L572.47,250.55 L573.35,249.90 L574.23,249.27 L575.11,248.66 L576.00,248.07 L576.88,247.50 L577.76,246.94 L578.64,246.41 L579.53,245.88 L580.41,245.38 L581.29,244.88 L582.17,244.40 L583.06,243.93 L583.94,243.47 L584.82,243.02 L585.70,242.58 L586.58,242.14 L587.47,241.72 L588.35,241.30 L589.23,240.89 L590.11,240.49 L591.00,240.09 L591.88,239.71 L592.76,239.32 L593.64,238.94 L594.53,238.57 L595.41,238.20 L596.29,237.84 L597.17,237.48 L598.06,237.13 L598.94,236.78 L599.82,236.43 L600.70,236.09 L601.59,235.76 L602.47,235.42 L603.35,235.09 L604.23,234.77 L605.12,234.45 L606.00,234.13 L606.88,233.82 L607.76,233.51 L608.64,233.20 L609.53,232.90 L610.41,232.60 L611.29,232.31 L612.17,232.02 L613.06,231.73 L613.94,231.44 L614.82,231.16 L615.70,230.89 L616.59,230.61 L617.47,230.34 L618.35,230.07 L619.23,229.81 L620.12,229.55 L621.00,229.29 L621.88,229.04 L622.76,228.79 L623.65,228.54 L624.53,228.30 L625.41,228.06 L626.29,227.82 L627.18,227.59 L628.06,227.36 L628.94,227.14 L629.82,226.91 L630.70,226.69 L631.59,226.48 L632.47,226.26 L633.35,226.06 L634.23,225.85 L635.12,225.65 L636.00,225.45 L636.88,225.25 L637.76,225.06 L638.65,224.87 L639.53,224.69 L640.41,224.50 L641.29,224.32 L642.18,224.15 L643.06,223.98 L643.94,223.81 L644.82,223.64 L645.71,223.48 L646.59,223.32 L647.47,223.16 L648.35,223.01 L649.24,222.86 L650.12,222.71 L651.00,222.57 L651.88,222.43 L652.76,222.29 L653.65,222.16 L654.53,222.03 L655.41,221.90 L656.29,221.78 L657.18,221.66 L658.06,221.54 L658.94,221.42 L659.82,221.31 L660.71,221.20 L661.59,221.10 L662.47,220.99 L663.35,220.89 L664.24,220.80 L665.12,220.70 L666.00,220.61 L666.88,220.52 L667.77,220.44 L668.65,220.36 L669.53,220.28 L670.41,220.20 L671.30,220.13 L672.18,220.06 L673.06,219.99" fill="none" stroke="#4b64c0" stroke-width="1.5"/>
<path d="M407.6,201.0 H673.2 V358.3" fill="none" stroke="#8a8a8a" stroke-width="1.1"/>
<path d="M407.6,201.0 V358.3 H673.2" fill="none" stroke="#3a3a3a" stroke-width="1"/>
<line x1="407.90" y1="358.3" x2="407.90" y2="360.8" stroke="#3a3a3a" stroke-width="1"/>
<text transform="translate(409.20,373.30) scale(1.1000,1)" x="0" y="0" font-size="10.2" text-anchor="middle" font-weight="bold" fill="#111">-300</text>
<line x1="452.02" y1="358.3" x2="452.02" y2="360.8" stroke="#3a3a3a" stroke-width="1"/>
<text transform="translate(453.32,373.30) scale(1.1000,1)" x="0" y="0" font-size="10.2" text-anchor="middle" font-weight="bold" fill="#111">-200</text>
<line x1="496.13" y1="358.3" x2="496.13" y2="360.8" stroke="#3a3a3a" stroke-width="1"/>
<text transform="translate(497.43,373.30) scale(1.1000,1)" x="0" y="0" font-size="10.2" text-anchor="middle" font-weight="bold" fill="#111">-100</text>
<line x1="540.25" y1="358.3" x2="540.25" y2="360.8" stroke="#3a3a3a" stroke-width="1"/>
<text transform="translate(541.55,373.30) scale(1.1000,1)" x="0" y="0" font-size="10.2" text-anchor="middle" font-weight="bold" fill="#111">0</text>
<line x1="584.37" y1="358.3" x2="584.37" y2="360.8" stroke="#3a3a3a" stroke-width="1"/>
<text transform="translate(585.67,373.30) scale(1.1000,1)" x="0" y="0" font-size="10.2" text-anchor="middle" font-weight="bold" fill="#111">100</text>
<line x1="628.48" y1="358.3" x2="628.48" y2="360.8" stroke="#3a3a3a" stroke-width="1"/>
<text transform="translate(629.78,373.30) scale(1.1000,1)" x="0" y="0" font-size="10.2" text-anchor="middle" font-weight="bold" fill="#111">200</text>
<line x1="672.60" y1="358.3" x2="672.60" y2="360.8" stroke="#3a3a3a" stroke-width="1"/>
<text transform="translate(673.90,373.30) scale(1.1000,1)" x="0" y="0" font-size="10.2" text-anchor="middle" font-weight="bold" fill="#111">300</text>
<line x1="407.6" y1="339.70" x2="405.1" y2="339.70" stroke="#3a3a3a" stroke-width="1"/>
<text transform="translate(402.60,343.30) scale(1.1000,1)" x="0" y="0" font-size="10.2" text-anchor="end" font-weight="bold" fill="#111">-0.8</text>
<line x1="407.6" y1="309.62" x2="405.1" y2="309.62" stroke="#3a3a3a" stroke-width="1"/>
<text transform="translate(402.60,313.23) scale(1.1000,1)" x="0" y="0" font-size="10.2" text-anchor="end" font-weight="bold" fill="#111">-0.4</text>
<line x1="407.6" y1="279.55" x2="405.1" y2="279.55" stroke="#3a3a3a" stroke-width="1"/>
<text transform="translate(402.60,283.15) scale(1.1000,1)" x="0" y="0" font-size="10.2" text-anchor="end" font-weight="bold" fill="#111">0</text>
<line x1="407.6" y1="249.47" x2="405.1" y2="249.47" stroke="#3a3a3a" stroke-width="1"/>
<text transform="translate(402.60,253.07) scale(1.1000,1)" x="0" y="0" font-size="10.2" text-anchor="end" font-weight="bold" fill="#111">0.4</text>
<line x1="407.6" y1="219.40" x2="405.1" y2="219.40" stroke="#3a3a3a" stroke-width="1"/>
<text transform="translate(402.60,223.00) scale(1.1000,1)" x="0" y="0" font-size="10.2" text-anchor="end" font-weight="bold" fill="#111">0.8</text>
<text transform="translate(422.30,219.90) scale(1.0380,1)" x="-0.64" y="0" font-size="14.2" font-weight="bold" fill="#111">(d)</text>
<line x1="600" y1="321" x2="617.3" y2="321" stroke="#e8a23a" stroke-width="2"/>
<line x1="600" y1="335.9" x2="617.5" y2="335.9" stroke="#4b64c0" stroke-width="2"/>
<text transform="translate(622.00,325.10) scale(1.0770,1)" x="-0.21" y="0" font-size="10.6" font-weight="bold" fill="#111">300K</text>
<text transform="translate(626.20,339.70) scale(1.0493,1)" x="-0.64" y="0" font-size="10.6" font-weight="bold" fill="#111">10K</text>
<text transform="translate(507.30,388.30) scale(1.0602,1)" x="-0.81" y="0" font-size="12.4" font-weight="bold" fill="#111">Field (mT)</text>
<text transform="translate(378.50,323.60) rotate(-90) scale(1.1212,1)" x="-0.81" y="0" font-size="12.4" font-weight="bold" fill="#111">Normalized <tspan font-style="italic">M</tspan></text>
<path d="M50.35,546.28 L54.17,545.74 L58.25,537.56 L62.34,531.30 L66.42,526.67 L70.51,524.76 L74.87,519.86 L79.50,516.59 L83.58,513.87 L88.22,514.41 L92.30,511.69 L96.39,509.51 L100.75,506.78 L104.83,504.88 L109.46,502.97 L113.55,502.15 L117.64,500.79 L121.72,498.61 L125.81,496.70 L130.44,494.80 L134.52,492.62 L138.61,495.34 L142.97,490.44 L147.06,488.53 L151.14,489.35 L155.23,491.26 L159.86,487.17 L163.94,480.36 L168.58,479.54 L172.66,479.00 L176.75,479.00 L174.09,477.64 L177.63,476.82 L181.44,473.55 L185.80,474.09 L189.61,471.37 L193.70,470.28 L197.79,467.56 L202.14,466.74 L206.23,465.38 L210.32,461.29 L214.40,455.84 L218.49,453.12 L222.30,451.76 L226.39,450.39 L230.47,449.03 L234.56,446.31 L238.10,443.04 L242.19,443.58 L246.27,440.86 L250.36,439.50 L254.45,435.41 L257.99,434.05 L262.07,431.33 L266.16,429.96 L270.25,427.24 L274.33,423.15 L278.42,421.79 L282.50,420.43 L287.13,416.34 L291.22,414.98 L294.76,412.26 L296.67,412.26" fill="none" stroke="#5b70c8" stroke-width="1.1"/>
<circle cx="50.35" cy="546.28" r="2.3" fill="#8a9ad8" stroke="#6a7cc8" stroke-width="0.9"/>
<circle cx="54.17" cy="545.74" r="2.3" fill="#8a9ad8" stroke="#6a7cc8" stroke-width="0.9"/>
<circle cx="58.25" cy="537.56" r="2.3" fill="#8a9ad8" stroke="#6a7cc8" stroke-width="0.9"/>
<circle cx="62.34" cy="531.30" r="2.3" fill="#8a9ad8" stroke="#6a7cc8" stroke-width="0.9"/>
<circle cx="66.42" cy="526.67" r="2.3" fill="#8a9ad8" stroke="#6a7cc8" stroke-width="0.9"/>
<circle cx="70.51" cy="524.76" r="2.3" fill="#8a9ad8" stroke="#6a7cc8" stroke-width="0.9"/>
<circle cx="74.87" cy="519.86" r="2.3" fill="#8a9ad8" stroke="#6a7cc8" stroke-width="0.9"/>
<circle cx="79.50" cy="516.59" r="2.3" fill="#8a9ad8" stroke="#6a7cc8" stroke-width="0.9"/>
<circle cx="83.58" cy="513.87" r="2.3" fill="#8a9ad8" stroke="#6a7cc8" stroke-width="0.9"/>
<circle cx="88.22" cy="514.41" r="2.3" fill="#8a9ad8" stroke="#6a7cc8" stroke-width="0.9"/>
<circle cx="92.30" cy="511.69" r="2.3" fill="#8a9ad8" stroke="#6a7cc8" stroke-width="0.9"/>
<circle cx="96.39" cy="509.51" r="2.3" fill="#8a9ad8" stroke="#6a7cc8" stroke-width="0.9"/>
<circle cx="100.75" cy="506.78" r="2.3" fill="#8a9ad8" stroke="#6a7cc8" stroke-width="0.9"/>
<circle cx="104.83" cy="504.88" r="2.3" fill="#8a9ad8" stroke="#6a7cc8" stroke-width="0.9"/>
<circle cx="109.46" cy="502.97" r="2.3" fill="#8a9ad8" stroke="#6a7cc8" stroke-width="0.9"/>
<circle cx="113.55" cy="502.15" r="2.3" fill="#8a9ad8" stroke="#6a7cc8" stroke-width="0.9"/>
<circle cx="117.64" cy="500.79" r="2.3" fill="#8a9ad8" stroke="#6a7cc8" stroke-width="0.9"/>
<circle cx="121.72" cy="498.61" r="2.3" fill="#8a9ad8" stroke="#6a7cc8" stroke-width="0.9"/>
<circle cx="125.81" cy="496.70" r="2.3" fill="#8a9ad8" stroke="#6a7cc8" stroke-width="0.9"/>
<circle cx="130.44" cy="494.80" r="2.3" fill="#8a9ad8" stroke="#6a7cc8" stroke-width="0.9"/>
<circle cx="134.52" cy="492.62" r="2.3" fill="#8a9ad8" stroke="#6a7cc8" stroke-width="0.9"/>
<circle cx="138.61" cy="495.34" r="2.3" fill="#8a9ad8" stroke="#6a7cc8" stroke-width="0.9"/>
<circle cx="142.97" cy="490.44" r="2.3" fill="#8a9ad8" stroke="#6a7cc8" stroke-width="0.9"/>
<circle cx="147.06" cy="488.53" r="2.3" fill="#8a9ad8" stroke="#6a7cc8" stroke-width="0.9"/>
<circle cx="151.14" cy="489.35" r="2.3" fill="#8a9ad8" stroke="#6a7cc8" stroke-width="0.9"/>
<circle cx="155.23" cy="491.26" r="2.3" fill="#8a9ad8" stroke="#6a7cc8" stroke-width="0.9"/>
<circle cx="159.86" cy="487.17" r="2.3" fill="#8a9ad8" stroke="#6a7cc8" stroke-width="0.9"/>
<circle cx="163.94" cy="480.36" r="2.3" fill="#8a9ad8" stroke="#6a7cc8" stroke-width="0.9"/>
<circle cx="168.58" cy="479.54" r="2.3" fill="#8a9ad8" stroke="#6a7cc8" stroke-width="0.9"/>
<circle cx="172.66" cy="479.00" r="2.3" fill="#8a9ad8" stroke="#6a7cc8" stroke-width="0.9"/>
<circle cx="176.75" cy="479.00" r="2.3" fill="#8a9ad8" stroke="#6a7cc8" stroke-width="0.9"/>
<circle cx="174.09" cy="477.64" r="2.3" fill="#8a9ad8" stroke="#6a7cc8" stroke-width="0.9"/>
<circle cx="177.63" cy="476.82" r="2.3" fill="#8a9ad8" stroke="#6a7cc8" stroke-width="0.9"/>
<circle cx="181.44" cy="473.55" r="2.3" fill="#8a9ad8" stroke="#6a7cc8" stroke-width="0.9"/>
<circle cx="185.80" cy="474.09" r="2.3" fill="#8a9ad8" stroke="#6a7cc8" stroke-width="0.9"/>
<circle cx="189.61" cy="471.37" r="2.3" fill="#8a9ad8" stroke="#6a7cc8" stroke-width="0.9"/>
<circle cx="193.70" cy="470.28" r="2.3" fill="#8a9ad8" stroke="#6a7cc8" stroke-width="0.9"/>
<circle cx="197.79" cy="467.56" r="2.3" fill="#8a9ad8" stroke="#6a7cc8" stroke-width="0.9"/>
<circle cx="202.14" cy="466.74" r="2.3" fill="#8a9ad8" stroke="#6a7cc8" stroke-width="0.9"/>
<circle cx="206.23" cy="465.38" r="2.3" fill="#8a9ad8" stroke="#6a7cc8" stroke-width="0.9"/>
<circle cx="210.32" cy="461.29" r="2.3" fill="#8a9ad8" stroke="#6a7cc8" stroke-width="0.9"/>
<circle cx="214.40" cy="455.84" r="2.3" fill="#8a9ad8" stroke="#6a7cc8" stroke-width="0.9"/>
<circle cx="218.49" cy="453.12" r="2.3" fill="#8a9ad8" stroke="#6a7cc8" stroke-width="0.9"/>
<circle cx="222.30" cy="451.76" r="2.3" fill="#8a9ad8" stroke="#6a7cc8" stroke-width="0.9"/>
<circle cx="226.39" cy="450.39" r="2.3" fill="#8a9ad8" stroke="#6a7cc8" stroke-width="0.9"/>
<circle cx="230.47" cy="449.03" r="2.3" fill="#8a9ad8" stroke="#6a7cc8" stroke-width="0.9"/>
<circle cx="234.56" cy="446.31" r="2.3" fill="#8a9ad8" stroke="#6a7cc8" stroke-width="0.9"/>
<circle cx="238.10" cy="443.04" r="2.3" fill="#8a9ad8" stroke="#6a7cc8" stroke-width="0.9"/>
<circle cx="242.19" cy="443.58" r="2.3" fill="#8a9ad8" stroke="#6a7cc8" stroke-width="0.9"/>
<circle cx="246.27" cy="440.86" r="2.3" fill="#8a9ad8" stroke="#6a7cc8" stroke-width="0.9"/>
<circle cx="250.36" cy="439.50" r="2.3" fill="#8a9ad8" stroke="#6a7cc8" stroke-width="0.9"/>
<circle cx="254.45" cy="435.41" r="2.3" fill="#8a9ad8" stroke="#6a7cc8" stroke-width="0.9"/>
<circle cx="257.99" cy="434.05" r="2.3" fill="#8a9ad8" stroke="#6a7cc8" stroke-width="0.9"/>
<circle cx="262.07" cy="431.33" r="2.3" fill="#8a9ad8" stroke="#6a7cc8" stroke-width="0.9"/>
<circle cx="266.16" cy="429.96" r="2.3" fill="#8a9ad8" stroke="#6a7cc8" stroke-width="0.9"/>
<circle cx="270.25" cy="427.24" r="2.3" fill="#8a9ad8" stroke="#6a7cc8" stroke-width="0.9"/>
<circle cx="274.33" cy="423.15" r="2.3" fill="#8a9ad8" stroke="#6a7cc8" stroke-width="0.9"/>
<circle cx="278.42" cy="421.79" r="2.3" fill="#8a9ad8" stroke="#6a7cc8" stroke-width="0.9"/>
<circle cx="282.50" cy="420.43" r="2.3" fill="#8a9ad8" stroke="#6a7cc8" stroke-width="0.9"/>
<circle cx="287.13" cy="416.34" r="2.3" fill="#8a9ad8" stroke="#6a7cc8" stroke-width="0.9"/>
<circle cx="291.22" cy="414.98" r="2.3" fill="#8a9ad8" stroke="#6a7cc8" stroke-width="0.9"/>
<circle cx="294.76" cy="412.26" r="2.3" fill="#8a9ad8" stroke="#6a7cc8" stroke-width="0.9"/>
<circle cx="296.67" cy="412.26" r="2.3" fill="#8a9ad8" stroke="#6a7cc8" stroke-width="0.9"/>
<path d="M50.35,546.28 L54.17,542.20 L58.25,536.20 L62.34,530.21 L66.42,525.85 L70.51,519.31 L74.87,519.31 L79.50,513.05 L83.58,504.06 L88.22,509.51 L92.30,504.88 L96.39,507.60 L100.75,501.33 L104.83,497.52 L109.46,502.97 L113.55,500.25 L117.64,497.25 L121.72,500.79 L125.81,495.89 L130.44,493.98 L134.52,486.62 L138.61,493.98 L142.97,481.72 L147.06,479.54 L151.14,479.00 L155.23,486.62 L159.86,475.73 L163.94,471.37 L168.58,473.55 L172.66,471.37 L176.75,469.46 L174.09,470.28 L177.63,465.38 L181.44,468.65 L185.80,464.02 L189.61,466.74 L193.70,462.11 L197.79,465.38 L202.14,458.57 L206.23,458.57 L210.32,456.66 L214.40,453.12 L218.49,449.03 L222.30,447.67 L226.39,444.95 L230.47,443.58 L234.56,440.32 L238.10,442.22 L242.19,438.14 L246.27,437.59 L250.36,438.14 L254.45,434.87 L257.99,431.33 L262.07,424.52 L266.16,428.60 L270.25,423.97 L274.33,419.07 L278.42,416.34 L282.50,417.71 L287.13,416.89 L291.22,410.35 L294.76,412.26" fill="none" stroke="#5b70c8" stroke-width="1.1"/>
<circle cx="50.35" cy="546.28" r="2.3" fill="#8a9ad8" stroke="#6a7cc8" stroke-width="0.9"/>
<circle cx="54.17" cy="542.20" r="2.3" fill="#8a9ad8" stroke="#6a7cc8" stroke-width="0.9"/>
<circle cx="58.25" cy="536.20" r="2.3" fill="#8a9ad8" stroke="#6a7cc8" stroke-width="0.9"/>
<circle cx="62.34" cy="530.21" r="2.3" fill="#8a9ad8" stroke="#6a7cc8" stroke-width="0.9"/>
<circle cx="66.42" cy="525.85" r="2.3" fill="#8a9ad8" stroke="#6a7cc8" stroke-width="0.9"/>
<circle cx="70.51" cy="519.31" r="2.3" fill="#8a9ad8" stroke="#6a7cc8" stroke-width="0.9"/>
<circle cx="74.87" cy="519.31" r="2.3" fill="#8a9ad8" stroke="#6a7cc8" stroke-width="0.9"/>
<circle cx="79.50" cy="513.05" r="2.3" fill="#8a9ad8" stroke="#6a7cc8" stroke-width="0.9"/>
<circle cx="83.58" cy="504.06" r="2.3" fill="#8a9ad8" stroke="#6a7cc8" stroke-width="0.9"/>
<circle cx="88.22" cy="509.51" r="2.3" fill="#8a9ad8" stroke="#6a7cc8" stroke-width="0.9"/>
<circle cx="92.30" cy="504.88" r="2.3" fill="#8a9ad8" stroke="#6a7cc8" stroke-width="0.9"/>
<circle cx="96.39" cy="507.60" r="2.3" fill="#8a9ad8" stroke="#6a7cc8" stroke-width="0.9"/>
<circle cx="100.75" cy="501.33" r="2.3" fill="#8a9ad8" stroke="#6a7cc8" stroke-width="0.9"/>
<circle cx="104.83" cy="497.52" r="2.3" fill="#8a9ad8" stroke="#6a7cc8" stroke-width="0.9"/>
<circle cx="109.46" cy="502.97" r="2.3" fill="#8a9ad8" stroke="#6a7cc8" stroke-width="0.9"/>
<circle cx="113.55" cy="500.25" r="2.3" fill="#8a9ad8" stroke="#6a7cc8" stroke-width="0.9"/>
<circle cx="117.64" cy="497.25" r="2.3" fill="#8a9ad8" stroke="#6a7cc8" stroke-width="0.9"/>
<circle cx="121.72" cy="500.79" r="2.3" fill="#8a9ad8" stroke="#6a7cc8" stroke-width="0.9"/>
<circle cx="125.81" cy="495.89" r="2.3" fill="#8a9ad8" stroke="#6a7cc8" stroke-width="0.9"/>
<circle cx="130.44" cy="493.98" r="2.3" fill="#8a9ad8" stroke="#6a7cc8" stroke-width="0.9"/>
<circle cx="134.52" cy="486.62" r="2.3" fill="#8a9ad8" stroke="#6a7cc8" stroke-width="0.9"/>
<circle cx="138.61" cy="493.98" r="2.3" fill="#8a9ad8" stroke="#6a7cc8" stroke-width="0.9"/>
<circle cx="142.97" cy="481.72" r="2.3" fill="#8a9ad8" stroke="#6a7cc8" stroke-width="0.9"/>
<circle cx="147.06" cy="479.54" r="2.3" fill="#8a9ad8" stroke="#6a7cc8" stroke-width="0.9"/>
<circle cx="151.14" cy="479.00" r="2.3" fill="#8a9ad8" stroke="#6a7cc8" stroke-width="0.9"/>
<circle cx="155.23" cy="486.62" r="2.3" fill="#8a9ad8" stroke="#6a7cc8" stroke-width="0.9"/>
<circle cx="159.86" cy="475.73" r="2.3" fill="#8a9ad8" stroke="#6a7cc8" stroke-width="0.9"/>
<circle cx="163.94" cy="471.37" r="2.3" fill="#8a9ad8" stroke="#6a7cc8" stroke-width="0.9"/>
<circle cx="168.58" cy="473.55" r="2.3" fill="#8a9ad8" stroke="#6a7cc8" stroke-width="0.9"/>
<circle cx="172.66" cy="471.37" r="2.3" fill="#8a9ad8" stroke="#6a7cc8" stroke-width="0.9"/>
<circle cx="176.75" cy="469.46" r="2.3" fill="#8a9ad8" stroke="#6a7cc8" stroke-width="0.9"/>
<circle cx="174.09" cy="470.28" r="2.3" fill="#8a9ad8" stroke="#6a7cc8" stroke-width="0.9"/>
<circle cx="177.63" cy="465.38" r="2.3" fill="#8a9ad8" stroke="#6a7cc8" stroke-width="0.9"/>
<circle cx="181.44" cy="468.65" r="2.3" fill="#8a9ad8" stroke="#6a7cc8" stroke-width="0.9"/>
<circle cx="185.80" cy="464.02" r="2.3" fill="#8a9ad8" stroke="#6a7cc8" stroke-width="0.9"/>
<circle cx="189.61" cy="466.74" r="2.3" fill="#8a9ad8" stroke="#6a7cc8" stroke-width="0.9"/>
<circle cx="193.70" cy="462.11" r="2.3" fill="#8a9ad8" stroke="#6a7cc8" stroke-width="0.9"/>
<circle cx="197.79" cy="465.38" r="2.3" fill="#8a9ad8" stroke="#6a7cc8" stroke-width="0.9"/>
<circle cx="202.14" cy="458.57" r="2.3" fill="#8a9ad8" stroke="#6a7cc8" stroke-width="0.9"/>
<circle cx="206.23" cy="458.57" r="2.3" fill="#8a9ad8" stroke="#6a7cc8" stroke-width="0.9"/>
<circle cx="210.32" cy="456.66" r="2.3" fill="#8a9ad8" stroke="#6a7cc8" stroke-width="0.9"/>
<circle cx="214.40" cy="453.12" r="2.3" fill="#8a9ad8" stroke="#6a7cc8" stroke-width="0.9"/>
<circle cx="218.49" cy="449.03" r="2.3" fill="#8a9ad8" stroke="#6a7cc8" stroke-width="0.9"/>
<circle cx="222.30" cy="447.67" r="2.3" fill="#8a9ad8" stroke="#6a7cc8" stroke-width="0.9"/>
<circle cx="226.39" cy="444.95" r="2.3" fill="#8a9ad8" stroke="#6a7cc8" stroke-width="0.9"/>
<circle cx="230.47" cy="443.58" r="2.3" fill="#8a9ad8" stroke="#6a7cc8" stroke-width="0.9"/>
<circle cx="234.56" cy="440.32" r="2.3" fill="#8a9ad8" stroke="#6a7cc8" stroke-width="0.9"/>
<circle cx="238.10" cy="442.22" r="2.3" fill="#8a9ad8" stroke="#6a7cc8" stroke-width="0.9"/>
<circle cx="242.19" cy="438.14" r="2.3" fill="#8a9ad8" stroke="#6a7cc8" stroke-width="0.9"/>
<circle cx="246.27" cy="437.59" r="2.3" fill="#8a9ad8" stroke="#6a7cc8" stroke-width="0.9"/>
<circle cx="250.36" cy="438.14" r="2.3" fill="#8a9ad8" stroke="#6a7cc8" stroke-width="0.9"/>
<circle cx="254.45" cy="434.87" r="2.3" fill="#8a9ad8" stroke="#6a7cc8" stroke-width="0.9"/>
<circle cx="257.99" cy="431.33" r="2.3" fill="#8a9ad8" stroke="#6a7cc8" stroke-width="0.9"/>
<circle cx="262.07" cy="424.52" r="2.3" fill="#8a9ad8" stroke="#6a7cc8" stroke-width="0.9"/>
<circle cx="266.16" cy="428.60" r="2.3" fill="#8a9ad8" stroke="#6a7cc8" stroke-width="0.9"/>
<circle cx="270.25" cy="423.97" r="2.3" fill="#8a9ad8" stroke="#6a7cc8" stroke-width="0.9"/>
<circle cx="274.33" cy="419.07" r="2.3" fill="#8a9ad8" stroke="#6a7cc8" stroke-width="0.9"/>
<circle cx="278.42" cy="416.34" r="2.3" fill="#8a9ad8" stroke="#6a7cc8" stroke-width="0.9"/>
<circle cx="282.50" cy="417.71" r="2.3" fill="#8a9ad8" stroke="#6a7cc8" stroke-width="0.9"/>
<circle cx="287.13" cy="416.89" r="2.3" fill="#8a9ad8" stroke="#6a7cc8" stroke-width="0.9"/>
<circle cx="291.22" cy="410.35" r="2.3" fill="#8a9ad8" stroke="#6a7cc8" stroke-width="0.9"/>
<circle cx="294.76" cy="412.26" r="2.3" fill="#8a9ad8" stroke="#6a7cc8" stroke-width="0.9"/>
<path d="M50.40,535.70 L54.20,532.90 L58.30,523.90 L62.30,512.20 L66.40,503.50 L70.50,496.70 L74.90,494.00 L79.50,489.30 L83.60,491.30 L88.20,485.00 L92.30,482.30 L96.40,477.60 L100.70,476.80 L104.80,478.50 L109.50,477.60 L113.50,478.20 L117.60,479.50 L121.70,479.00 L125.80,473.00 L130.40,474.10 L134.50,471.40 L138.60,469.50 L143.00,466.70 L147.10,468.10 L151.10,468.60 L155.20,464.00 L159.90,463.20 L164.00,461.30 L168.60,462.70 L172.70,457.70 L176.70,457.20 L181.40,454.50 L185.80,453.10 L189.60,454.50 L193.70,453.10 L197.80,453.10 L202.10,452.30 L206.20,449.60 L210.30,451.20 L214.40,449.00 L218.50,447.70 L222.30,444.90 L226.40,443.60 L230.50,440.90 L234.60,438.10 L238.10,439.50 L242.20,438.10 L246.30,436.80 L250.40,434.90 L254.40,433.20 L258.00,428.60 L262.10,430.00 L266.20,427.20 L270.20,424.50 L274.30,422.30 L278.40,421.80 L282.50,420.40 L287.10,420.40 L291.20,416.30 L294.80,413.60" fill="none" stroke="#e8a23c" stroke-width="1.1"/>
<circle cx="50.40" cy="535.70" r="2.3" fill="#eedc98" stroke="#e8a844" stroke-width="0.9"/>
<circle cx="54.20" cy="532.90" r="2.3" fill="#eedc98" stroke="#e8a844" stroke-width="0.9"/>
<circle cx="58.30" cy="523.90" r="2.3" fill="#eedc98" stroke="#e8a844" stroke-width="0.9"/>
<circle cx="62.30" cy="512.20" r="2.3" fill="#eedc98" stroke="#e8a844" stroke-width="0.9"/>
<circle cx="66.40" cy="503.50" r="2.3" fill="#eedc98" stroke="#e8a844" stroke-width="0.9"/>
<circle cx="70.50" cy="496.70" r="2.3" fill="#eedc98" stroke="#e8a844" stroke-width="0.9"/>
<circle cx="74.90" cy="494.00" r="2.3" fill="#eedc98" stroke="#e8a844" stroke-width="0.9"/>
<circle cx="79.50" cy="489.30" r="2.3" fill="#eedc98" stroke="#e8a844" stroke-width="0.9"/>
<circle cx="83.60" cy="491.30" r="2.3" fill="#eedc98" stroke="#e8a844" stroke-width="0.9"/>
<circle cx="88.20" cy="485.00" r="2.3" fill="#eedc98" stroke="#e8a844" stroke-width="0.9"/>
<circle cx="92.30" cy="482.30" r="2.3" fill="#eedc98" stroke="#e8a844" stroke-width="0.9"/>
<circle cx="96.40" cy="477.60" r="2.3" fill="#eedc98" stroke="#e8a844" stroke-width="0.9"/>
<circle cx="100.70" cy="476.80" r="2.3" fill="#eedc98" stroke="#e8a844" stroke-width="0.9"/>
<circle cx="104.80" cy="478.50" r="2.3" fill="#eedc98" stroke="#e8a844" stroke-width="0.9"/>
<circle cx="109.50" cy="477.60" r="2.3" fill="#eedc98" stroke="#e8a844" stroke-width="0.9"/>
<circle cx="113.50" cy="478.20" r="2.3" fill="#eedc98" stroke="#e8a844" stroke-width="0.9"/>
<circle cx="117.60" cy="479.50" r="2.3" fill="#eedc98" stroke="#e8a844" stroke-width="0.9"/>
<circle cx="121.70" cy="479.00" r="2.3" fill="#eedc98" stroke="#e8a844" stroke-width="0.9"/>
<circle cx="125.80" cy="473.00" r="2.3" fill="#eedc98" stroke="#e8a844" stroke-width="0.9"/>
<circle cx="130.40" cy="474.10" r="2.3" fill="#eedc98" stroke="#e8a844" stroke-width="0.9"/>
<circle cx="134.50" cy="471.40" r="2.3" fill="#eedc98" stroke="#e8a844" stroke-width="0.9"/>
<circle cx="138.60" cy="469.50" r="2.3" fill="#eedc98" stroke="#e8a844" stroke-width="0.9"/>
<circle cx="143.00" cy="466.70" r="2.3" fill="#eedc98" stroke="#e8a844" stroke-width="0.9"/>
<circle cx="147.10" cy="468.10" r="2.3" fill="#eedc98" stroke="#e8a844" stroke-width="0.9"/>
<circle cx="151.10" cy="468.60" r="2.3" fill="#eedc98" stroke="#e8a844" stroke-width="0.9"/>
<circle cx="155.20" cy="464.00" r="2.3" fill="#eedc98" stroke="#e8a844" stroke-width="0.9"/>
<circle cx="159.90" cy="463.20" r="2.3" fill="#eedc98" stroke="#e8a844" stroke-width="0.9"/>
<circle cx="164.00" cy="461.30" r="2.3" fill="#eedc98" stroke="#e8a844" stroke-width="0.9"/>
<circle cx="168.60" cy="462.70" r="2.3" fill="#eedc98" stroke="#e8a844" stroke-width="0.9"/>
<circle cx="172.70" cy="457.70" r="2.3" fill="#eedc98" stroke="#e8a844" stroke-width="0.9"/>
<circle cx="176.70" cy="457.20" r="2.3" fill="#eedc98" stroke="#e8a844" stroke-width="0.9"/>
<circle cx="181.40" cy="454.50" r="2.3" fill="#eedc98" stroke="#e8a844" stroke-width="0.9"/>
<circle cx="185.80" cy="453.10" r="2.3" fill="#eedc98" stroke="#e8a844" stroke-width="0.9"/>
<circle cx="189.60" cy="454.50" r="2.3" fill="#eedc98" stroke="#e8a844" stroke-width="0.9"/>
<circle cx="193.70" cy="453.10" r="2.3" fill="#eedc98" stroke="#e8a844" stroke-width="0.9"/>
<circle cx="197.80" cy="453.10" r="2.3" fill="#eedc98" stroke="#e8a844" stroke-width="0.9"/>
<circle cx="202.10" cy="452.30" r="2.3" fill="#eedc98" stroke="#e8a844" stroke-width="0.9"/>
<circle cx="206.20" cy="449.60" r="2.3" fill="#eedc98" stroke="#e8a844" stroke-width="0.9"/>
<circle cx="210.30" cy="451.20" r="2.3" fill="#eedc98" stroke="#e8a844" stroke-width="0.9"/>
<circle cx="214.40" cy="449.00" r="2.3" fill="#eedc98" stroke="#e8a844" stroke-width="0.9"/>
<circle cx="218.50" cy="447.70" r="2.3" fill="#eedc98" stroke="#e8a844" stroke-width="0.9"/>
<circle cx="222.30" cy="444.90" r="2.3" fill="#eedc98" stroke="#e8a844" stroke-width="0.9"/>
<circle cx="226.40" cy="443.60" r="2.3" fill="#eedc98" stroke="#e8a844" stroke-width="0.9"/>
<circle cx="230.50" cy="440.90" r="2.3" fill="#eedc98" stroke="#e8a844" stroke-width="0.9"/>
<circle cx="234.60" cy="438.10" r="2.3" fill="#eedc98" stroke="#e8a844" stroke-width="0.9"/>
<circle cx="238.10" cy="439.50" r="2.3" fill="#eedc98" stroke="#e8a844" stroke-width="0.9"/>
<circle cx="242.20" cy="438.10" r="2.3" fill="#eedc98" stroke="#e8a844" stroke-width="0.9"/>
<circle cx="246.30" cy="436.80" r="2.3" fill="#eedc98" stroke="#e8a844" stroke-width="0.9"/>
<circle cx="250.40" cy="434.90" r="2.3" fill="#eedc98" stroke="#e8a844" stroke-width="0.9"/>
<circle cx="254.40" cy="433.20" r="2.3" fill="#eedc98" stroke="#e8a844" stroke-width="0.9"/>
<circle cx="258.00" cy="428.60" r="2.3" fill="#eedc98" stroke="#e8a844" stroke-width="0.9"/>
<circle cx="262.10" cy="430.00" r="2.3" fill="#eedc98" stroke="#e8a844" stroke-width="0.9"/>
<circle cx="266.20" cy="427.20" r="2.3" fill="#eedc98" stroke="#e8a844" stroke-width="0.9"/>
<circle cx="270.20" cy="424.50" r="2.3" fill="#eedc98" stroke="#e8a844" stroke-width="0.9"/>
<circle cx="274.30" cy="422.30" r="2.3" fill="#eedc98" stroke="#e8a844" stroke-width="0.9"/>
<circle cx="278.40" cy="421.80" r="2.3" fill="#eedc98" stroke="#e8a844" stroke-width="0.9"/>
<circle cx="282.50" cy="420.40" r="2.3" fill="#eedc98" stroke="#e8a844" stroke-width="0.9"/>
<circle cx="287.10" cy="420.40" r="2.3" fill="#eedc98" stroke="#e8a844" stroke-width="0.9"/>
<circle cx="291.20" cy="416.30" r="2.3" fill="#eedc98" stroke="#e8a844" stroke-width="0.9"/>
<circle cx="294.80" cy="413.60" r="2.3" fill="#eedc98" stroke="#e8a844" stroke-width="0.9"/>
<rect x="185.2" y="484.7" width="117.1" height="65.3" fill="#fff" stroke="#333" stroke-width="1"/>
<path d="M191.70,547.10 C192.80,546.83 196.28,546.43 198.30,545.50 C200.32,544.57 201.78,542.78 203.80,541.50 C205.82,540.22 208.22,539.50 210.40,537.80 C212.58,536.10 215.08,532.15 216.90,531.30 C218.72,530.45 219.47,533.33 221.30,532.70 C223.13,532.07 225.72,528.88 227.90,527.50 C230.08,526.12 232.22,525.30 234.40,524.40 C236.58,523.50 238.80,522.87 241.00,522.10 C243.20,521.33 245.40,521.40 247.60,519.80 C249.80,518.20 252.02,513.82 254.20,512.50 C256.38,511.18 258.52,512.30 260.70,511.90 C262.88,511.50 265.10,510.97 267.30,510.10 C269.50,509.23 271.90,508.35 273.90,506.70 C275.90,505.05 277.48,502.20 279.30,500.20 C281.12,498.20 282.78,496.43 284.80,494.70 C286.82,492.97 290.30,490.62 291.40,489.80" fill="none" stroke="#6a7ccc" stroke-width="1"/>
<circle cx="191.70" cy="547.10" r="1.1" fill="#8a98d8" stroke="#6a7ccc" stroke-width="0.4"/>
<circle cx="195.00" cy="546.30" r="1.1" fill="#8a98d8" stroke="#6a7ccc" stroke-width="0.4"/>
<circle cx="198.30" cy="545.50" r="1.1" fill="#8a98d8" stroke="#6a7ccc" stroke-width="0.4"/>
<circle cx="201.05" cy="543.50" r="1.1" fill="#8a98d8" stroke="#6a7ccc" stroke-width="0.4"/>
<circle cx="203.80" cy="541.50" r="1.1" fill="#8a98d8" stroke="#6a7ccc" stroke-width="0.4"/>
<circle cx="207.10" cy="539.65" r="1.1" fill="#8a98d8" stroke="#6a7ccc" stroke-width="0.4"/>
<circle cx="210.40" cy="537.80" r="1.1" fill="#8a98d8" stroke="#6a7ccc" stroke-width="0.4"/>
<circle cx="213.65" cy="534.55" r="1.1" fill="#8a98d8" stroke="#6a7ccc" stroke-width="0.4"/>
<circle cx="216.90" cy="531.30" r="1.1" fill="#8a98d8" stroke="#6a7ccc" stroke-width="0.4"/>
<circle cx="219.10" cy="532.00" r="1.1" fill="#8a98d8" stroke="#6a7ccc" stroke-width="0.4"/>
<circle cx="221.30" cy="532.70" r="1.1" fill="#8a98d8" stroke="#6a7ccc" stroke-width="0.4"/>
<circle cx="224.60" cy="530.10" r="1.1" fill="#8a98d8" stroke="#6a7ccc" stroke-width="0.4"/>
<circle cx="227.90" cy="527.50" r="1.1" fill="#8a98d8" stroke="#6a7ccc" stroke-width="0.4"/>
<circle cx="231.15" cy="525.95" r="1.1" fill="#8a98d8" stroke="#6a7ccc" stroke-width="0.4"/>
<circle cx="234.40" cy="524.40" r="1.1" fill="#8a98d8" stroke="#6a7ccc" stroke-width="0.4"/>
<circle cx="237.70" cy="523.25" r="1.1" fill="#8a98d8" stroke="#6a7ccc" stroke-width="0.4"/>
<circle cx="241.00" cy="522.10" r="1.1" fill="#8a98d8" stroke="#6a7ccc" stroke-width="0.4"/>
<circle cx="244.30" cy="520.95" r="1.1" fill="#8a98d8" stroke="#6a7ccc" stroke-width="0.4"/>
<circle cx="247.60" cy="519.80" r="1.1" fill="#8a98d8" stroke="#6a7ccc" stroke-width="0.4"/>
<circle cx="250.90" cy="516.15" r="1.1" fill="#8a98d8" stroke="#6a7ccc" stroke-width="0.4"/>
<circle cx="254.20" cy="512.50" r="1.1" fill="#8a98d8" stroke="#6a7ccc" stroke-width="0.4"/>
<circle cx="257.45" cy="512.20" r="1.1" fill="#8a98d8" stroke="#6a7ccc" stroke-width="0.4"/>
<circle cx="260.70" cy="511.90" r="1.1" fill="#8a98d8" stroke="#6a7ccc" stroke-width="0.4"/>
<circle cx="264.00" cy="511.00" r="1.1" fill="#8a98d8" stroke="#6a7ccc" stroke-width="0.4"/>
<circle cx="267.30" cy="510.10" r="1.1" fill="#8a98d8" stroke="#6a7ccc" stroke-width="0.4"/>
<circle cx="270.60" cy="508.40" r="1.1" fill="#8a98d8" stroke="#6a7ccc" stroke-width="0.4"/>
<circle cx="273.90" cy="506.70" r="1.1" fill="#8a98d8" stroke="#6a7ccc" stroke-width="0.4"/>
<circle cx="276.60" cy="503.45" r="1.1" fill="#8a98d8" stroke="#6a7ccc" stroke-width="0.4"/>
<circle cx="279.30" cy="500.20" r="1.1" fill="#8a98d8" stroke="#6a7ccc" stroke-width="0.4"/>
<circle cx="282.05" cy="497.45" r="1.1" fill="#8a98d8" stroke="#6a7ccc" stroke-width="0.4"/>
<circle cx="284.80" cy="494.70" r="1.1" fill="#8a98d8" stroke="#6a7ccc" stroke-width="0.4"/>
<circle cx="288.10" cy="492.25" r="1.1" fill="#8a98d8" stroke="#6a7ccc" stroke-width="0.4"/>
<path d="M191.70,547.10 C192.80,546.73 196.28,546.00 198.30,544.90 C200.32,543.80 201.78,541.77 203.80,540.50 C205.82,539.23 208.22,538.50 210.40,537.30 C212.58,536.10 215.08,534.40 216.90,533.30 C218.72,532.20 219.47,531.50 221.30,530.70 C223.13,529.90 225.72,529.05 227.90,528.50 C230.08,527.95 232.22,528.13 234.40,527.40 C236.58,526.67 238.80,525.20 241.00,524.10 C243.20,523.00 245.40,522.07 247.60,520.80 C249.80,519.53 252.02,517.48 254.20,516.50 C256.38,515.52 258.52,515.63 260.70,514.90 C262.88,514.17 265.10,513.30 267.30,512.10 C269.50,510.90 271.90,509.35 273.90,507.70 C275.90,506.05 277.48,504.20 279.30,502.20 C281.12,500.20 282.78,497.70 284.80,495.70 C286.82,493.70 290.30,491.12 291.40,490.20" fill="none" stroke="#6a7ccc" stroke-width="1"/>
<circle cx="191.70" cy="547.10" r="1.1" fill="#8a98d8" stroke="#6a7ccc" stroke-width="0.4"/>
<circle cx="195.00" cy="546.00" r="1.1" fill="#8a98d8" stroke="#6a7ccc" stroke-width="0.4"/>
<circle cx="198.30" cy="544.90" r="1.1" fill="#8a98d8" stroke="#6a7ccc" stroke-width="0.4"/>
<circle cx="201.05" cy="542.70" r="1.1" fill="#8a98d8" stroke="#6a7ccc" stroke-width="0.4"/>
<circle cx="203.80" cy="540.50" r="1.1" fill="#8a98d8" stroke="#6a7ccc" stroke-width="0.4"/>
<circle cx="207.10" cy="538.90" r="1.1" fill="#8a98d8" stroke="#6a7ccc" stroke-width="0.4"/>
<circle cx="210.40" cy="537.30" r="1.1" fill="#8a98d8" stroke="#6a7ccc" stroke-width="0.4"/>
<circle cx="213.65" cy="535.30" r="1.1" fill="#8a98d8" stroke="#6a7ccc" stroke-width="0.4"/>
<circle cx="216.90" cy="533.30" r="1.1" fill="#8a98d8" stroke="#6a7ccc" stroke-width="0.4"/>
<circle cx="219.10" cy="532.00" r="1.1" fill="#8a98d8" stroke="#6a7ccc" stroke-width="0.4"/>
<circle cx="221.30" cy="530.70" r="1.1" fill="#8a98d8" stroke="#6a7ccc" stroke-width="0.4"/>
<circle cx="224.60" cy="529.60" r="1.1" fill="#8a98d8" stroke="#6a7ccc" stroke-width="0.4"/>
<circle cx="227.90" cy="528.50" r="1.1" fill="#8a98d8" stroke="#6a7ccc" stroke-width="0.4"/>
<circle cx="231.15" cy="527.95" r="1.1" fill="#8a98d8" stroke="#6a7ccc" stroke-width="0.4"/>
<circle cx="234.40" cy="527.40" r="1.1" fill="#8a98d8" stroke="#6a7ccc" stroke-width="0.4"/>
<circle cx="237.70" cy="525.75" r="1.1" fill="#8a98d8" stroke="#6a7ccc" stroke-width="0.4"/>
<circle cx="241.00" cy="524.10" r="1.1" fill="#8a98d8" stroke="#6a7ccc" stroke-width="0.4"/>
<circle cx="244.30" cy="522.45" r="1.1" fill="#8a98d8" stroke="#6a7ccc" stroke-width="0.4"/>
<circle cx="247.60" cy="520.80" r="1.1" fill="#8a98d8" stroke="#6a7ccc" stroke-width="0.4"/>
<circle cx="250.90" cy="518.65" r="1.1" fill="#8a98d8" stroke="#6a7ccc" stroke-width="0.4"/>
<circle cx="254.20" cy="516.50" r="1.1" fill="#8a98d8" stroke="#6a7ccc" stroke-width="0.4"/>
<circle cx="257.45" cy="515.70" r="1.1" fill="#8a98d8" stroke="#6a7ccc" stroke-width="0.4"/>
<circle cx="260.70" cy="514.90" r="1.1" fill="#8a98d8" stroke="#6a7ccc" stroke-width="0.4"/>
<circle cx="264.00" cy="513.50" r="1.1" fill="#8a98d8" stroke="#6a7ccc" stroke-width="0.4"/>
<circle cx="267.30" cy="512.10" r="1.1" fill="#8a98d8" stroke="#6a7ccc" stroke-width="0.4"/>
<circle cx="270.60" cy="509.90" r="1.1" fill="#8a98d8" stroke="#6a7ccc" stroke-width="0.4"/>
<circle cx="273.90" cy="507.70" r="1.1" fill="#8a98d8" stroke="#6a7ccc" stroke-width="0.4"/>
<circle cx="276.60" cy="504.95" r="1.1" fill="#8a98d8" stroke="#6a7ccc" stroke-width="0.4"/>
<circle cx="279.30" cy="502.20" r="1.1" fill="#8a98d8" stroke="#6a7ccc" stroke-width="0.4"/>
<circle cx="282.05" cy="498.95" r="1.1" fill="#8a98d8" stroke="#6a7ccc" stroke-width="0.4"/>
<circle cx="284.80" cy="495.70" r="1.1" fill="#8a98d8" stroke="#6a7ccc" stroke-width="0.4"/>
<circle cx="288.10" cy="492.95" r="1.1" fill="#8a98d8" stroke="#6a7ccc" stroke-width="0.4"/>
<path d="M191.70,542.10 C192.80,541.65 196.47,540.75 198.30,539.40 C200.13,538.05 201.05,536.00 202.70,534.00 C204.35,532.00 206.38,529.05 208.20,527.40 C210.02,525.75 211.78,524.83 213.60,524.10 C215.42,523.37 217.45,523.55 219.10,523.00 C220.75,522.45 221.85,521.70 223.50,520.80 C225.15,519.90 227.18,518.07 229.00,517.60 C230.82,517.13 232.58,518.08 234.40,518.00 C236.22,517.92 238.07,517.62 239.90,517.10 C241.73,516.58 243.38,515.73 245.40,514.90 C247.42,514.07 249.82,513.12 252.00,512.10 C254.18,511.08 256.32,509.72 258.50,508.80 C260.68,507.88 262.90,507.33 265.10,506.60 C267.30,505.87 269.52,505.50 271.70,504.40 C273.88,503.30 276.02,501.45 278.20,500.00 C280.38,498.55 282.60,497.23 284.80,495.70 C287.00,494.17 290.30,491.62 291.40,490.80" fill="none" stroke="#e8b048" stroke-width="1"/>
<circle cx="191.70" cy="542.10" r="1.1" fill="#eedc98" stroke="#e8b048" stroke-width="0.4"/>
<circle cx="195.00" cy="540.75" r="1.1" fill="#eedc98" stroke="#e8b048" stroke-width="0.4"/>
<circle cx="198.30" cy="539.40" r="1.1" fill="#eedc98" stroke="#e8b048" stroke-width="0.4"/>
<circle cx="200.50" cy="536.70" r="1.1" fill="#eedc98" stroke="#e8b048" stroke-width="0.4"/>
<circle cx="202.70" cy="534.00" r="1.1" fill="#eedc98" stroke="#e8b048" stroke-width="0.4"/>
<circle cx="205.45" cy="530.70" r="1.1" fill="#eedc98" stroke="#e8b048" stroke-width="0.4"/>
<circle cx="208.20" cy="527.40" r="1.1" fill="#eedc98" stroke="#e8b048" stroke-width="0.4"/>
<circle cx="210.90" cy="525.75" r="1.1" fill="#eedc98" stroke="#e8b048" stroke-width="0.4"/>
<circle cx="213.60" cy="524.10" r="1.1" fill="#eedc98" stroke="#e8b048" stroke-width="0.4"/>
<circle cx="216.35" cy="523.55" r="1.1" fill="#eedc98" stroke="#e8b048" stroke-width="0.4"/>
<circle cx="219.10" cy="523.00" r="1.1" fill="#eedc98" stroke="#e8b048" stroke-width="0.4"/>
<circle cx="221.30" cy="521.90" r="1.1" fill="#eedc98" stroke="#e8b048" stroke-width="0.4"/>
<circle cx="223.50" cy="520.80" r="1.1" fill="#eedc98" stroke="#e8b048" stroke-width="0.4"/>
<circle cx="226.25" cy="519.20" r="1.1" fill="#eedc98" stroke="#e8b048" stroke-width="0.4"/>
<circle cx="229.00" cy="517.60" r="1.1" fill="#eedc98" stroke="#e8b048" stroke-width="0.4"/>
<circle cx="231.70" cy="517.80" r="1.1" fill="#eedc98" stroke="#e8b048" stroke-width="0.4"/>
<circle cx="234.40" cy="518.00" r="1.1" fill="#eedc98" stroke="#e8b048" stroke-width="0.4"/>
<circle cx="237.15" cy="517.55" r="1.1" fill="#eedc98" stroke="#e8b048" stroke-width="0.4"/>
<circle cx="239.90" cy="517.10" r="1.1" fill="#eedc98" stroke="#e8b048" stroke-width="0.4"/>
<circle cx="242.65" cy="516.00" r="1.1" fill="#eedc98" stroke="#e8b048" stroke-width="0.4"/>
<circle cx="245.40" cy="514.90" r="1.1" fill="#eedc98" stroke="#e8b048" stroke-width="0.4"/>
<circle cx="248.70" cy="513.50" r="1.1" fill="#eedc98" stroke="#e8b048" stroke-width="0.4"/>
<circle cx="252.00" cy="512.10" r="1.1" fill="#eedc98" stroke="#e8b048" stroke-width="0.4"/>
<circle cx="255.25" cy="510.45" r="1.1" fill="#eedc98" stroke="#e8b048" stroke-width="0.4"/>
<circle cx="258.50" cy="508.80" r="1.1" fill="#eedc98" stroke="#e8b048" stroke-width="0.4"/>
<circle cx="261.80" cy="507.70" r="1.1" fill="#eedc98" stroke="#e8b048" stroke-width="0.4"/>
<circle cx="265.10" cy="506.60" r="1.1" fill="#eedc98" stroke="#e8b048" stroke-width="0.4"/>
<circle cx="268.40" cy="505.50" r="1.1" fill="#eedc98" stroke="#e8b048" stroke-width="0.4"/>
<circle cx="271.70" cy="504.40" r="1.1" fill="#eedc98" stroke="#e8b048" stroke-width="0.4"/>
<circle cx="274.95" cy="502.20" r="1.1" fill="#eedc98" stroke="#e8b048" stroke-width="0.4"/>
<circle cx="278.20" cy="500.00" r="1.1" fill="#eedc98" stroke="#e8b048" stroke-width="0.4"/>
<circle cx="281.50" cy="497.85" r="1.1" fill="#eedc98" stroke="#e8b048" stroke-width="0.4"/>
<circle cx="284.80" cy="495.70" r="1.1" fill="#eedc98" stroke="#e8b048" stroke-width="0.4"/>
<circle cx="288.10" cy="493.25" r="1.1" fill="#eedc98" stroke="#e8b048" stroke-width="0.4"/>
<text transform="translate(214.70,484.20) scale(1.1000,1)" x="0" y="0" font-size="6.6" text-anchor="middle" font-weight="bold" fill="#111">13</text>
<text transform="translate(243.60,484.20) scale(1.1000,1)" x="0" y="0" font-size="6.6" text-anchor="middle" font-weight="bold" fill="#111">18</text>
<text transform="translate(272.10,484.20) scale(1.1000,1)" x="0" y="0" font-size="6.6" text-anchor="middle" font-weight="bold" fill="#111">23</text>
<text transform="translate(300.10,484.20) scale(1.1000,1)" x="0" y="0" font-size="6.6" text-anchor="middle" font-weight="bold" fill="#111">28</text>
<line x1="185.2" y1="502.6" x2="184.0" y2="502.6" stroke="#333" stroke-width="0.6"/>
<line x1="185.2" y1="526.4" x2="184.0" y2="526.4" stroke="#333" stroke-width="0.6"/>
<line x1="185.2" y1="490.8" x2="183.8" y2="490.8" stroke="#333" stroke-width="0.7"/>
<text transform="translate(183.40,493.10) scale(1.1000,1)" x="0" y="0" font-size="6.6" text-anchor="end" font-weight="bold" fill="#111">1.0</text>
<line x1="185.2" y1="514.3" x2="183.8" y2="514.3" stroke="#333" stroke-width="0.7"/>
<text transform="translate(183.40,516.60) scale(1.1000,1)" x="0" y="0" font-size="6.6" text-anchor="end" font-weight="bold" fill="#111">0.6</text>
<line x1="185.2" y1="538.4" x2="183.8" y2="538.4" stroke="#333" stroke-width="0.7"/>
<text transform="translate(183.40,540.70) scale(1.1000,1)" x="0" y="0" font-size="6.6" text-anchor="end" font-weight="bold" fill="#111">0.2</text>
<text transform="translate(208.70,476.40) scale(0.9034,1)" x="-0.60" y="0" font-size="9.3" font-weight="bold" fill="#111">Particle size of SP (nm)</text>
<text transform="translate(171.20,544.30) rotate(-90) scale(1.0191,1)" x="-0.56" y="0" font-size="8.6" font-weight="bold" fill="#111">Normalized <tspan font-style="italic">χ</tspan><tspan font-size="5" dy="1.5">fd</tspan></text>
<path d="M41.5,395.0 H305.4 V554.4" fill="none" stroke="#8a8a8a" stroke-width="1.1"/>
<path d="M41.5,395.0 V554.4 H305.4" fill="none" stroke="#3a3a3a" stroke-width="1"/>
<line x1="41.50" y1="554.4" x2="41.50" y2="556.9" stroke="#3a3a3a" stroke-width="1"/>
<text transform="translate(42.50,569.40) scale(1.1000,1)" x="0" y="0" font-size="10.4" text-anchor="middle" font-weight="bold" fill="#111">0</text>
<line x1="84.08" y1="554.4" x2="84.08" y2="556.9" stroke="#3a3a3a" stroke-width="1"/>
<text transform="translate(85.08,569.40) scale(1.1000,1)" x="0" y="0" font-size="10.4" text-anchor="middle" font-weight="bold" fill="#111">50</text>
<line x1="126.67" y1="554.4" x2="126.67" y2="556.9" stroke="#3a3a3a" stroke-width="1"/>
<text transform="translate(127.67,569.40) scale(1.1000,1)" x="0" y="0" font-size="10.4" text-anchor="middle" font-weight="bold" fill="#111">100</text>
<line x1="169.25" y1="554.4" x2="169.25" y2="556.9" stroke="#3a3a3a" stroke-width="1"/>
<text transform="translate(170.25,569.40) scale(1.1000,1)" x="0" y="0" font-size="10.4" text-anchor="middle" font-weight="bold" fill="#111">150</text>
<line x1="211.83" y1="554.4" x2="211.83" y2="556.9" stroke="#3a3a3a" stroke-width="1"/>
<text transform="translate(212.83,569.40) scale(1.1000,1)" x="0" y="0" font-size="10.4" text-anchor="middle" font-weight="bold" fill="#111">200</text>
<line x1="254.42" y1="554.4" x2="254.42" y2="556.9" stroke="#3a3a3a" stroke-width="1"/>
<text transform="translate(255.42,569.40) scale(1.1000,1)" x="0" y="0" font-size="10.4" text-anchor="middle" font-weight="bold" fill="#111">250</text>
<line x1="297.00" y1="554.4" x2="297.00" y2="556.9" stroke="#3a3a3a" stroke-width="1"/>
<text transform="translate(298.00,569.40) scale(1.1000,1)" x="0" y="0" font-size="10.4" text-anchor="middle" font-weight="bold" fill="#111">300</text>
<line x1="41.5" y1="554.40" x2="39.0" y2="554.40" stroke="#3a3a3a" stroke-width="1"/>
<text transform="translate(35.60,558.10) scale(1.1000,1)" x="0" y="0" font-size="10.4" text-anchor="end" font-weight="bold" fill="#111">0.0</text>
<line x1="41.5" y1="526.04" x2="39.0" y2="526.04" stroke="#3a3a3a" stroke-width="1"/>
<text transform="translate(35.60,529.74) scale(1.1000,1)" x="0" y="0" font-size="10.4" text-anchor="end" font-weight="bold" fill="#111">0.2</text>
<line x1="41.5" y1="497.68" x2="39.0" y2="497.68" stroke="#3a3a3a" stroke-width="1"/>
<text transform="translate(35.60,501.38) scale(1.1000,1)" x="0" y="0" font-size="10.4" text-anchor="end" font-weight="bold" fill="#111">0.4</text>
<line x1="41.5" y1="469.32" x2="39.0" y2="469.32" stroke="#3a3a3a" stroke-width="1"/>
<text transform="translate(35.60,473.02) scale(1.1000,1)" x="0" y="0" font-size="10.4" text-anchor="end" font-weight="bold" fill="#111">0.6</text>
<line x1="41.5" y1="440.96" x2="39.0" y2="440.96" stroke="#3a3a3a" stroke-width="1"/>
<text transform="translate(35.60,444.66) scale(1.1000,1)" x="0" y="0" font-size="10.4" text-anchor="end" font-weight="bold" fill="#111">0.8</text>
<line x1="41.5" y1="412.60" x2="39.0" y2="412.60" stroke="#3a3a3a" stroke-width="1"/>
<text transform="translate(35.60,416.30) scale(1.1000,1)" x="0" y="0" font-size="10.4" text-anchor="end" font-weight="bold" fill="#111">1.0</text>
<text transform="translate(56.50,413.30) scale(1.0236,1)" x="-0.64" y="0" font-size="14.2" font-weight="bold" fill="#111">(e)</text>
<circle cx="125.4" cy="420.4" r="3.5" fill="#eedc98" stroke="#e8c070" stroke-width="0.5"/>
<circle cx="125.4" cy="436.2" r="3.5" fill="#8a98d8" stroke="#8090d0" stroke-width="0.5"/>
<text transform="translate(132.90,423.90) scale(0.9876,1)" x="-0.69" y="0" font-size="10.6" font-weight="bold" fill="#111">REY-rich samples</text>
<text transform="translate(132.90,439.60) scale(0.9964,1)" x="-0.69" y="0" font-size="10.6" font-weight="bold" fill="#111">Normal samples</text>
<text transform="translate(122.90,585.10) scale(1.0542,1)" x="-0.13" y="0" font-size="12.6" font-weight="bold" fill="#111">Temperature (K)</text>
<text transform="translate(12.00,519.00) rotate(-90) scale(1.1635,1)" x="-0.81" y="0" font-size="12.4" font-weight="bold" fill="#111">Normalized <tspan font-style="italic">χ</tspan><tspan font-size="7" dy="2">fd</tspan></text>
<line x1="417" y1="546.20" x2="662.8" y2="546.20" stroke="#5a6ad0" stroke-width="1.6"/>
<path d="M462.00,545.60 C463.33,545.37 467.00,544.87 470.00,544.20 C473.00,543.53 476.77,542.47 480.00,541.60 C483.23,540.73 486.47,539.55 489.40,539.00 C492.33,538.45 494.30,538.20 497.60,538.30 C500.90,538.40 504.63,539.10 509.20,539.60 C513.77,540.10 519.87,540.75 525.00,541.30 C530.13,541.85 534.17,542.35 540.00,542.90 C545.83,543.45 553.33,544.17 560.00,544.60 C566.67,545.03 573.33,545.30 580.00,545.50 C586.67,545.70 596.67,545.75 600.00,545.80 L600.00,545.80 C593.33,545.75 572.50,545.75 560.00,545.50 C547.50,545.25 535.40,544.62 525.00,544.30 C514.60,543.98 505.10,543.48 497.60,543.60 C490.10,543.72 485.93,544.63 480.00,545.00 C474.07,545.37 465.00,545.67 462.00,545.80 Z" fill="#b6a8e8" stroke="none"/>
<path d="M462.00,545.60 C463.33,545.37 467.00,544.87 470.00,544.20 C473.00,543.53 476.77,542.47 480.00,541.60 C483.23,540.73 486.47,539.55 489.40,539.00 C492.33,538.45 494.30,538.20 497.60,538.30 C500.90,538.40 504.63,539.10 509.20,539.60 C513.77,540.10 519.87,540.75 525.00,541.30 C530.13,541.85 534.17,542.35 540.00,542.90 C545.83,543.45 553.33,544.17 560.00,544.60 C566.67,545.03 573.33,545.30 580.00,545.50 C586.67,545.70 596.67,545.75 600.00,545.80" fill="none" stroke="#1a1a1a" stroke-width="0.6"/>
<path d="M462.00,545.80 C465.00,545.67 474.07,545.37 480.00,545.00 C485.93,544.63 490.10,543.72 497.60,543.60 C505.10,543.48 514.60,543.98 525.00,544.30 C535.40,544.62 547.50,545.25 560.00,545.50 C572.50,545.75 593.33,545.75 600.00,545.80" fill="none" stroke="#1a1a1a" stroke-width="0.6"/>
<path d="M462.00,545.70 C465.00,545.32 474.07,544.18 480.00,543.40 C485.93,542.62 490.10,541.10 497.60,541.00 C505.10,540.90 514.60,542.13 525.00,542.80 C535.40,543.47 547.50,544.50 560.00,545.00 C572.50,545.50 593.33,545.67 600.00,545.80" fill="none" stroke="#8e7cd4" stroke-width="0.9"/>
<path d="M540.00,545.80 C545.00,545.75 561.67,545.80 570.00,545.50 C578.33,545.20 584.33,544.72 590.00,544.00 C595.67,543.28 599.35,542.25 604.00,541.20 C608.65,540.15 613.25,538.80 617.90,537.70 C622.55,536.60 627.25,535.27 631.90,534.60 C636.55,533.93 641.95,533.92 645.80,533.70 C649.65,533.48 652.20,533.35 655.00,533.30 C657.80,533.25 661.33,533.38 662.60,533.40 L662.60,538.40 C661.33,538.43 657.80,538.45 655.00,538.60 C652.20,538.75 649.65,538.87 645.80,539.30 C641.95,539.73 636.55,540.53 631.90,541.20 C627.25,541.87 622.55,542.62 617.90,543.30 C613.25,543.98 608.65,544.85 604.00,545.30 C599.35,545.75 595.67,545.92 590.00,546.00 C584.33,546.08 578.33,545.83 570.00,545.80 C561.67,545.77 545.00,545.80 540.00,545.80 Z" fill="#c8eef4" stroke="none"/>
<path d="M540.00,545.80 C545.00,545.75 561.67,545.80 570.00,545.50 C578.33,545.20 584.33,544.72 590.00,544.00 C595.67,543.28 599.35,542.25 604.00,541.20 C608.65,540.15 613.25,538.80 617.90,537.70 C622.55,536.60 627.25,535.27 631.90,534.60 C636.55,533.93 641.95,533.92 645.80,533.70 C649.65,533.48 652.20,533.35 655.00,533.30 C657.80,533.25 661.33,533.38 662.60,533.40" fill="none" stroke="#1a1a1a" stroke-width="0.6"/>
<path d="M540.00,545.80 C545.00,545.80 561.67,545.77 570.00,545.80 C578.33,545.83 584.33,546.08 590.00,546.00 C595.67,545.92 599.35,545.75 604.00,545.30 C608.65,544.85 613.25,543.98 617.90,543.30 C622.55,542.62 627.25,541.87 631.90,541.20 C636.55,540.53 641.95,539.73 645.80,539.30 C649.65,538.87 652.20,538.75 655.00,538.60 C657.80,538.45 661.33,538.43 662.60,538.40" fill="none" stroke="#1a1a1a" stroke-width="0.6"/>
<path d="M540.00,545.80 C545.00,545.78 561.67,545.78 570.00,545.70 C578.33,545.62 584.33,545.58 590.00,545.30 C595.67,545.02 599.35,544.72 604.00,544.00 C608.65,543.28 613.25,541.97 617.90,541.00 C622.55,540.03 627.25,538.93 631.90,538.20 C636.55,537.47 641.95,536.95 645.80,536.60 C649.65,536.25 652.20,536.20 655.00,536.10 C657.80,536.00 661.33,536.02 662.60,536.00" fill="none" stroke="#2a9a84" stroke-width="0.9"/>
<path d="M417.00,543.90 C419.33,543.78 426.33,543.47 431.00,543.20 C435.67,542.93 439.75,542.75 445.00,542.30 C450.25,541.85 457.05,541.57 462.50,540.50 C467.95,539.43 473.22,537.83 477.70,535.90 C482.18,533.97 485.50,531.43 489.40,528.90 C493.30,526.37 497.30,523.22 501.10,520.70 C504.90,518.18 508.70,515.65 512.20,513.80 C515.70,511.95 519.33,510.48 522.10,509.60 C524.87,508.72 526.22,508.50 528.80,508.50 C531.38,508.50 534.28,508.68 537.60,509.60 C540.92,510.52 545.02,512.15 548.70,514.00 C552.38,515.85 556.02,518.30 559.70,520.70 C563.38,523.10 567.10,526.02 570.80,528.40 C574.50,530.78 578.22,533.15 581.90,535.00 C585.58,536.85 589.38,538.35 592.90,539.50 C596.42,540.65 599.32,541.12 603.00,541.90 C606.68,542.68 610.50,543.60 615.00,544.20 C619.50,544.80 627.50,545.28 630.00,545.50 L630.00,545.80 C625.00,545.77 606.92,545.73 600.00,545.60 C593.08,545.47 592.27,545.47 588.50,545.00 C584.73,544.53 581.08,544.08 577.40,542.80 C573.72,541.52 570.08,539.70 566.40,537.30 C562.72,534.90 559.00,531.17 555.30,528.40 C551.60,525.63 547.88,522.55 544.20,520.70 C540.52,518.85 536.40,517.75 533.20,517.30 C530.00,516.85 528.02,517.53 525.00,518.00 C521.98,518.47 518.32,518.87 515.10,520.10 C511.88,521.33 509.22,523.35 505.70,525.40 C502.18,527.45 497.88,530.07 494.00,532.40 C490.12,534.73 486.67,537.73 482.40,539.40 C478.13,541.07 474.63,541.58 468.40,542.40 C462.17,543.22 453.57,543.83 445.00,544.30 C436.43,544.77 421.67,545.05 417.00,545.20 Z" fill="#7888d8" stroke="none"/>
<path d="M417.00,543.90 C419.33,543.78 426.33,543.47 431.00,543.20 C435.67,542.93 439.75,542.75 445.00,542.30 C450.25,541.85 457.05,541.57 462.50,540.50 C467.95,539.43 473.22,537.83 477.70,535.90 C482.18,533.97 485.50,531.43 489.40,528.90 C493.30,526.37 497.30,523.22 501.10,520.70 C504.90,518.18 508.70,515.65 512.20,513.80 C515.70,511.95 519.33,510.48 522.10,509.60 C524.87,508.72 526.22,508.50 528.80,508.50 C531.38,508.50 534.28,508.68 537.60,509.60 C540.92,510.52 545.02,512.15 548.70,514.00 C552.38,515.85 556.02,518.30 559.70,520.70 C563.38,523.10 567.10,526.02 570.80,528.40 C574.50,530.78 578.22,533.15 581.90,535.00 C585.58,536.85 589.38,538.35 592.90,539.50 C596.42,540.65 599.32,541.12 603.00,541.90 C606.68,542.68 610.50,543.60 615.00,544.20 C619.50,544.80 627.50,545.28 630.00,545.50" fill="none" stroke="#1a1a1a" stroke-width="0.7"/>
<path d="M417.00,545.20 C421.67,545.05 436.43,544.77 445.00,544.30 C453.57,543.83 462.17,543.22 468.40,542.40 C474.63,541.58 478.13,541.07 482.40,539.40 C486.67,537.73 490.12,534.73 494.00,532.40 C497.88,530.07 502.18,527.45 505.70,525.40 C509.22,523.35 511.88,521.33 515.10,520.10 C518.32,518.87 521.98,518.47 525.00,518.00 C528.02,517.53 530.00,516.85 533.20,517.30 C536.40,517.75 540.52,518.85 544.20,520.70 C547.88,522.55 551.60,525.63 555.30,528.40 C559.00,531.17 562.72,534.90 566.40,537.30 C570.08,539.70 573.72,541.52 577.40,542.80 C581.08,544.08 584.73,544.53 588.50,545.00 C592.27,545.47 593.08,545.47 600.00,545.60 C606.92,545.73 625.00,545.77 630.00,545.80" fill="none" stroke="#1a1a1a" stroke-width="0.7"/>
<path d="M417.00,544.50 C421.67,544.30 436.43,543.80 445.00,543.30 C453.57,542.80 462.17,542.47 468.40,541.50 C474.63,540.53 478.13,539.38 482.40,537.50 C486.67,535.62 490.12,532.70 494.00,530.20 C497.88,527.70 502.18,524.80 505.70,522.50 C509.22,520.20 511.88,517.93 515.10,516.40 C518.32,514.87 521.98,513.88 525.00,513.30 C528.02,512.72 530.00,512.23 533.20,512.90 C536.40,513.57 540.52,515.35 544.20,517.30 C547.88,519.25 551.60,522.38 555.30,524.60 C559.00,526.82 562.72,528.57 566.40,530.60 C570.08,532.63 573.72,535.13 577.40,536.80 C581.08,538.47 584.73,539.57 588.50,540.60 C592.27,541.63 595.58,542.28 600.00,543.00 C604.42,543.72 610.00,544.45 615.00,544.90 C620.00,545.35 627.50,545.57 630.00,545.70" fill="none" stroke="#4658c0" stroke-width="0.9"/>
<path d="M480.35,544.67 L481.39,544.56 L482.42,544.43 L483.46,544.29 L484.49,544.15 L485.52,543.98 L486.56,543.81 L487.59,543.62 L488.63,543.41 L489.66,543.19 L490.69,542.95 L491.73,542.69 L492.76,542.41 L493.80,542.11 L494.83,541.78 L495.86,541.44 L496.90,541.06 L497.93,540.66 L498.97,540.23 L500.00,539.77 L501.03,539.28 L502.07,538.76 L503.10,538.21 L504.14,537.61 L505.17,536.98 L506.20,536.32 L507.24,535.61 L508.27,534.86 L509.31,534.06 L510.34,533.22 L511.37,532.34 L512.41,531.41 L513.44,530.42 L514.48,529.39 L515.51,528.31 L516.54,527.17 L517.58,525.98 L518.61,524.73 L519.65,523.43 L520.68,522.07 L521.71,520.65 L522.75,519.18 L523.78,517.65 L524.82,516.06 L525.85,514.41 L526.88,512.71 L527.92,510.95 L528.95,509.13 L529.99,507.25 L531.02,505.32 L532.05,503.33 L533.09,501.30 L534.12,499.21 L535.16,497.07 L536.19,494.89 L537.22,492.66 L538.26,490.39 L539.29,488.08 L540.33,485.74 L541.36,483.36 L542.39,480.95 L543.43,478.52 L544.46,476.07 L545.50,473.61 L546.53,471.13 L547.56,468.64 L548.60,466.15 L549.63,463.67 L550.67,461.19 L551.70,458.72 L552.73,456.28 L553.77,453.85 L554.80,451.46 L555.84,449.10 L556.87,446.78 L557.90,444.51 L558.94,442.29 L559.97,440.13 L561.01,438.04 L562.04,436.01 L563.07,434.05 L564.11,432.18 L565.14,430.39 L566.18,428.69 L567.21,427.09 L568.24,425.58 L569.28,424.18 L570.31,422.89 L571.35,421.71 L572.38,420.64 L573.41,419.69 L574.45,418.86 L575.48,418.15 L576.52,417.57 L577.55,417.12 L578.58,416.80 L579.62,416.60 L580.65,416.54 L581.69,416.60 L582.72,416.54 L583.75,416.60 L584.79,416.54 L585.82,416.62 L586.86,416.87 L587.89,417.28 L588.92,417.85 L589.96,418.58 L590.99,419.47 L592.03,420.51 L593.06,421.71 L594.09,423.04 L595.13,424.52 L596.16,426.14 L597.20,427.88 L598.23,429.74 L599.26,431.73 L600.30,433.82 L601.33,436.01 L602.37,438.29 L603.40,440.67 L604.43,443.12 L605.47,445.64 L606.50,448.23 L607.54,450.87 L608.57,453.55 L609.60,456.28 L610.64,459.03 L611.67,461.81 L612.71,464.60 L613.74,467.40 L614.77,470.20 L615.81,472.99 L616.84,475.77 L617.88,478.52 L618.91,481.26 L619.94,483.96 L620.98,486.62 L622.01,489.24 L623.05,491.81 L624.08,494.33 L625.11,496.80 L626.15,499.21 L627.18,501.55 L628.22,503.83 L629.25,506.05 L630.28,508.19 L631.32,510.27 L632.35,512.27 L633.39,514.20 L634.42,516.06 L635.45,517.84 L636.49,519.56 L637.52,521.19 L638.56,522.76 L639.59,524.25 L640.62,525.67 L641.66,527.02 L642.69,528.31 L643.73,529.52 L644.76,530.67 L645.79,531.76 L646.83,532.79 L647.86,533.75 L648.90,534.66 L649.93,535.52 L650.96,536.32 L652.00,537.07 L653.03,537.77 L654.07,538.42 L655.10,539.03 L656.13,539.59 L657.17,540.12 L658.20,540.61 L659.24,541.06 L660.27,541.48 L661.30,541.87 L662.34,542.22 L662.34,543.59 L661.30,543.36 L660.27,543.11 L659.24,542.83 L658.20,542.53 L657.17,542.21 L656.13,541.85 L655.10,541.47 L654.07,541.06 L653.03,540.61 L652.00,540.13 L650.96,539.61 L649.93,539.05 L648.90,538.46 L647.86,537.82 L646.83,537.13 L645.79,536.40 L644.76,535.62 L643.73,534.79 L642.69,533.91 L641.66,532.97 L640.62,531.98 L639.59,530.92 L638.56,529.81 L637.52,528.64 L636.49,527.40 L635.45,526.11 L634.42,524.74 L633.39,523.31 L632.35,521.82 L631.32,520.25 L630.28,518.62 L629.25,516.92 L628.22,515.16 L627.18,513.33 L626.15,511.43 L625.11,509.47 L624.08,507.45 L623.05,505.36 L622.01,503.22 L620.98,501.02 L619.94,498.77 L618.91,496.46 L617.88,494.11 L616.84,491.72 L615.81,489.28 L614.77,486.82 L613.74,484.32 L612.71,481.80 L611.67,479.26 L610.64,476.71 L609.60,474.15 L608.57,471.59 L607.54,469.04 L606.50,466.50 L605.47,463.99 L604.43,461.50 L603.40,459.04 L602.37,456.63 L601.33,454.27 L600.30,451.96 L599.26,449.72 L598.23,447.55 L597.20,445.46 L596.16,443.46 L595.13,441.55 L594.09,439.74 L593.06,438.03 L592.03,436.44 L590.99,434.97 L589.96,433.62 L588.92,432.39 L587.89,431.30 L586.86,430.35 L585.82,429.54 L584.79,428.87 L583.75,428.35 L582.72,427.97 L581.69,428.28 L580.65,428.75 L579.62,429.35 L578.58,430.09 L577.55,430.95 L576.52,431.93 L575.48,433.04 L574.45,434.27 L573.41,435.60 L572.38,437.05 L571.35,438.60 L570.31,440.25 L569.28,441.99 L568.24,443.83 L567.21,445.74 L566.18,447.73 L565.14,449.80 L564.11,451.92 L563.07,454.11 L562.04,456.35 L561.01,458.63 L559.97,460.95 L558.94,463.31 L557.90,465.69 L556.87,468.09 L555.84,470.51 L554.80,472.94 L553.77,475.36 L552.73,477.79 L551.70,480.21 L550.67,482.61 L549.63,485.00 L548.60,487.36 L547.56,489.70 L546.53,492.00 L545.50,494.27 L544.46,496.50 L543.43,498.69 L542.39,500.83 L541.36,502.92 L540.33,504.97 L539.29,506.96 L538.26,508.90 L537.22,510.78 L536.19,512.60 L535.16,514.36 L534.12,516.07 L533.09,517.71 L532.05,519.29 L531.02,520.82 L529.99,522.28 L528.95,523.68 L527.92,525.02 L526.88,526.31 L525.85,527.53 L524.82,528.70 L523.78,529.81 L522.75,530.87 L521.71,531.87 L520.68,532.82 L519.65,533.72 L518.61,534.57 L517.58,535.37 L516.54,536.13 L515.51,536.84 L514.48,537.51 L513.44,538.14 L512.41,538.73 L511.37,539.28 L510.34,539.79 L509.31,540.27 L508.27,540.72 L507.24,541.14 L506.20,541.52 L505.17,541.88 L504.14,542.22 L503.10,542.53 L502.07,542.81 L501.03,543.08 L500.00,543.32 L498.97,543.54 L497.93,543.75 L496.90,543.94 L495.86,544.11 L494.83,544.27 L493.80,544.42 L492.76,544.55 L491.73,544.67 L490.69,544.79 L489.66,544.89 L488.63,544.98 L487.59,545.06 L486.56,545.14 L485.52,545.21 L484.49,545.27 L483.46,545.33 L482.42,545.38 L481.39,545.42 L480.35,545.46 Z" fill="#f2da7a" stroke="none"/>
<path d="M480.35,544.67 L481.39,544.56 L482.42,544.43 L483.46,544.29 L484.49,544.15 L485.52,543.98 L486.56,543.81 L487.59,543.62 L488.63,543.41 L489.66,543.19 L490.69,542.95 L491.73,542.69 L492.76,542.41 L493.80,542.11 L494.83,541.78 L495.86,541.44 L496.90,541.06 L497.93,540.66 L498.97,540.23 L500.00,539.77 L501.03,539.28 L502.07,538.76 L503.10,538.21 L504.14,537.61 L505.17,536.98 L506.20,536.32 L507.24,535.61 L508.27,534.86 L509.31,534.06 L510.34,533.22 L511.37,532.34 L512.41,531.41 L513.44,530.42 L514.48,529.39 L515.51,528.31 L516.54,527.17 L517.58,525.98 L518.61,524.73 L519.65,523.43 L520.68,522.07 L521.71,520.65 L522.75,519.18 L523.78,517.65 L524.82,516.06 L525.85,514.41 L526.88,512.71 L527.92,510.95 L528.95,509.13 L529.99,507.25 L531.02,505.32 L532.05,503.33 L533.09,501.30 L534.12,499.21 L535.16,497.07 L536.19,494.89 L537.22,492.66 L538.26,490.39 L539.29,488.08 L540.33,485.74 L541.36,483.36 L542.39,480.95 L543.43,478.52 L544.46,476.07 L545.50,473.61 L546.53,471.13 L547.56,468.64 L548.60,466.15 L549.63,463.67 L550.67,461.19 L551.70,458.72 L552.73,456.28 L553.77,453.85 L554.80,451.46 L555.84,449.10 L556.87,446.78 L557.90,444.51 L558.94,442.29 L559.97,440.13 L561.01,438.04 L562.04,436.01 L563.07,434.05 L564.11,432.18 L565.14,430.39 L566.18,428.69 L567.21,427.09 L568.24,425.58 L569.28,424.18 L570.31,422.89 L571.35,421.71 L572.38,420.64 L573.41,419.69 L574.45,418.86 L575.48,418.15 L576.52,417.57 L577.55,417.12 L578.58,416.80 L579.62,416.60 L580.65,416.54 L581.69,416.60 L582.72,416.54 L583.75,416.60 L584.79,416.54 L585.82,416.62 L586.86,416.87 L587.89,417.28 L588.92,417.85 L589.96,418.58 L590.99,419.47 L592.03,420.51 L593.06,421.71 L594.09,423.04 L595.13,424.52 L596.16,426.14 L597.20,427.88 L598.23,429.74 L599.26,431.73 L600.30,433.82 L601.33,436.01 L602.37,438.29 L603.40,440.67 L604.43,443.12 L605.47,445.64 L606.50,448.23 L607.54,450.87 L608.57,453.55 L609.60,456.28 L610.64,459.03 L611.67,461.81 L612.71,464.60 L613.74,467.40 L614.77,470.20 L615.81,472.99 L616.84,475.77 L617.88,478.52 L618.91,481.26 L619.94,483.96 L620.98,486.62 L622.01,489.24 L623.05,491.81 L624.08,494.33 L625.11,496.80 L626.15,499.21 L627.18,501.55 L628.22,503.83 L629.25,506.05 L630.28,508.19 L631.32,510.27 L632.35,512.27 L633.39,514.20 L634.42,516.06 L635.45,517.84 L636.49,519.56 L637.52,521.19 L638.56,522.76 L639.59,524.25 L640.62,525.67 L641.66,527.02 L642.69,528.31 L643.73,529.52 L644.76,530.67 L645.79,531.76 L646.83,532.79 L647.86,533.75 L648.90,534.66 L649.93,535.52 L650.96,536.32 L652.00,537.07 L653.03,537.77 L654.07,538.42 L655.10,539.03 L656.13,539.59 L657.17,540.12 L658.20,540.61 L659.24,541.06 L660.27,541.48 L661.30,541.87 L662.34,542.22" fill="none" stroke="#1a1a1a" stroke-width="0.8"/>
<path d="M480.35,545.46 L481.39,545.42 L482.42,545.38 L483.46,545.33 L484.49,545.27 L485.52,545.21 L486.56,545.14 L487.59,545.06 L488.63,544.98 L489.66,544.89 L490.69,544.79 L491.73,544.67 L492.76,544.55 L493.80,544.42 L494.83,544.27 L495.86,544.11 L496.90,543.94 L497.93,543.75 L498.97,543.54 L500.00,543.32 L501.03,543.08 L502.07,542.81 L503.10,542.53 L504.14,542.22 L505.17,541.88 L506.20,541.52 L507.24,541.14 L508.27,540.72 L509.31,540.27 L510.34,539.79 L511.37,539.28 L512.41,538.73 L513.44,538.14 L514.48,537.51 L515.51,536.84 L516.54,536.13 L517.58,535.37 L518.61,534.57 L519.65,533.72 L520.68,532.82 L521.71,531.87 L522.75,530.87 L523.78,529.81 L524.82,528.70 L525.85,527.53 L526.88,526.31 L527.92,525.02 L528.95,523.68 L529.99,522.28 L531.02,520.82 L532.05,519.29 L533.09,517.71 L534.12,516.07 L535.16,514.36 L536.19,512.60 L537.22,510.78 L538.26,508.90 L539.29,506.96 L540.33,504.97 L541.36,502.92 L542.39,500.83 L543.43,498.69 L544.46,496.50 L545.50,494.27 L546.53,492.00 L547.56,489.70 L548.60,487.36 L549.63,485.00 L550.67,482.61 L551.70,480.21 L552.73,477.79 L553.77,475.36 L554.80,472.94 L555.84,470.51 L556.87,468.09 L557.90,465.69 L558.94,463.31 L559.97,460.95 L561.01,458.63 L562.04,456.35 L563.07,454.11 L564.11,451.92 L565.14,449.80 L566.18,447.73 L567.21,445.74 L568.24,443.83 L569.28,441.99 L570.31,440.25 L571.35,438.60 L572.38,437.05 L573.41,435.60 L574.45,434.27 L575.48,433.04 L576.52,431.93 L577.55,430.95 L578.58,430.09 L579.62,429.35 L580.65,428.75 L581.69,428.28 L582.72,427.97 L583.75,428.35 L584.79,428.87 L585.82,429.54 L586.86,430.35 L587.89,431.30 L588.92,432.39 L589.96,433.62 L590.99,434.97 L592.03,436.44 L593.06,438.03 L594.09,439.74 L595.13,441.55 L596.16,443.46 L597.20,445.46 L598.23,447.55 L599.26,449.72 L600.30,451.96 L601.33,454.27 L602.37,456.63 L603.40,459.04 L604.43,461.50 L605.47,463.99 L606.50,466.50 L607.54,469.04 L608.57,471.59 L609.60,474.15 L610.64,476.71 L611.67,479.26 L612.71,481.80 L613.74,484.32 L614.77,486.82 L615.81,489.28 L616.84,491.72 L617.88,494.11 L618.91,496.46 L619.94,498.77 L620.98,501.02 L622.01,503.22 L623.05,505.36 L624.08,507.45 L625.11,509.47 L626.15,511.43 L627.18,513.33 L628.22,515.16 L629.25,516.92 L630.28,518.62 L631.32,520.25 L632.35,521.82 L633.39,523.31 L634.42,524.74 L635.45,526.11 L636.49,527.40 L637.52,528.64 L638.56,529.81 L639.59,530.92 L640.62,531.98 L641.66,532.97 L642.69,533.91 L643.73,534.79 L644.76,535.62 L645.79,536.40 L646.83,537.13 L647.86,537.82 L648.90,538.46 L649.93,539.05 L650.96,539.61 L652.00,540.13 L653.03,540.61 L654.07,541.06 L655.10,541.47 L656.13,541.85 L657.17,542.21 L658.20,542.53 L659.24,542.83 L660.27,543.11 L661.30,543.36 L662.34,543.59" fill="none" stroke="#1a1a1a" stroke-width="0.8"/>
<path d="M480.35,545.16 L481.39,545.09 L482.42,545.01 L483.46,544.93 L484.49,544.83 L485.52,544.73 L486.56,544.62 L487.59,544.49 L488.63,544.36 L489.66,544.21 L490.69,544.05 L491.73,543.87 L492.76,543.68 L493.80,543.48 L494.83,543.25 L495.86,543.01 L496.90,542.75 L497.93,542.47 L498.97,542.16 L500.00,541.83 L501.03,541.48 L502.07,541.10 L503.10,540.69 L504.14,540.25 L505.17,539.78 L506.20,539.28 L507.24,538.75 L508.27,538.17 L509.31,537.57 L510.34,536.92 L511.37,536.23 L512.41,535.50 L513.44,534.72 L514.48,533.90 L515.51,533.03 L516.54,532.12 L517.58,531.15 L518.61,530.13 L519.65,529.06 L520.68,527.93 L521.71,526.75 L522.75,525.52 L523.78,524.23 L524.82,522.87 L525.85,521.46 L526.88,520.00 L527.92,518.47 L528.95,516.88 L529.99,515.24 L531.02,513.53 L532.05,511.77 L533.09,509.95 L534.12,508.07 L535.16,506.13 L536.19,504.15 L537.22,502.10 L538.26,500.01 L539.29,497.87 L540.33,495.69 L541.36,493.46 L542.39,491.18 L543.43,488.88 L544.46,486.54 L545.50,484.16 L546.53,481.77 L547.56,479.35 L548.60,476.91 L549.63,474.46 L550.67,472.00 L551.70,469.54 L552.73,467.09 L553.77,464.64 L554.80,462.20 L555.84,459.79 L556.87,457.40 L557.90,455.04 L558.94,452.72 L559.97,450.44 L561.01,448.21 L562.04,446.03 L563.07,443.92 L564.11,441.87 L565.14,439.90 L566.18,438.00 L567.21,436.19 L568.24,434.47 L569.28,432.84 L570.31,431.32 L571.35,429.89 L572.38,428.58 L573.41,427.37 L574.45,426.29 L575.48,425.32 L576.52,424.47 L577.55,423.75 L578.58,423.16 L579.62,422.70 L580.65,422.37 L581.69,422.17 L582.72,422.10 L583.75,422.18 L584.79,422.42 L585.82,422.81 L586.86,423.36 L587.89,424.06 L588.92,424.91 L589.96,425.91 L590.99,427.05 L592.03,428.33 L593.06,429.75 L594.09,431.29 L595.13,432.96 L596.16,434.74 L597.20,436.64 L598.23,438.64 L599.26,440.74 L600.30,442.92 L601.33,445.19 L602.37,447.54 L603.40,449.95 L604.43,452.43 L605.47,454.95 L606.50,457.52 L607.54,460.13 L608.57,462.77 L609.60,465.42 L610.64,468.10 L611.67,470.77 L612.71,473.45 L613.74,476.12 L614.77,478.78 L615.81,481.42 L616.84,484.04 L617.88,486.62 L618.91,489.17 L619.94,491.67 L620.98,494.14 L622.01,496.55 L623.05,498.91 L624.08,501.21 L625.11,503.46 L626.15,505.64 L627.18,507.76 L628.22,509.81 L629.25,511.80 L630.28,513.72 L631.32,515.56 L632.35,517.34 L633.39,519.05 L634.42,520.69 L635.45,522.25 L636.49,523.75 L637.52,525.18 L638.56,526.54 L639.59,527.83 L640.62,529.06 L641.66,530.22 L642.69,531.32 L643.73,532.37 L644.76,533.35 L645.79,534.27 L646.83,535.14 L647.86,535.96 L648.90,536.72 L649.93,537.44 L650.96,538.11 L652.00,538.74 L653.03,539.32 L654.07,539.86 L655.10,540.37 L656.13,540.83 L657.17,541.27 L658.20,541.67 L659.24,542.04 L660.27,542.38 L661.30,542.69 L662.34,542.98" fill="none" stroke="#d0a428" stroke-width="0.9"/>
<line x1="417" y1="545.80" x2="662.8" y2="545.80" stroke="#2f9c86" stroke-width="1.3"/>
<path d="M416.40,543.40 C418.77,543.07 425.95,542.15 430.60,541.40 C435.25,540.65 440.07,539.62 444.30,538.90 C448.53,538.18 452.10,537.68 456.00,537.10 C459.90,536.52 463.82,536.27 467.70,535.40 C471.58,534.53 475.80,533.27 479.30,531.90 C482.80,530.53 485.77,528.95 488.70,527.20 C491.63,525.45 494.18,523.53 496.90,521.40 C499.62,519.27 502.48,516.93 505.00,514.40 C507.52,511.87 509.67,509.13 512.00,506.20 C514.33,503.27 516.88,499.92 519.00,496.80 C521.12,493.68 522.73,490.58 524.70,487.50 C526.67,484.42 528.93,481.37 530.80,478.30 C532.67,475.23 534.20,472.00 535.90,469.10 C537.60,466.20 539.30,463.62 541.00,460.90 C542.70,458.18 544.40,455.52 546.10,452.80 C547.80,450.08 549.00,448.32 551.20,444.60 C553.40,440.88 556.73,434.42 559.30,430.50 C561.87,426.58 564.17,423.55 566.60,421.10 C569.03,418.65 571.47,416.93 573.90,415.80 C576.33,414.67 578.77,413.95 581.20,414.30 C583.63,414.65 586.43,416.20 588.50,417.90 C590.57,419.60 592.02,422.18 593.60,424.50 C595.18,426.82 596.62,429.30 598.00,431.80 C599.38,434.30 600.75,436.72 601.90,439.50 C603.05,442.28 603.88,445.17 604.90,448.50 C605.92,451.83 606.52,455.73 608.00,459.50 C609.48,463.27 611.88,467.00 613.80,471.10 C615.72,475.20 617.33,479.53 619.50,484.10 C621.67,488.67 624.38,493.93 626.80,498.50 C629.22,503.07 631.60,507.88 634.00,511.50 C636.40,515.12 638.78,517.78 641.20,520.20 C643.62,522.62 645.85,524.32 648.50,526.00 C651.15,527.68 654.87,529.22 657.10,530.30 C659.33,531.38 661.10,532.13 661.90,532.50" fill="none" stroke="#1a1a1a" stroke-width="2.9"/>
<path d="M662.6,530.4 L662.6,536.2" stroke="#1a1a1a" stroke-width="0.8"/>
<path d="M550.5,443 L560,429.2 L566.5,419.6 L572,413.2 L582.3,407.3 L586,412 L589.5,417.5" fill="none" stroke="#1a1a1a" stroke-width="0.75" stroke-linejoin="miter"/>
<path d="M548,447 L558,431.5 L565,421.5 L571.5,414.6 L580,410.2" fill="none" stroke="#555" stroke-width="0.6"/>
<path d="M417.10,543.90 C419.47,543.57 426.65,542.65 431.30,541.90 C435.95,541.15 440.77,540.12 445.00,539.40 C449.23,538.68 452.80,538.18 456.70,537.60 C460.60,537.02 464.52,536.77 468.40,535.90 C472.28,535.03 476.50,533.77 480.00,532.40 C483.50,531.03 486.47,529.45 489.40,527.70 C492.33,525.95 494.88,524.03 497.60,521.90 C500.32,519.77 503.18,517.43 505.70,514.90 C508.22,512.37 510.37,509.63 512.70,506.70 C515.03,503.77 517.58,500.42 519.70,497.30 C521.82,494.18 523.43,491.08 525.40,488.00 C527.37,484.92 529.63,481.87 531.50,478.80 C533.37,475.73 534.90,472.50 536.60,469.60 C538.30,466.70 540.00,464.12 541.70,461.40 C543.40,458.68 545.10,456.02 546.80,453.30 C548.50,450.58 549.70,448.82 551.90,445.10 C554.10,441.38 557.43,434.92 560.00,431.00 C562.57,427.08 564.87,424.05 567.30,421.60 C569.73,419.15 572.17,417.43 574.60,416.30 C577.03,415.17 579.47,414.45 581.90,414.80 C584.33,415.15 587.13,416.70 589.20,418.40 C591.27,420.10 592.72,422.68 594.30,425.00 C595.88,427.32 597.32,429.80 598.70,432.30 C600.08,434.80 601.45,437.22 602.60,440.00 C603.75,442.78 604.58,445.67 605.60,449.00 C606.62,452.33 607.22,456.23 608.70,460.00 C610.18,463.77 612.58,467.50 614.50,471.60 C616.42,475.70 618.03,480.03 620.20,484.60 C622.37,489.17 625.08,494.43 627.50,499.00 C629.92,503.57 632.30,508.38 634.70,512.00 C637.10,515.62 639.48,518.28 641.90,520.70 C644.32,523.12 646.55,524.82 649.20,526.50 C651.85,528.18 655.57,529.72 657.80,530.80 C660.03,531.88 661.80,532.63 662.60,533.00" fill="none" stroke="#e02424" stroke-width="1.8"/>
<circle cx="416.2" cy="543.6" r="2.0" fill="#c4c4c4" opacity="0.9"/>
<circle cx="448.5" cy="535.3" r="2.0" fill="#c4c4c4" opacity="0.9"/>
<circle cx="478.9" cy="531.2" r="2.0" fill="#c4c4c4" opacity="0.9"/>
<circle cx="497" cy="520.7" r="2.0" fill="#c4c4c4" opacity="0.9"/>
<circle cx="511" cy="513.1" r="2.0" fill="#c4c4c4" opacity="0.9"/>
<circle cx="520" cy="494.3" r="2.0" fill="#c4c4c4" opacity="0.9"/>
<circle cx="528.2" cy="486.7" r="2.0" fill="#c4c4c4" opacity="0.9"/>
<circle cx="541.5" cy="448" r="2.0" fill="#c4c4c4" opacity="0.9"/>
<circle cx="572.5" cy="412.9" r="2.0" fill="#c4c4c4" opacity="0.9"/>
<circle cx="582.8" cy="399.9" r="2.0" fill="#c4c4c4" opacity="0.9"/>
<circle cx="618.6" cy="477.7" r="2.0" fill="#c4c4c4" opacity="0.9"/>
<circle cx="639.5" cy="516" r="2.0" fill="#c4c4c4" opacity="0.9"/>
<circle cx="662.0" cy="541.0" r="2.0" fill="#c4c4c4" opacity="0.9"/>
<path d="M407.9,395.1 H673.0 V550.8" fill="none" stroke="#8a8a8a" stroke-width="1.1"/>
<path d="M407.9,395.1 V550.8 H673.0" fill="none" stroke="#3a3a3a" stroke-width="1"/>
<line x1="448.30" y1="550.8" x2="448.30" y2="553.8" stroke="#3a3a3a" stroke-width="0.9"/>
<text transform="translate(448.90,564.50) scale(1.1000,1)" x="0" y="0" font-size="9.0" text-anchor="middle" font-weight="bold" fill="#111">0</text>
<line x1="500.00" y1="550.8" x2="500.00" y2="553.8" stroke="#3a3a3a" stroke-width="0.9"/>
<text transform="translate(500.60,564.50) scale(1.1000,1)" x="0" y="0" font-size="9.0" text-anchor="middle" font-weight="bold" fill="#111">0.5</text>
<line x1="551.70" y1="550.8" x2="551.70" y2="553.8" stroke="#3a3a3a" stroke-width="0.9"/>
<text transform="translate(552.30,564.50) scale(1.1000,1)" x="0" y="0" font-size="9.0" text-anchor="middle" font-weight="bold" fill="#111">1</text>
<line x1="603.40" y1="550.8" x2="603.40" y2="553.8" stroke="#3a3a3a" stroke-width="0.9"/>
<text transform="translate(604.00,564.50) scale(1.1000,1)" x="0" y="0" font-size="9.0" text-anchor="middle" font-weight="bold" fill="#111">1.5</text>
<line x1="655.10" y1="550.8" x2="655.10" y2="553.8" stroke="#3a3a3a" stroke-width="0.9"/>
<text transform="translate(655.70,564.50) scale(1.1000,1)" x="0" y="0" font-size="9.0" text-anchor="middle" font-weight="bold" fill="#111">2</text>
<line x1="407.9" y1="545.80" x2="405.4" y2="545.80" stroke="#3a3a3a" stroke-width="1"/>
<text transform="translate(401.90,549.10) scale(1.1000,1)" x="0" y="0" font-size="9.4" text-anchor="end" font-weight="bold" fill="#111">0</text>
<line x1="407.9" y1="517.10" x2="405.4" y2="517.10" stroke="#3a3a3a" stroke-width="1"/>
<text transform="translate(401.90,520.40) scale(1.1000,1)" x="0" y="0" font-size="9.4" text-anchor="end" font-weight="bold" fill="#111">5</text>
<line x1="407.9" y1="488.40" x2="405.4" y2="488.40" stroke="#3a3a3a" stroke-width="1"/>
<text transform="translate(401.90,491.70) scale(1.1000,1)" x="0" y="0" font-size="9.4" text-anchor="end" font-weight="bold" fill="#111">10</text>
<line x1="407.9" y1="459.70" x2="405.4" y2="459.70" stroke="#3a3a3a" stroke-width="1"/>
<text transform="translate(401.90,463.00) scale(1.1000,1)" x="0" y="0" font-size="9.4" text-anchor="end" font-weight="bold" fill="#111">15</text>
<line x1="407.9" y1="431.00" x2="405.4" y2="431.00" stroke="#3a3a3a" stroke-width="1"/>
<text transform="translate(401.90,434.30) scale(1.1000,1)" x="0" y="0" font-size="9.4" text-anchor="end" font-weight="bold" fill="#111">20</text>
<line x1="407.9" y1="402.30" x2="405.4" y2="402.30" stroke="#3a3a3a" stroke-width="1"/>
<text transform="translate(401.90,405.60) scale(1.1000,1)" x="0" y="0" font-size="9.4" text-anchor="end" font-weight="bold" fill="#111">25</text>
<text transform="translate(420.30,414.20) scale(1.0826,1)" x="-0.64" y="0" font-size="14.2" font-weight="bold" fill="#111">(f)</text>
<text transform="translate(451.60,450.50) scale(1.1612,1)" x="-0.60" y="0" font-size="9.2" font-weight="bold" fill="#e0a23e">Biomagnetic</text>
<text transform="translate(453.70,461.50) scale(1.1331,1)" x="-0.37" y="0" font-size="9.2" font-weight="bold" fill="#e0a23e">Con.: 75.7%</text>
<text transform="translate(461.40,472.60) scale(1.1200,1)" x="-0.60" y="0" font-size="9.2" font-weight="bold" fill="#e0a23e">B<tspan font-size="5.2" dy="2">1/2</tspan><tspan dy="-2">= 19.0</tspan></text>
<text transform="translate(461.40,483.60) scale(1.0940,1)" x="-0.60" y="0" font-size="9.2" font-weight="bold" fill="#e0a23e">DP = 1.98</text>
<path d="M509.5,468.3 H545.4 V476.3" fill="none" stroke="#e0a23e" stroke-width="1"/>
<text transform="translate(563.10,482.50) scale(1.1889,1)" x="-0.60" y="0" font-size="9.2" font-weight="bold" fill="#4b5cc0">Inorganic</text>
<text transform="translate(556.60,494.50) scale(1.1584,1)" x="-0.37" y="0" font-size="9.2" font-weight="bold" fill="#4b5cc0">Con.: 18.5%</text>
<text transform="translate(567.20,505.70) scale(1.1200,1)" x="-0.60" y="0" font-size="9.2" font-weight="bold" fill="#4b5cc0">B<tspan font-size="5.2" dy="2">1/2</tspan><tspan dy="-2">= 6.38</tspan></text>
<text transform="translate(563.60,516.10) scale(1.0844,1)" x="-0.60" y="0" font-size="9.2" font-weight="bold" fill="#4b5cc0">DP = 1.92</text>
<path d="M563.6,497.3 H545.4 V515.5" fill="none" stroke="#4b5cc0" stroke-width="1"/>
<text transform="translate(504.80,582.00) scale(1.1022,1)" x="-0.81" y="0" font-size="12.4" font-weight="bold" fill="#111">log <tspan font-style="italic">B</tspan> (mT)</text>
<text transform="translate(376.90,532.80) rotate(-90) scale(1.1304,1)" x="-0.81" y="0" font-size="12.4" font-weight="bold" fill="#111">IRM gradient (10<tspan font-size="7.5" dy="-4.5">-3</tspan><tspan dy="4.5">)</tspan></text>
</svg>
</body></html>
